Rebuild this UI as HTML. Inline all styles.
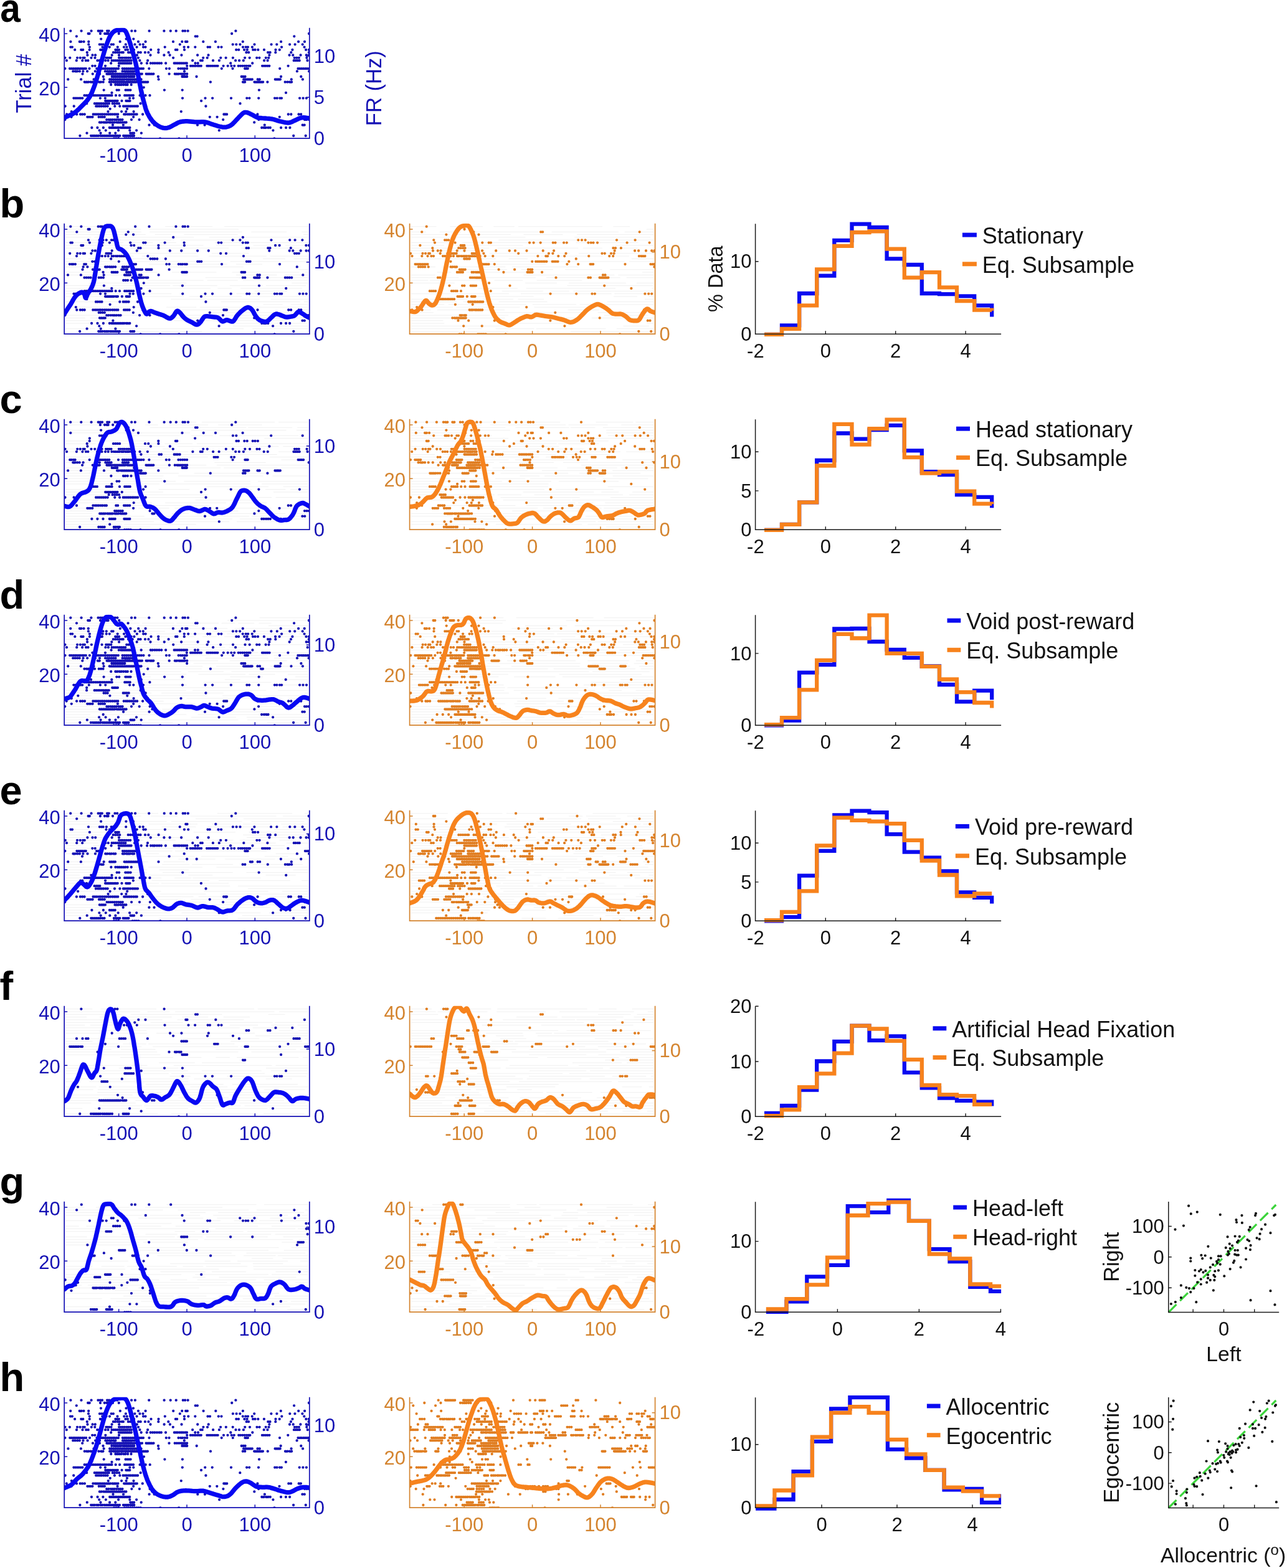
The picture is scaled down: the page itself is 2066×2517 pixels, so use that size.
<!DOCTYPE html>
<html><head><meta charset="utf-8"><style>html,body{margin:0;padding:0;background:#fff;}svg{display:block;filter:blur(0.4px);}</style></head><body>
<svg width="2066" height="2517" viewBox="0 0 2066 2517" font-family="'Liberation Sans', Arial, Helvetica, sans-serif">
<rect width="2066" height="2517" fill="#fff"/>
<clipPath id="clip_blue_a"><rect x="103.2" y="44.7" width="393.6" height="177.5"/></clipPath>
<path d="M183.1 222.3h0M186.3 222.3h0M189.7 222.3h0M200.4 222.3h0M203.2 222.3h0M206.6 222.3h0M209.8 222.3h0M213 222.3h0M215.9 222.3h0M219.3 222.3h0M222.4 222.3h0M225.8 222.3h0M257 222.3h0M287.4 222.3h0M440.4 222.3h0M128.4 218h0M146.1 218h0M149.3 218h0M152.1 218h0M155.2 218h0M158.2 218h0M161.6 218h0M164.5 218h0M167.4 218h0M170.5 218h0M173.5 218h0M176.7 218h0M179.9 218h0M182.9 218h0M186.1 218h0M188.9 218h0M192.3 218h0M198.2 218h0M200.9 218h0M203.8 218h0M206.7 218h0M209.2 218h0M212.3 218h0M215 218h0M471.2 218h0M490.7 218h0M139.5 213.7h0M161.6 213.7h0M176.2 213.7h0M185.3 213.7h0M209.3 213.7h0M212.5 213.7h0M215 213.7h0M226.9 213.7h0M159.6 209.3h0M169.8 209.3h0M190.1 209.3h0M208.3 209.3h0M219.1 209.3h0M351.8 209.3h0M438.4 209.3h0M147.4 205h0M156.4 205h0M165.9 205h0M175.8 205h0M179 205h0M181.7 205h0M184.8 205h0M188 205h0M190.5 205h0M193.9 205h0M196.8 205h0M199.6 205h0M202.2 205h0M205.3 205h0M208.4 205h0M420.2 205h0M423.6 205h0M426.8 205h0M430.5 205h0M433.8 205h0M451.1 205h0M459.1 205h0M465.4 205h0M181 200.7h0M197.9 200.7h0M239.5 200.7h0M247.8 200.7h0M317 200.7h0M328.6 200.7h0M424.8 200.7h0M485.7 200.7h0M488.7 200.7h0M159.9 196.4h0M162.9 196.4h0M166.2 196.4h0M168.9 196.4h0M172 196.4h0M175.3 196.4h0M178 196.4h0M181.1 196.4h0M184 196.4h0M187.5 196.4h0M190.2 196.4h0M193.4 196.4h0M196.4 196.4h0M199.7 196.4h0M202.6 196.4h0M244.3 196.4h0M247.7 196.4h0M408.2 196.4h0M104.4 192.1h0M171.2 192.1h0M174.7 192.1h0M177.7 192.1h0M180.8 192.1h0M184.1 192.1h0M187.1 192.1h0M190.5 192.1h0M193.4 192.1h0M196.5 192.1h0M211 192.1h0M223.6 192.1h0M240.9 192.1h0M358.2 192.1h0M415.3 192.1h0M489.1 192.1h0M492.2 192.1h0M496.1 192.1h0M114.6 187.8h0M140.3 187.8h0M143 187.8h0M145.8 187.8h0M148.5 187.8h0M158.6 187.8h0M162 187.8h0M164.9 187.8h0M167.8 187.8h0M188.9 187.8h0M214.2 187.8h0M240.9 187.8h0M336.8 187.8h0M348.6 187.8h0M448.8 187.8h0M107.1 183.5h0M123.2 183.5h0M129.1 183.5h0M132.2 183.5h0M135.8 183.5h0M149.7 183.5h0M152.6 183.5h0M155.7 183.5h0M158.7 183.5h0M162 183.5h0M164.8 183.5h0M168.1 183.5h0M171.1 183.5h0M174.2 183.5h0M177.1 183.5h0M180.1 183.5h0M183.4 183.5h0M186.2 183.5h0M189.2 183.5h0M199.2 183.5h0M201.8 183.5h0M205.2 183.5h0M208 183.5h0M211 183.5h0M214 183.5h0M216.6 183.5h0M219.6 183.5h0M229.1 183.5h0M359.4 183.5h0M361.7 183.5h0M364.1 183.5h0M413.4 183.5h0M462.8 183.5h0M467.3 183.5h0M479.5 183.5h0M483.2 183.5h0M114.8 179.1h0M121.9 179.1h0M173.5 179.1h0M195.1 179.1h0M202.3 179.1h0M214.6 179.1h0M237.3 179.1h0M290.8 179.1h0M125 174.8h0M176.7 174.8h0M204.1 174.8h0M104.6 170.5h0M118.7 170.5h0M154.3 170.5h0M157 170.5h0M160 170.5h0M163.1 170.5h0M166.6 170.5h0M169.3 170.5h0M172.7 170.5h0M184.3 170.5h0M192.3 170.5h0M198.1 170.5h0M200.9 170.5h0M203.8 170.5h0M206.6 170.5h0M209.5 170.5h0M212.1 170.5h0M215.2 170.5h0M218.3 170.5h0M220.9 170.5h0M233.8 170.5h0M330.4 170.5h0M139.2 166.2h0M151.9 166.2h0M154.9 166.2h0M157.5 166.2h0M160.5 166.2h0M163.2 166.2h0M166.3 166.2h0M169.3 166.2h0M171.9 166.2h0M175 166.2h0M180.7 166.2h0M183.9 166.2h0M187.7 166.2h0M190.9 166.2h0M225.6 166.2h0M385.5 166.2h0M139.1 161.9h0M169.2 161.9h0M171.8 161.9h0M174.8 161.9h0M177.4 161.9h0M180.3 161.9h0M183.3 161.9h0M185.8 161.9h0M188.6 161.9h0M195.5 161.9h0M202.4 161.9h0M205.5 161.9h0M208.5 161.9h0M323.1 161.9h0M118.4 157.6h0M121.1 157.6h0M123.8 157.6h0M126.9 157.6h0M129.5 157.6h0M132.3 157.6h0M142.6 157.6h0M160.9 157.6h0M168.9 157.6h0M208.2 157.6h0M214 157.6h0M230.2 157.6h0M293 157.6h0M329.5 157.6h0M341.1 157.6h0M371 157.6h0M396.3 157.6h0M400.4 157.6h0M415.2 157.6h0M441.1 157.6h0M444.8 157.6h0M449.4 157.6h0M452 157.6h0M481.1 157.6h0M486.6 157.6h0M491.9 157.6h0M135.5 153.2h0M138.7 153.2h0M141.8 153.2h0M144.4 153.2h0M147.6 153.2h0M150.4 153.2h0M153 153.2h0M155.9 153.2h0M159 153.2h0M162.2 153.2h0M165 153.2h0M167.9 153.2h0M170.9 153.2h0M173.6 153.2h0M176.4 153.2h0M179.5 153.2h0M186 153.2h0M192 153.2h0M200.2 153.2h0M202.9 153.2h0M205.7 153.2h0M208.3 153.2h0M211.5 153.2h0M213.9 153.2h0M224.6 153.2h0M233.5 153.2h0M240.5 153.2h0M146 148.9h0M179.5 148.9h0M226.7 148.9h0M459 148.9h0M166.7 144.6h0M187.6 144.6h0M190.8 144.6h0M201.6 144.6h0M204.1 144.6h0M206.8 144.6h0M209.4 144.6h0M263.9 144.6h0M292.7 144.6h0M415.9 144.6h0M230.8 140.3h0M178.2 136h0M185.3 136h0M188.7 136h0M191.7 136h0M194.9 136h0M198.2 136h0M201.6 136h0M204.6 136h0M210.7 136h0M135.8 131.7h0M139 131.7h0M142 131.7h0M145.6 131.7h0M148.8 131.7h0M151.7 131.7h0M159 131.7h0M162 131.7h0M165.7 131.7h0M175.8 131.7h0M178.9 131.7h0M182.2 131.7h0M185.3 131.7h0M188.2 131.7h0M191.2 131.7h0M194.4 131.7h0M197.4 131.7h0M200.4 131.7h0M203.5 131.7h0M206.5 131.7h0M209.6 131.7h0M212.5 131.7h0M215.7 131.7h0M218.7 131.7h0M222 131.7h0M225.1 131.7h0M228.1 131.7h0M230.9 131.7h0M234 131.7h0M237.2 131.7h0M337.9 131.7h0M390 131.7h0M393.1 131.7h0M408.5 131.7h0M411.1 131.7h0M414 131.7h0M416.6 131.7h0M419.5 131.7h0M422.1 131.7h0M429.4 131.7h0M457.7 131.7h0M461.4 131.7h0M465 131.7h0M468.1 131.7h0M109.2 127.4h0M130.1 127.4h0M150.6 127.4h0M166.7 127.4h0M176.2 127.4h0M178.8 127.4h0M181.9 127.4h0M185 127.4h0M188 127.4h0M191.2 127.4h0M193.9 127.4h0M196.9 127.4h0M199.7 127.4h0M203 127.4h0M205.6 127.4h0M208.6 127.4h0M211.8 127.4h0M215 127.4h0M217.7 127.4h0M220.7 127.4h0M223.5 127.4h0M226.6 127.4h0M254.6 127.4h0M391.2 127.4h0M393.6 127.4h0M396.8 127.4h0M399.3 127.4h0M401.9 127.4h0M404.8 127.4h0M413.7 127.4h0M416.8 127.4h0M441.8 127.4h0M444.6 127.4h0M447.3 127.4h0M449.9 127.4h0M467.8 127.4h0M485.9 127.4h0M165.8 123h0M179.7 123h0M182.5 123h0M185.2 123h0M188.3 123h0M191.4 123h0M194.3 123h0M197.5 123h0M200.2 123h0M203.1 123h0M206.4 123h0M209.5 123h0M212.2 123h0M215.3 123h0M253.9 123h0M292.5 123h0M295.1 123h0M297.2 123h0M300.1 123h0M300 123h0M315.5 123h0M387.7 123h0M390.3 123h0M393.5 123h0M451.1 123h0M483.3 123h0M132.5 118.7h0M148.8 118.7h0M156.7 118.7h0M160.1 118.7h0M171.5 118.7h0M174.5 118.7h0M177.2 118.7h0M180.4 118.7h0M183.1 118.7h0M186.3 118.7h0M189 118.7h0M192.1 118.7h0M195 118.7h0M198.1 118.7h0M201 118.7h0M204.2 118.7h0M207.1 118.7h0M210.2 118.7h0M213.2 118.7h0M216.1 118.7h0M219 118.7h0M221.9 118.7h0M225 118.7h0M227.8 118.7h0M234.7 118.7h0M237.6 118.7h0M240.3 118.7h0M243.3 118.7h0M246.4 118.7h0M271.6 118.7h0M280.8 118.7h0M283.9 118.7h0M287.1 118.7h0M290.6 118.7h0M293.8 118.7h0M296.7 118.7h0M300.2 118.7h0M117.3 114.4h0M120.9 114.4h0M124 114.4h0M127.9 114.4h0M133.4 114.4h0M140.1 114.4h0M152.8 114.4h0M159.7 114.4h0M168.9 114.4h0M172.5 114.4h0M175.7 114.4h0M178.7 114.4h0M181.9 114.4h0M185.5 114.4h0M196.6 114.4h0M200 114.4h0M203.1 114.4h0M205.9 114.4h0M209 114.4h0M212.1 114.4h0M215.1 114.4h0M296 114.4h0M476.9 114.4h0M496.1 114.4h0M104.4 110.1h0M112 110.1h0M115 110.1h0M118 110.1h0M121 110.1h0M123.8 110.1h0M126.3 110.1h0M129.5 110.1h0M132.1 110.1h0M135.1 110.1h0M137.8 110.1h0M143.5 110.1h0M155.3 110.1h0M158.4 110.1h0M161 110.1h0M163.7 110.1h0M166.9 110.1h0M169.6 110.1h0M172.4 110.1h0M175.3 110.1h0M178.5 110.1h0M181.4 110.1h0M184.1 110.1h0M187 110.1h0M190 110.1h0M196.7 110.1h0M199.8 110.1h0M203 110.1h0M206 110.1h0M209.1 110.1h0M212 110.1h0M215.2 110.1h0M218.2 110.1h0M220.9 110.1h0M224.2 110.1h0M227.2 110.1h0M230 110.1h0M239.3 110.1h0M267 110.1h0M271.9 110.1h0M286.4 110.1h0M290.2 110.1h0M293.5 110.1h0M296.6 110.1h0M300.1 110.1h0M355.8 110.1h0M373.5 110.1h0M393.1 110.1h0M395.7 110.1h0M397.8 110.1h0M449.2 110.1h0M478.5 110.1h0M481.2 110.1h0M484.3 110.1h0M487.2 110.1h0M490.3 110.1h0M493 110.1h0M496.1 110.1h0M148.3 105.8h0M152.6 105.8h0M169.1 105.8h0M190.8 105.8h0M300.2 105.8h0M305.9 105.8h0M308.7 105.8h0M311.5 105.8h0M314.2 105.8h0M317.5 105.8h0M319.9 105.8h0M322.8 105.8h0M332.4 105.8h0M335 105.8h0M337.9 105.8h0M340.8 105.8h0M343.8 105.8h0M346.8 105.8h0M349.5 105.8h0M358.6 105.8h0M365.7 105.8h0M371.4 105.8h0M376.2 105.8h0M382.7 105.8h0M386.1 105.8h0M389.4 105.8h0M392.8 105.8h0M395.7 105.8h0M399.2 105.8h0M401.4 105.8h0M421.1 105.8h0M424 105.8h0M426.7 105.8h0M429.7 105.8h0M432.3 105.8h0M462.6 105.8h0M178.2 101.5h0M191 101.5h0M193.6 101.5h0M196.8 101.5h0M199.4 101.5h0M202.3 101.5h0M205 101.5h0M207.9 101.5h0M210.4 101.5h0M226.9 101.5h0M235.9 101.5h0M241.8 101.5h0M245.4 101.5h0M248.7 101.5h0M252.2 101.5h0M255.5 101.5h0M259 101.5h0M266.1 101.5h0M279.7 101.5h0M282.4 101.5h0M285.4 101.5h0M288.4 101.5h0M291.1 101.5h0M294 101.5h0M297.1 101.5h0M299.8 101.5h0M313.5 101.5h0M317.7 101.5h0M370.2 101.5h0M405.2 101.5h0M106.9 97.2h0M122.8 97.2h0M132.3 97.2h0M137.8 97.2h0M141.3 97.2h0M156.4 97.2h0M159.7 97.2h0M163.6 97.2h0M169.3 97.2h0M173.6 97.2h0M179.6 97.2h0M182.7 97.2h0M185.8 97.2h0M188.8 97.2h0M191.9 97.2h0M195.1 97.2h0M198 97.2h0M201 97.2h0M204.2 97.2h0M207.3 97.2h0M210.6 97.2h0M216 97.2h0M224.4 97.2h0M237.1 97.2h0M309.1 97.2h0M322 97.2h0M324.8 97.2h0M342 97.2h0M351.9 97.2h0M378.1 97.2h0M384.1 97.2h0M390.8 97.2h0M424.1 97.2h0M429.6 97.2h0M471.7 97.2h0M474.6 97.2h0M477.6 97.2h0M480.7 97.2h0M493.5 97.2h0M104.4 92.8h0M112.3 92.8h0M124.1 92.8h0M128.8 92.8h0M133.4 92.8h0M135.6 92.8h0M146.5 92.8h0M152.5 92.8h0M163.9 92.8h0M170.3 92.8h0M172.8 92.8h0M175.8 92.8h0M178.1 92.8h0M191.1 92.8h0M194.1 92.8h0M197 92.8h0M200.5 92.8h0M203.1 92.8h0M206.3 92.8h0M209.5 92.8h0M221.9 92.8h0M278.1 92.8h0M326.2 92.8h0M332.7 92.8h0M354.3 92.8h0M362.6 92.8h0M373.9 92.8h0M393.1 92.8h0M400.7 92.8h0M412.2 92.8h0M416.4 92.8h0M426.8 92.8h0M431.2 92.8h0M472.7 92.8h0M476.3 92.8h0M479.9 92.8h0M492.4 92.8h0M140.4 88.5h0M148.5 88.5h0M153.1 88.5h0M179.7 88.5h0M191 88.5h0M219.9 88.5h0M241.5 88.5h0M263.4 88.5h0M272.6 88.5h0M291.4 88.5h0M317.1 88.5h0M334.5 88.5h0M432.4 88.5h0M464.6 88.5h0M470.3 88.5h0M482.6 88.5h0M491.8 88.5h0M495.9 88.5h0M139.8 84.2h0M182 84.2h0M185.3 84.2h0M188.7 84.2h0M192 84.2h0M195.6 84.2h0M197.8 84.2h0M206.1 84.2h0M209.3 84.2h0M212.9 84.2h0M222 84.2h0M225.8 84.2h0M232.9 84.2h0M238.3 84.2h0M254.3 84.2h0M270.6 84.2h0M395.4 84.2h0M399.2 84.2h0M430.1 84.2h0M433.6 84.2h0M442.3 84.2h0M467.3 84.2h0M495.9 84.2h0M120.2 79.9h0M130.3 79.9h0M133.2 79.9h0M143.6 79.9h0M161.2 79.9h0M163.7 79.9h0M185.4 79.9h0M188.1 79.9h0M191.1 79.9h0M201.4 79.9h0M205 79.9h0M210.5 79.9h0M215 79.9h0M242.2 79.9h0M254.4 79.9h0M281.9 79.9h0M284.4 79.9h0M296 79.9h0M379.2 79.9h0M383.2 79.9h0M392.1 79.9h0M396.8 79.9h0M406.2 79.9h0M409.5 79.9h0M414.3 79.9h0M424 79.9h0M442.5 79.9h0M448.8 79.9h0M469.4 79.9h0M491.1 79.9h0M495.9 79.9h0M113.4 75.6h0M115.9 75.6h0M143.9 75.6h0M164.5 75.6h0M170.6 75.6h0M175.8 75.6h0M188.8 75.6h0M199 75.6h0M203.5 75.6h0M209.1 75.6h0M219.6 75.6h0M230.1 75.6h0M233.5 75.6h0M264.7 75.6h0M295.6 75.6h0M302.1 75.6h0M313.3 75.6h0M333.6 75.6h0M337 75.6h0M350.5 75.6h0M355.5 75.6h0M390 75.6h0M394.7 75.6h0M397.9 75.6h0M404.9 75.6h0M452.1 75.6h0M488.6 75.6h0M142.3 71.3h0M159.8 71.3h0M162.5 71.3h0M165.7 71.3h0M170.8 71.3h0M178.7 71.3h0M182 71.3h0M201.8 71.3h0M216.5 71.3h0M224.6 71.3h0M229.8 71.3h0M288.8 71.3h0M373.7 71.3h0M379.3 71.3h0M385.4 71.3h0M408.5 71.3h0M435.6 71.3h0M444.3 71.3h0M465.1 71.3h0M473.6 71.3h0M485.7 71.3h0M113.4 66.9h0M127.8 66.9h0M130.5 66.9h0M134.6 66.9h0M142.3 66.9h0M192.7 66.9h0M209.1 66.9h0M222 66.9h0M233.6 66.9h0M278 66.9h0M292.3 66.9h0M298 66.9h0M300.4 66.9h0M326.3 66.9h0M345.9 66.9h0M389.8 66.9h0M451.1 66.9h0M479.1 66.9h0M489 66.9h0M162.2 62.6h0M202.6 62.6h0M214.3 62.6h0M122.9 58.3h0M205.8 58.3h0M313.7 58.3h0M316.6 58.3h0M472.3 58.3h0M141.7 54h0M143.5 54h0M161 54h0M168.2 54h0M171.3 54h0M173.7 54h0M181.1 54h0M190.8 54h0M372.1 54h0M496 54h0M113.3 49.7h0M130.6 49.7h0M146.6 49.7h0M157.8 49.7h0M161 49.7h0M163.8 49.7h0M172.1 49.7h0M174.7 49.7h0M184.9 49.7h0M188.1 49.7h0M211.4 49.7h0M217 49.7h0M239.6 49.7h0M263.4 49.7h0M273.8 49.7h0M282.7 49.7h0M293.4 49.7h0M297 49.7h0M301.6 49.7h0M378.4 49.7h0" stroke="#1411b4" stroke-width="4.3" stroke-linecap="round" fill="none" clip-path="url(#clip_blue_a)"/>
<path d="M103.2 188.8L105.4 187.9L108.4 186.6L112 185.1L115.5 183.5L118.6 181.7L121.2 179.8L123.6 177.8L125.9 175.7L128.1 173.4L130.4 171.1L132.9 168.6L135.4 166.1L137.9 163.5L140.2 160.8L142.2 158.1L144 155.4L145.4 152.8L146.7 150.2L148 147.2L149.3 143.9L150.7 140.2L152.2 136.2L153.6 131.8L155 127.3L156.4 122.7L157.8 117.7L159.2 112.5L160.7 107.1L162.1 101.8L163.5 96.7L164.9 91.7L166.3 86.7L167.7 81.9L169.2 77.3L170.6 73.1L172 69.2L173.4 65.5L174.8 62.1L176.2 59.1L177.7 56.5L179.1 54.4L180.5 52.7L181.9 51.4L183.3 50.3L184.7 49.4L186.2 48.8L187.6 48.5L189 48.4L190.4 48.3L191.8 48.3L193.3 48.1L194.8 47.9L196.3 47.8L197.7 47.9L198.9 48.3L200 48.8L200.9 49.5L201.7 50.4L202.6 51.9L203.6 54.2L204.9 57.4L206.3 61.3L207.8 65.8L209.3 70.6L210.7 75.4L212.2 80.4L213.7 85.6L215.1 91L216.5 96.3L217.8 101.4L218.9 106.3L219.9 111L220.8 115.7L221.6 120.3L222.5 125L223.5 129.8L224.4 134.7L225.4 139.5L226.3 144.2L227.3 148.6L228.2 152.8L229.1 156.8L230.1 160.5L231 164.1L232 167.5L232.9 170.7L233.6 173.5L234.5 176.3L235.5 178.9L236.7 181.7L238.3 184.6L240 187.7L242 190.6L244 193.4L246.2 195.9L248.4 198L250.8 199.9L253.2 201.6L255.6 203L258 204.1L260.2 204.9L262.3 205.4L264.4 205.6L266.5 205.6L268.6 205.3L270.7 204.8L272.9 203.9L275.1 202.8L277.2 201.6L279.2 200.6L281.1 199.6L283 198.5L284.8 197.5L286.6 196.6L288.7 195.9L290.8 195.4L293.1 195L295.5 194.8L297.9 194.7L300.5 194.7L303.2 194.8L306 195.1L308.9 195.4L311.8 195.7L314.6 195.9L317.5 195.9L320.4 195.8L323.3 195.7L326.1 195.7L328.8 195.9L331.3 196.4L333.7 197L336 197.8L338.3 198.7L340.6 199.4L343 200.2L345.5 200.9L347.9 201.7L350.2 202.4L352.4 203L354.5 203.4L356.4 203.8L358.2 204.1L360 204.2L361.9 204.1L363.8 203.8L365.7 203.3L367.5 202.7L369.4 201.8L371.3 200.6L373.2 199.1L375.1 197.2L377 195.2L378.9 193.1L380.8 191.2L382.7 189.1L384.7 187L386.7 184.9L388.6 183.1L390.2 181.7L391.6 180.9L392.7 180.4L393.8 180.3L394.8 180.3L396.1 180.5L397.6 180.9L399.2 181.5L400.9 182.3L402.6 183.2L404.4 184.1L406.2 185L408 186L409.8 187.1L411.8 188.1L413.8 188.8L416 189.3L418.4 189.5L420.8 189.7L423.2 189.8L425.6 190L428 190.2L430.4 190.3L432.7 190.5L435.1 190.8L437.5 191.2L439.8 191.7L442.1 192.5L444.4 193.2L446.7 194L449.3 194.7L452 195.3L455 196L458 196.6L460.9 197L463.4 197.1L465.6 196.7L467.4 196.1L469.2 195.3L470.9 194.4L472.9 193.5L475.1 192.6L477.4 191.4L479.8 190.3L482.3 189.4L484.7 188.8L487.3 188.7L490.1 188.9L492.8 189.3L495.1 189.7L496.8 190" stroke="#0808f2" stroke-width="7.3" stroke-linecap="round" stroke-linejoin="round" fill="none" clip-path="url(#clip_blue_a)"/>
<path d="M103.2 44.7V222.2H496.8V44.7" stroke="#1410b4" stroke-width="1.7" fill="none"/>
<path d="M190.7 222.2V217.2M300 222.2V217.2M409.3 222.2V217.2M103.2 140.3H108.2M103.2 54H108.2M496.8 90.3H491.8M496.8 156.2H491.8" stroke="#1410b4" stroke-width="1.5" fill="none"/>
<g fill="#1410b4" font-size="31"><text x="190.7" y="260.2" text-anchor="middle">-100</text><text x="300" y="260.2" text-anchor="middle">0</text><text x="409.3" y="260.2" text-anchor="middle">100</text><text x="96.7" y="152.8" text-anchor="end">20</text><text x="96.7" y="66.5" text-anchor="end">40</text><text x="503.8" y="101">10</text><text x="503.8" y="232.9">0</text><text x="503.8" y="166.9">5</text></g>
<clipPath id="clip_blue_b"><rect x="103.2" y="358.7" width="393.6" height="177.5"/></clipPath>
<path d="M105.2 536.3H236.5M240.6 536.3H388.7M395.6 536.3H494.8M173.5 532H324M105.2 527.7H153.1M174.3 527.7H314.7M337.1 527.7H391M405.3 527.7H494.8M373.8 523.3H494.8M105.2 519H143.3M167 519H187.8M372.6 519H494M105.2 514.7H178.1M279.5 514.7H348.7M365.9 514.7H459.8M105.2 510.4H136.9M144.8 510.4H177M272.2 510.4H357.6M380.9 510.4H494.8M105.2 506.1H159.3M181.4 506.1H292.4M298.3 506.1H334.9M348.5 506.1H459.9M481.7 506.1H494.8M334 501.8H463.5M476.3 501.8H494.8M278.5 497.5H384M486.8 497.5H494.8M105.2 493.1H244.1M266.8 493.1H315M320.9 493.1H392M408.9 493.1H494.8M422.7 488.8H453.7M466.7 488.8H494.8M105.2 484.5H209M354.8 484.5H481.7M487.9 484.5H494.8M274.4 480.2H416.8M435 480.2H494.8M105.2 475.9H200.3M220.2 475.9H295.2M303.5 475.9H388.3M400.5 475.9H494.8M105.2 471.6H137.1M148.2 471.6H275.4M379.5 471.6H438.5M105.2 467.2H195.2M408.9 467.2H460.6M482.6 467.2H494.8M105.2 462.9H164.7M168.7 462.9H211.5M235.3 462.9H338.1M349.5 462.9H372M386.1 462.9H485M105.2 458.6H171.2M180.2 458.6H273.2M277.2 458.6H348.9M368.9 458.6H421.6M426.8 458.6H491M142.6 454.3H299.4M468.3 454.3H494.8M236.1 450H326.8M332.5 450H381.7M389.8 450H494.8M329.5 445.7H387.8M396.1 445.7H494.8M105.2 441.4H210.8M379 441.4H444.5M458 441.4H494.8M105.2 437H252.2M275.8 437H347.5M372.4 437H480.6M489.7 437H494.8M479 432.7H494.8M105.2 428.4H220.9M270.9 428.4H390.8M105.2 424.1H170.8M195.2 424.1H216.9M239 424.1H364.8M379 424.1H421M105.2 419.8H197.6M207.8 419.8H354.8M369.6 419.8H491.7M105.2 415.5H129.8M141.5 415.5H245.4M422 415.5H457.9M471.4 415.5H494.8M187.3 411.1H214.6M227.9 411.1H248.5M266.8 411.1H318.4M335 411.1H428M433.5 411.1H494.8M189.5 406.8H315.1M339.7 406.8H399.4M469.3 402.5H494.8M105.2 398.2H145.1M168.6 398.2H206.7M210 398.2H367.3M387 398.2H481M105.2 393.9H186.5M191.7 393.9H326.4M346.9 393.9H390.1M406.5 393.9H444.3M458.2 393.9H494.8M105.2 389.6H198.1M205.8 389.6H245.4M256.4 389.6H282.9M345.2 389.6H494.8M135 385.3H275.4M290 385.3H395.8M105.2 380.9H146.3M151.5 380.9H311.3M335.7 380.9H494.8M105.2 376.6H233.8M248.8 376.6H275.1M295.5 376.6H381.8M486.9 376.6H494.8M105.2 372.3H178.5M185.5 372.3H226.8M240.3 372.3H388.7M403.3 372.3H460.2M484.3 372.3H494.8M105.2 368H170.5M178.5 368H226.5M239.2 368H383.1M105.2 363.7H174.4M265.2 363.7H341.1M360 363.7H494.8" stroke="#f0f0f0" stroke-width="1" fill="none"/>
<path d="M225.7 536.3h0M257.1 536.3h0M287.4 536.3h0M440.7 536.3h0M128.1 532h0M158.3 532h0M161.2 532h0M164.3 532h0M167.7 532h0M170.8 532h0M173.6 532h0M176.9 532h0M179.8 532h0M183 532h0M186.2 532h0M189 532h0M192 532h0M209.4 532h0M212.6 532h0M215.2 532h0M471.3 532h0M139.6 527.7h0M161.8 527.7h0M185.4 527.7h0M159.3 523.3h0M219.1 523.3h0M351.6 523.3h0M438.1 523.3h0M147.1 519h0M156.5 519h0M165.9 519h0M175.9 519h0M179.2 519h0M181.7 519h0M184.8 519h0M187.9 519h0M190.9 519h0M193.8 519h0M196.8 519h0M199.3 519h0M202.6 519h0M205.1 519h0M208.3 519h0M420.3 519h0M423.7 519h0M426.8 519h0M430.3 519h0M451 519h0M459.1 519h0M465.1 519h0M181.4 514.7h0M317.2 514.7h0M485.5 514.7h0M488.8 514.7h0M160 510.4h0M163 510.4h0M166.2 510.4h0M168.8 510.4h0M408.2 510.4h0M104.4 506.1h0M171.2 506.1h0M174.4 506.1h0M177.9 506.1h0M181.2 506.1h0M183.9 506.1h0M187.1 506.1h0M190.5 506.1h0M193.6 506.1h0M224.1 506.1h0M240.5 506.1h0M358 506.1h0M488.8 506.1h0M492.4 506.1h0M495.7 506.1h0M158.7 501.8h0M161.6 501.8h0M164.9 501.8h0M167.9 501.8h0M213.9 501.8h0M240.5 501.8h0M336.8 501.8h0M106.8 497.5h0M123.3 497.5h0M128.9 497.5h0M132.4 497.5h0M135.7 497.5h0M149.3 497.5h0M152.7 497.5h0M155.8 497.5h0M159 497.5h0M161.6 497.5h0M164.7 497.5h0M168.1 497.5h0M170.9 497.5h0M173.9 497.5h0M177 497.5h0M180.4 497.5h0M183.4 497.5h0M186.6 497.5h0M189.4 497.5h0M199.1 497.5h0M202 497.5h0M204.9 497.5h0M207.8 497.5h0M229.2 497.5h0M359.3 497.5h0M361.6 497.5h0M363.9 497.5h0M413.5 497.5h0M463.2 497.5h0M467.1 497.5h0M479.7 497.5h0M483.3 497.5h0M121.8 493.1h0M214.7 493.1h0M176.6 488.8h0M154 484.5h0M157 484.5h0M160.4 484.5h0M163.5 484.5h0M192.3 484.5h0M197.8 484.5h0M200.8 484.5h0M203.4 484.5h0M206.6 484.5h0M221 484.5h0M330.4 484.5h0M139.3 480.2h0M139.4 475.9h0M169.1 475.9h0M172 475.9h0M174.8 475.9h0M177.5 475.9h0M180.2 475.9h0M182.9 475.9h0M186.2 475.9h0M188.9 475.9h0M195.9 475.9h0M202.7 475.9h0M205.2 475.9h0M208.1 475.9h0M323 475.9h0M118.5 471.6h0M121.3 471.6h0M124.1 471.6h0M126.7 471.6h0M129.4 471.6h0M132.3 471.6h0M142.6 471.6h0M161.1 471.6h0M169 471.6h0M208.5 471.6h0M213.8 471.6h0M230.4 471.6h0M293.2 471.6h0M329.5 471.6h0M341 471.6h0M370.7 471.6h0M396.3 471.6h0M400.2 471.6h0M415.3 471.6h0M440.9 471.6h0M444.7 471.6h0M449.3 471.6h0M452.2 471.6h0M481 471.6h0M486.4 471.6h0M491.7 471.6h0M135.8 467.2h0M138.6 467.2h0M141.4 467.2h0M144.6 467.2h0M147.6 467.2h0M150.3 467.2h0M153.2 467.2h0M156.2 467.2h0M159.2 467.2h0M162 467.2h0M164.8 467.2h0M167.7 467.2h0M170.6 467.2h0M173.6 467.2h0M176.5 467.2h0M179.7 467.2h0M185.7 467.2h0M192 467.2h0M200.1 467.2h0M203 467.2h0M205.9 467.2h0M208.5 467.2h0M211.2 467.2h0M214.2 467.2h0M224.2 467.2h0M240.5 467.2h0M146.2 462.9h0M179.3 462.9h0M226.6 462.9h0M459.2 462.9h0M166.9 458.6h0M292.9 458.6h0M416 458.6h0M230.8 454.3h0M198.2 450h0M201.5 450h0M205 450h0M210.5 450h0M135.5 445.7h0M138.9 445.7h0M142.3 445.7h0M145.6 445.7h0M158.8 445.7h0M162.2 445.7h0M165.9 445.7h0M212.6 445.7h0M215.8 445.7h0M218.6 445.7h0M222 445.7h0M225.1 445.7h0M228 445.7h0M230.8 445.7h0M234.3 445.7h0M237.3 445.7h0M389.9 445.7h0M393.3 445.7h0M408.2 445.7h0M411 445.7h0M413.8 445.7h0M416.4 445.7h0M429.4 445.7h0M457.9 445.7h0M461.2 445.7h0M464.6 445.7h0M468.2 445.7h0M109 441.4h0M129.9 441.4h0M150.9 441.4h0M166.7 441.4h0M200 441.4h0M202.9 441.4h0M205.9 441.4h0M208.9 441.4h0M223.6 441.4h0M226.7 441.4h0M254.6 441.4h0M413.3 441.4h0M416.8 441.4h0M486.3 441.4h0M165.6 437h0M179.6 437h0M182.4 437h0M185.4 437h0M188.4 437h0M203.1 437h0M206.1 437h0M209.2 437h0M212 437h0M292.4 437h0M295.1 437h0M297.4 437h0M299.8 437h0M387.6 437h0M390.3 437h0M393.1 437h0M132.5 432.7h0M149 432.7h0M156.9 432.7h0M159.8 432.7h0M195.3 432.7h0M198.1 432.7h0M201.2 432.7h0M203.9 432.7h0M218.8 432.7h0M221.8 432.7h0M224.9 432.7h0M228 432.7h0M234.6 432.7h0M237.6 432.7h0M240.8 432.7h0M243.4 432.7h0M271.6 432.7h0M133.7 428.4h0M140.4 428.4h0M169.1 428.4h0M172.3 428.4h0M175.7 428.4h0M178.8 428.4h0M181.9 428.4h0M185.2 428.4h0M196.9 428.4h0M199.7 428.4h0M203 428.4h0M206.2 428.4h0M476.8 428.4h0M111.9 424.1h0M115.2 424.1h0M117.6 424.1h0M120.9 424.1h0M135.2 424.1h0M137.9 424.1h0M208.8 424.1h0M211.9 424.1h0M215 424.1h0M218 424.1h0M267.3 424.1h0M271.7 424.1h0M286.7 424.1h0M290.1 424.1h0M293.2 424.1h0M296.8 424.1h0M299.8 424.1h0M356 424.1h0M449 424.1h0M148.3 419.8h0M152.2 419.8h0M190.8 419.8h0M317.2 419.8h0M320 419.8h0M323.2 419.8h0M395.9 419.8h0M399 419.8h0M401.6 419.8h0M178.2 415.5h0M241.5 415.5h0M245.2 415.5h0M248.4 415.5h0M252.3 415.5h0M265.9 415.5h0M123 411.1h0M156.5 411.1h0M159.7 411.1h0M163.9 411.1h0M168.9 411.1h0M173.7 411.1h0M179.6 411.1h0M182.4 411.1h0M186 411.1h0M188.8 411.1h0M192.1 411.1h0M195 411.1h0M198.1 411.1h0M201.3 411.1h0M237.3 411.1h0M391 411.1h0M112.2 406.8h0M124.2 406.8h0M128.7 406.8h0M133.6 406.8h0M136 406.8h0M146.4 406.8h0M170.5 406.8h0M173.2 406.8h0M175.6 406.8h0M178.2 406.8h0M354.2 406.8h0M363 406.8h0M473 406.8h0M476.4 406.8h0M479.9 406.8h0M148.4 402.5h0M152.8 402.5h0M179.7 402.5h0M219.8 402.5h0M272.8 402.5h0M291.2 402.5h0M317.1 402.5h0M334.8 402.5h0M432.3 402.5h0M464.7 402.5h0M470.3 402.5h0M482.7 402.5h0M491.6 402.5h0M496 402.5h0M222.2 398.2h0M225.6 398.2h0M254.5 398.2h0M395.6 398.2h0M399 398.2h0M430.3 398.2h0M433.5 398.2h0M466.9 398.2h0M130.4 393.9h0M133.2 393.9h0M161.1 393.9h0M163.8 393.9h0M210.6 393.9h0M215.2 393.9h0M254.4 393.9h0M295.9 393.9h0M442.1 393.9h0M448.6 393.9h0M491.4 393.9h0M496 393.9h0M113.4 389.6h0M115.9 389.6h0M143.9 389.6h0M164.7 389.6h0M175.9 389.6h0M188.7 389.6h0M209.3 389.6h0M230.2 389.6h0M233.5 389.6h0M264.6 389.6h0M295.6 389.6h0M350.8 389.6h0M355.2 389.6h0M389.8 389.6h0M394.6 389.6h0M397.8 389.6h0M141.9 385.3h0M159.7 385.3h0M162.9 385.3h0M165.5 385.3h0M170.8 385.3h0M179 385.3h0M182 385.3h0M373.6 385.3h0M385.4 385.3h0M435.5 385.3h0M465.2 385.3h0M473.6 385.3h0M485.4 385.3h0M278.2 380.9h0M389.9 380.9h0M202.3 376.6h0M214.1 376.6h0M123.3 372.3h0M205.8 372.3h0M141.7 368h0M143.7 368h0M113.3 363.7h0M130.4 363.7h0M157.7 363.7h0M161.3 363.7h0M163.8 363.7h0M217.2 363.7h0M239.5 363.7h0M282.4 363.7h0M293.5 363.7h0M296.9 363.7h0M301.7 363.7h0" stroke="#1411b4" stroke-width="4.3" stroke-linecap="round" fill="none" clip-path="url(#clip_blue_b)"/>
<path d="M103.2 504.2L104 502.8L105.2 500.9L106.6 498.8L108 496.6L109.2 494.7L110.2 493.2L111.1 491.8L112.1 490.4L113 489.1L113.9 487.6L114.8 486L115.8 484.3L116.7 482.5L117.7 480.9L118.6 479.4L119.5 478L120.4 476.7L121.3 475.6L122.2 474.5L123.3 473.4L124.6 472.4L126.1 471.3L127.6 470.4L129.1 469.6L130.4 469.2L131.6 469.1L132.6 469.3L133.5 469.7L134.4 470.3L135.1 471.1L135.8 472.4L136.2 474.2L136.6 476.1L137 477.6L137.5 478.2L138.1 477.7L138.8 476.4L139.5 474.6L140.3 472.7L141.1 471.1L141.9 469.7L142.9 468.5L143.8 467.2L144.8 465.7L145.8 464L146.7 462.1L147.7 460.1L148.7 457.8L149.6 455.2L150.5 452.2L151.3 448.5L152 444.4L152.7 439.9L153.4 435.3L154 430.9L154.8 426.6L155.5 422.3L156.2 418L156.9 413.8L157.6 409.7L158.3 405.7L159 401.8L159.7 398.1L160.4 394.4L161.1 390.8L161.8 387.2L162.5 383.7L163.3 380.2L164 377.1L164.7 374.3L165.4 371.8L166 369.6L166.7 367.7L167.4 366.1L168.2 364.8L169.1 363.9L170 363.4L170.9 363.1L171.9 363L172.9 362.9L174.1 362.8L175.3 362.8L176.6 362.8L177.8 363.1L178.8 363.6L179.7 364.3L180.4 365.2L181.1 366.3L181.7 367.7L182.4 369.5L183.1 371.8L183.8 374.6L184.5 377.6L185.2 380.7L185.9 383.7L186.6 386.7L187.3 389.9L188 393.1L188.7 395.8L189.5 397.9L190.3 399.1L191.3 399.6L192.2 399.8L193.2 399.9L194.2 400.2L195.1 400.8L196.1 401.5L197 402.1L198 402.9L198.9 403.8L199.9 404.8L200.8 405.8L201.8 407L202.7 408.2L203.6 409.7L204.6 411.3L205.5 413.1L206.5 415L207.4 417L208.4 419.1L209.3 421.3L210.3 423.7L211.3 426.1L212.2 428.5L213.1 430.9L213.9 433.3L214.6 435.5L215.3 437.9L215.9 440.2L216.6 442.7L217.3 445.4L218 448.1L218.8 451L219.5 453.9L220.2 456.9L220.9 460.1L221.6 463.5L222.3 466.9L223 470.3L223.7 473.4L224.4 476.5L225.1 479.4L225.8 482.2L226.5 485L227.3 487.6L228.1 490.2L229.1 492.9L230.1 495.3L231.1 497.6L232 499.4L232.8 501L233.5 502.2L234.2 503.2L234.8 503.8L235.5 504.2L236.2 503.9L236.9 503.2L237.6 502.3L238.4 501.3L239.1 500.6L239.7 500.2L240.4 499.8L241 499.5L241.7 499.4L242.6 499.4L243.6 499.7L244.7 500.1L246 500.7L247.2 501.3L248.5 501.8L249.9 502.3L251.3 502.7L252.7 503.2L254.2 503.7L255.6 504.2L257 504.6L258.3 505L259.7 505.4L261.1 505.9L262.7 506.5L264.5 507.4L266.5 508.6L268.5 509.8L270.4 510.8L272.1 511.2L273.5 511.1L274.7 510.6L275.8 509.8L276.9 508.8L278 507.7L279.2 506.2L280.5 504.2L281.7 502.2L282.8 500.5L283.9 499.4L284.9 499.1L285.9 499.4L286.7 500L287.7 500.8L288.7 501.8L289.8 502.9L290.9 504.4L292.1 506L293.4 507.5L294.6 508.9L295.7 510L296.9 511L298 511.9L299.2 512.8L300.5 513.6L301.8 514.4L303.2 515.1L304.6 515.7L306 516.4L307.6 517.1L309.2 518L310.9 519.1L312.6 520.1L314.3 520.9L315.8 521.2L317.2 520.9L318.4 520.3L319.5 519.4L320.6 518.3L321.7 517.1L322.9 515.6L324.1 513.8L325.3 511.9L326.5 510.1L327.6 508.9L328.8 508.1L329.8 507.8L330.9 507.7L332.1 507.7L333.5 507.7L335.2 507.8L337.2 508L339.2 508.3L341.2 508.6L343 508.9L344.6 509L346 509.1L347.3 509.2L348.7 509.5L350.1 510.1L351.5 511.1L352.9 512.5L354.3 514L355.7 515.2L357.2 516L358.5 515.9L359.9 515.4L361.2 514.6L362.7 513.9L364.2 513.6L366 514L368 514.8L370 515.6L371.9 516.2L373.7 516L375.3 514.8L376.7 512.9L378.1 510.7L379.4 508.4L380.8 506.5L382.2 504.9L383.5 503.5L384.9 502.1L386.3 500.7L387.9 499.4L389.6 498L391.6 496.5L393.6 495.1L395.5 494.1L397.3 493.5L398.9 493.5L400.3 493.9L401.7 494.6L403 495.7L404.4 497.1L405.8 499L407.2 501.5L408.6 504.2L410.1 506.8L411.5 508.9L412.9 510.5L414.2 511.9L415.6 513L417 514L418.6 514.8L420.3 515.4L422.3 515.9L424.3 516.2L426.2 516.3L428 516L429.6 515.2L431 514.1L432.4 512.8L433.7 511.4L435.1 510.1L436.5 508.8L437.9 507.4L439.3 506L440.8 504.9L442.2 504.2L443.6 503.9L444.9 504L446.3 504.4L447.7 504.8L449.3 505.3L451 506L453 506.8L455 507.6L456.9 508.4L458.7 508.9L460.3 509.1L461.7 509L463.1 508.9L464.4 508.7L465.8 508.4L467.2 508.2L468.7 507.9L470.1 507.6L471.5 507.2L472.9 506.5L474.1 505.5L475.3 504L476.5 502.6L477.6 501.3L478.8 500.6L479.9 500.5L481.1 500.8L482.2 501.5L483.4 502.2L484.7 503L486.1 503.8L487.5 504.8L489 505.9L490.5 506.9L491.8 507.7L493 508.4L494.2 508.9L495.3 509.4L496.1 509.8L496.8 510.1" stroke="#0808f2" stroke-width="7.3" stroke-linecap="round" stroke-linejoin="round" fill="none" clip-path="url(#clip_blue_b)"/>
<path d="M103.2 358.7V536.2H496.8V358.7" stroke="#1410b4" stroke-width="1.7" fill="none"/>
<path d="M190.7 536.2V531.2M300 536.2V531.2M409.3 536.2V531.2M103.2 454.3H108.2M103.2 368H108.2M496.8 420.7H491.8" stroke="#1410b4" stroke-width="1.5" fill="none"/>
<g fill="#1410b4" font-size="31"><text x="190.7" y="574.2" text-anchor="middle">-100</text><text x="300" y="574.2" text-anchor="middle">0</text><text x="409.3" y="574.2" text-anchor="middle">100</text><text x="96.7" y="466.8" text-anchor="end">20</text><text x="96.7" y="380.5" text-anchor="end">40</text><text x="503.8" y="431.4">10</text><text x="503.8" y="546.9">0</text></g>
<clipPath id="clip_orange_b"><rect x="657.6" y="358.7" width="394" height="177.5"/></clipPath>
<path d="M803.1 536.3H909.3M1040.8 536.3H1049.6M659.6 532H815.8M916.1 532H1049.1M659.6 527.7H740.1M750.8 527.7H774.1M795.7 527.7H857.6M860.8 527.7H972.5M989.8 527.7H1049.6M659.6 523.3H814.9M1000.5 523.3H1042M659.6 519H713.2M813.2 519H904.6M1038.2 519H1049.6M659.6 514.7H711.3M894.7 514.7H919.9M659.6 510.4H810.7M831 510.4H926M949.6 510.4H1049.6M659.6 506.1H786.1M791.8 506.1H816.2M969.8 506.1H1040.9M659.6 501.8H695.8M786.3 501.8H940.8M959.7 501.8H1049.6M659.6 497.5H691.6M701.8 497.5H810.1M911.7 497.5H961.6M1039.2 497.5H1049.6M659.6 493.1H726.8M732.5 493.1H834.6M857.5 493.1H963.5M659.6 488.8H713.2M719.8 488.8H845.1M854.8 488.8H924.9M930.6 488.8H961.8M969.2 488.8H1049.6M659.6 484.5H732.8M743.5 484.5H780.6M800.6 484.5H878.4M974.7 484.5H1049.6M659.6 480.2H749.9M774.7 480.2H823.7M831.6 480.2H873M1034.9 480.2H1049.6M721.2 475.9H741.3M748.8 475.9H856.7M985.2 475.9H1023.1M1041.3 475.9H1049.6M659.6 471.6H816.8M836 471.6H981.7M986.3 471.6H1049.6M805.8 467.2H871.7M883.2 467.2H913.8M920.4 467.2H1049.6M767.4 462.9H831.1M844.6 462.9H988.1M1046.1 462.9H1049.6M910.5 458.6H1048M659.6 454.3H729.8M843.2 454.3H893.9M913.1 454.3H1004.8M1021.7 454.3H1049.6M659.6 450H687.5M689.7 450H778.2M793.6 450H839.2M861.6 450H934.3M659.6 445.7H736.5M755.8 445.7H859.9M876.9 445.7H995.7M1005.7 445.7H1049.6M659.6 441.4H698.8M840.5 441.4H986.4M992.3 441.4H1049.6M701.7 437H724.5M748.4 437H858.3M1031.1 437H1049.6M734.5 432.7H813.9M836.7 432.7H887.9M907.1 432.7H966.5M979.4 432.7H1049.6M659.6 428.4H699.2M717.8 428.4H811.5M822.1 428.4H928.3M787.9 424.1H876.8M779.4 419.8H853.2M856.3 419.8H1003M1009.9 419.8H1049.6M659.6 415.5H795.8M816.7 415.5H847.1M1013.8 415.5H1049.6M748.6 411.1H864.7M868 411.1H967.5M989.3 411.1H1010M659.6 406.8H720.5M785.5 406.8H890.6M893.8 406.8H914.7M928.8 406.8H1049.6M659.6 402.5H777.4M659.6 398.2H785.6M798.6 398.2H928.4M935.9 398.2H966.8M983.8 398.2H1023.8M659.6 393.9H713.1M730.4 393.9H839.5M987.9 393.9H1049.6M659.6 389.6H721.2M742.2 389.6H769.9M777.5 389.6H910M924.5 389.6H1024.6M800.2 385.3H927M937.9 385.3H1049.6M659.6 380.9H757.2M762.9 380.9H843.3M922.2 380.9H1044.3M659.6 376.6H722M733.6 376.6H819.8M840.5 376.6H903.4M926.2 376.6H1049.6M659.6 372.3H684M705.8 372.3H740M755.8 372.3H863.7M885.6 372.3H992.9M1002.8 372.3H1049.6M1037.8 368H1049.6M659.6 363.7H700.6M722.4 363.7H774.8M792.3 363.7H825.9M832.1 363.7H966.9M984.4 363.7H1011.1" stroke="#f0f0f0" stroke-width="1" fill="none"/>
<path d="M737.5 536.3h0M740.6 536.3h0M744.5 536.3h0M767.4 536.3h0M770.4 536.3h0M773.6 536.3h0M776.6 536.3h0M779.8 536.3h0M811.7 536.3h0M995.1 536.3h0M1025.3 532h0M1045.2 532h0M744.2 523.3h0M773.7 523.3h0M906.4 523.3h0M735.5 514.7h0M752.2 514.7h0M793.8 514.7h0M883.4 514.7h0M1039.8 514.7h0M1043.5 514.7h0M726.3 510.4h0M729.7 510.4h0M732.8 510.4h0M735.6 510.4h0M738.5 510.4h0M741.5 510.4h0M744.6 510.4h0M747.7 510.4h0M962.7 510.4h0M738.7 506.1h0M741.5 506.1h0M745.1 506.1h0M747.8 506.1h0M891.3 501.8h0M661.4 497.5h0M677.6 497.5h0M753.7 497.5h0M756.7 497.5h0M759.2 497.5h0M762.5 497.5h0M765.1 497.5h0M768.3 497.5h0M771.2 497.5h0M774.2 497.5h0M1033.9 497.5h0M1037.5 497.5h0M669.2 493.1h0M676.2 493.1h0M791.4 493.1h0M845.2 493.1h0M730.9 488.8h0M758.7 488.8h0M752.2 484.5h0M755.3 484.5h0M758.1 484.5h0M761.2 484.5h0M763.6 484.5h0M766.7 484.5h0M769.9 484.5h0M772.2 484.5h0M775.2 484.5h0M706.4 480.2h0M709.4 480.2h0M711.8 480.2h0M714.7 480.2h0M717.9 480.2h0M720.6 480.2h0M723.7 480.2h0M726.2 480.2h0M729.1 480.2h0M734.6 475.9h0M737.5 475.9h0M740.2 475.9h0M743.1 475.9h0M749.8 475.9h0M757 475.9h0M759.7 475.9h0M762.6 475.9h0M883.6 471.6h0M925.2 471.6h0M950.5 471.6h0M954.9 471.6h0M1035.4 471.6h0M1041.2 471.6h0M1046.2 471.6h0M689.9 467.2h0M693.1 467.2h0M696.1 467.2h0M699.1 467.2h0M724.9 467.2h0M727.8 467.2h0M731.1 467.2h0M733.8 467.2h0M740 467.2h0M787.8 467.2h0M781.3 462.9h0M1013.4 462.9h0M721.4 458.6h0M742.1 458.6h0M745.4 458.6h0M755.7 458.6h0M758.4 458.6h0M761 458.6h0M764.1 458.6h0M818.5 458.6h0M970.2 458.6h0M785.1 454.3h0M703 445.7h0M706.4 445.7h0M754.9 445.7h0M757.9 445.7h0M761.1 445.7h0M764.2 445.7h0M767.1 445.7h0M770.1 445.7h0M773 445.7h0M776.1 445.7h0M892.5 445.7h0M944.4 445.7h0M947.9 445.7h0M962.6 445.7h0M965.4 445.7h0M968 445.7h0M971 445.7h0M973.8 445.7h0M976.4 445.7h0M968 441.4h0M971.5 441.4h0M733.9 437h0M736.9 437h0M739.9 437h0M742.9 437h0M757.6 437h0M760.4 437h0M763.9 437h0M766.8 437h0M769.8 437h0M808.4 437h0M846.6 437h0M849.2 437h0M851.8 437h0M854.5 437h0M870.1 437h0M737.8 432.7h0M740.7 432.7h0M743.5 432.7h0M746.7 432.7h0M800.6 432.7h0M826.1 432.7h0M847.9 432.7h0M851.4 432.7h0M854.2 432.7h0M671.9 428.4h0M675.4 428.4h0M678.7 428.4h0M682.1 428.4h0M687.7 428.4h0M723.6 428.4h0M726.7 428.4h0M730 428.4h0M733 428.4h0M1050.4 428.4h0M666.6 424.1h0M669.5 424.1h0M672.4 424.1h0M674.9 424.1h0M677.9 424.1h0M680.9 424.1h0M683.7 424.1h0M686.5 424.1h0M775.6 424.1h0M778.7 424.1h0M781.5 424.1h0M784.6 424.1h0M793.8 424.1h0M910.4 424.1h0M928.2 424.1h0M947.6 424.1h0M949.9 424.1h0M952.2 424.1h0M1003.5 424.1h0M1044.4 424.1h0M1047.6 424.1h0M1050.1 424.1h0M723.4 419.8h0M854.3 419.8h0M860.2 419.8h0M863.2 419.8h0M865.9 419.8h0M868.8 419.8h0M871.8 419.8h0M874.4 419.8h0M877.4 419.8h0M886.7 419.8h0M889.4 419.8h0M892.3 419.8h0M895.5 419.8h0M913.3 419.8h0M745.3 415.5h0M748.4 415.5h0M751 415.5h0M753.8 415.5h0M924.8 415.5h0M661.5 411.1h0M677.3 411.1h0M686.5 411.1h0M692.4 411.1h0M696 411.1h0M711 411.1h0M714.3 411.1h0M718.1 411.1h0M723.7 411.1h0M728 411.1h0M734 411.1h0M736.8 411.1h0M740.3 411.1h0M743.5 411.1h0M746.4 411.1h0M749.2 411.1h0M752.8 411.1h0M755.9 411.1h0M758.8 411.1h0M761.9 411.1h0M764.9 411.1h0M770.6 411.1h0M778.7 411.1h0M791.3 411.1h0M863.4 411.1h0M876.3 411.1h0M879.1 411.1h0M896.3 411.1h0M906.2 411.1h0M945.2 411.1h0M978.2 411.1h0M984.2 411.1h0M1025.9 411.1h0M1029.2 411.1h0M1032.2 411.1h0M1035.4 411.1h0M659.1 406.8h0M678.5 406.8h0M683.1 406.8h0M688.1 406.8h0M689.9 406.8h0M706.7 406.8h0M718.3 406.8h0M724.6 406.8h0M727.4 406.8h0M730 406.8h0M732.7 406.8h0M757.7 406.8h0M760.6 406.8h0M763.6 406.8h0M776.4 406.8h0M832.2 406.8h0M880.9 406.8h0M887.4 406.8h0M908.5 406.8h0M966.5 406.8h0M970.8 406.8h0M981 406.8h0M985.6 406.8h0M695 402.5h0M702.8 402.5h0M707.6 402.5h0M733.7 402.5h0M745.5 402.5h0M774.1 402.5h0M796.2 402.5h0M817.8 402.5h0M827 402.5h0M845.5 402.5h0M871.7 402.5h0M889.1 402.5h0M986.7 402.5h0M1019.1 402.5h0M1025.1 402.5h0M1037 402.5h0M1046.2 402.5h0M1050.5 402.5h0M694.3 398.2h0M736.2 398.2h0M739.6 398.2h0M743.2 398.2h0M746.6 398.2h0M984.4 398.2h0M988 398.2h0M996.9 398.2h0M674.4 393.9h0M739.7 393.9h0M742.7 393.9h0M745.3 393.9h0M698 389.6h0M730.6 389.6h0M763.4 389.6h0M774.3 389.6h0M784.7 389.6h0M787.9 389.6h0M850.1 389.6h0M856.6 389.6h0M867.7 389.6h0M887.8 389.6h0M891.5 389.6h0M905.1 389.6h0M909.8 389.6h0M944.4 389.6h0M948.7 389.6h0M952.5 389.6h0M959 389.6h0M1006.6 389.6h0M1042.6 389.6h0M696.3 385.3h0M714.1 385.3h0M717 385.3h0M720 385.3h0M724.9 385.3h0M928.3 385.3h0M934 385.3h0M939.6 385.3h0M990 385.3h0M1019.6 385.3h0M716.4 376.6h0M768.5 376.6h0M677.2 372.3h0M760.3 372.3h0M868.2 372.3h0M871.1 372.3h0M1026.7 372.3h0M735.4 368h0M745.6 368h0M684.7 363.7h0" stroke="#e07d20" stroke-width="4.3" stroke-linecap="round" fill="none" clip-path="url(#clip_orange_b)"/>
<path d="M657.6 499.4L658.9 499.7L660.7 500L662.8 500.4L664.9 500.7L666.5 500.6L667.7 500.2L668.7 499.6L669.6 498.8L670.4 497.9L671.3 497.1L672.2 496.2L673.1 495.4L674.1 494.5L675 493.5L676 492.3L676.9 491L677.9 489.5L678.9 487.9L679.8 486.4L680.7 485.3L681.5 484.3L682.1 483.4L682.8 482.8L683.5 482.4L684.2 482.4L685.1 483L686 484.1L687 485.4L688 486.6L689 487.6L689.9 488.3L690.9 489L691.8 489.5L692.7 489.9L693.7 490L694.6 489.9L695.6 489.7L696.5 489.3L697.5 488.6L698.4 487.6L699.4 486.3L700.3 484.6L701.2 482.6L702.2 480.5L703.1 478.2L704.1 475.7L705 473.1L706 470.2L706.9 467.2L707.9 464L708.8 460.6L709.8 457L710.7 453.2L711.6 449.3L712.6 445.1L713.5 440.6L714.5 435.9L715.4 431L716.4 426.1L717.3 421.5L718.3 417L719.2 412.6L720.1 408.3L721.1 404.1L722 400.2L723 396.6L723.9 393.1L724.8 389.7L725.7 386.6L726.8 383.7L727.9 381L729 378.4L730.2 376.1L731.5 373.9L732.7 371.9L733.8 370.1L735 368.5L736.2 367.1L737.4 365.8L738.6 364.8L739.7 364L740.9 363.4L742 363L743.2 362.7L744.5 362.4L745.8 362.2L747.3 361.9L748.8 361.8L750.3 362L751.6 362.4L752.7 363.3L753.6 364.5L754.5 366L755.4 367.7L756.3 369.5L757.2 371.5L758.2 373.6L759.1 375.9L760.1 378.5L761 381.3L761.9 384.6L762.9 388.3L763.8 392.2L764.8 396.2L765.7 400.2L766.7 404.3L767.6 408.6L768.6 412.9L769.5 417.2L770.4 421.5L771.4 425.7L772.3 430L773.3 434.2L774.2 438.5L775.2 442.7L776.1 447L777.1 451.4L778 455.7L779 459.9L779.9 464L780.8 468L781.8 472L782.7 475.8L783.7 479.5L784.6 482.9L785.5 486.1L786.5 489L787.4 491.8L788.3 494.5L789.3 497.1L790.4 499.7L791.6 502.2L792.7 504.6L794 506.9L795.2 508.9L796.6 510.7L797.9 512.2L799.4 513.6L800.8 514.8L802.3 516L803.9 516.9L805.6 517.7L807.3 518.3L809 518.9L810.6 519.5L812.1 520.1L813.5 520.8L814.9 521.4L816.3 521.8L817.7 521.9L819.1 521.6L820.5 520.9L821.9 520.1L823.4 519.2L824.8 518.3L826.2 517.4L827.6 516.5L829 515.5L830.4 514.5L831.9 513.6L833.3 512.8L834.7 512L836.1 511.3L837.5 510.7L838.9 510.1L840.4 509.5L841.8 508.9L843.2 508.3L844.6 507.9L846 507.7L847.4 507.8L848.9 508.1L850.3 508.6L851.7 508.9L853.1 508.9L854.5 508.4L855.9 507.6L857.4 506.7L858.8 505.8L860.2 505.3L861.6 505.2L862.9 505.3L864.3 505.5L865.7 505.8L867.3 506L869 506.3L870.9 506.7L872.8 507L874.8 507.4L876.7 507.7L878.6 507.9L880.5 508.1L882.4 508.3L884.3 508.6L886.2 508.9L888.1 509.3L890 509.7L891.8 510.2L893.7 510.7L895.6 511.2L897.5 511.7L899.4 512.1L901.3 512.6L903.2 513.1L905.1 513.6L907 514.3L909 515.2L910.9 516L912.8 516.7L914.5 517.1L916.1 517.3L917.5 517.2L918.9 516.9L920.2 516.5L921.6 516L923 515.3L924.4 514.4L925.9 513.5L927.3 512.4L928.7 511.2L930.1 510L931.5 508.6L932.9 507.1L934.4 505.6L935.8 504.2L937.2 502.7L938.6 501.2L940 499.7L941.4 498.3L942.9 497.1L944.3 496L945.7 495L947.1 494L948.5 493.2L949.9 492.3L951.4 491.5L952.9 490.7L954.4 489.9L955.8 489.3L957 488.8L958.1 488.5L959 488.4L959.8 488.4L960.7 488.5L961.8 488.8L963 489.3L964.4 489.9L965.9 490.7L967.4 491.5L968.8 492.3L970.3 493.2L971.7 494.1L973.1 495L974.5 496L975.9 497.1L977.3 498.2L978.8 499.6L980.2 500.9L981.6 502.1L983 503L984.4 503.5L985.8 503.8L987.3 504L988.7 504.1L990.1 504.2L991.5 504.2L992.9 504.1L994.3 504L995.8 503.9L997.2 504.2L998.6 504.6L1000 505.2L1001.4 505.9L1002.8 506.8L1004.3 507.7L1005.7 508.8L1007.1 510.1L1008.5 511.5L1009.9 512.7L1011.3 513.6L1012.8 514.2L1014.2 514.5L1015.6 514.7L1017 514.8L1018.4 514.8L1019.9 514.8L1021.3 514.9L1022.8 514.8L1024.2 514.4L1025.5 513.6L1026.8 512.2L1027.9 510.4L1029 508.2L1030.2 506.1L1031.4 504.2L1032.8 502.2L1034.2 500.2L1035.7 498.3L1037.1 496.8L1038.5 495.9L1039.8 495.9L1040.9 496.5L1042 497.5L1043.2 498.6L1044.4 499.4L1045.8 500L1047.4 500.6L1048.9 501.1L1050.2 501.5L1051.1 501.8" stroke="#f7831d" stroke-width="7.3" stroke-linecap="round" stroke-linejoin="round" fill="none" clip-path="url(#clip_orange_b)"/>
<path d="M657.6 358.7V536.2H1051.6V358.7" stroke="#d4842f" stroke-width="1.7" fill="none"/>
<path d="M745.2 536.2V531.2M854.6 536.2V531.2M964 536.2V531.2M657.6 454.3H662.6M657.6 368H662.6M1051.6 404.7H1046.6" stroke="#d4842f" stroke-width="1.5" fill="none"/>
<g fill="#d4842f" font-size="31"><text x="745.2" y="574.2" text-anchor="middle">-100</text><text x="854.6" y="574.2" text-anchor="middle">0</text><text x="964" y="574.2" text-anchor="middle">100</text><text x="651.1" y="466.8" text-anchor="end">20</text><text x="651.1" y="380.5" text-anchor="end">40</text><text x="1058.6" y="415.4">10</text><text x="1058.6" y="546.9">0</text></g>
<clipPath id="hclip_b"><rect x="1212.6" y="339.2" width="394.5" height="217.1"/></clipPath>
<path d="M1227 536.8H1255V522.3H1283.1V471H1311.2V442.7H1339.3V385.8H1367.5V359.7H1395.5V365H1423.6V415.3H1451.8V425H1479.8V471H1508V472.2H1536V475.3H1564.2V490.3H1592.2V508.5" stroke="#0a0af0" stroke-width="6.3" stroke-linejoin="miter" stroke-linecap="butt" fill="none" clip-path="url(#hclip_b)"/>
<path d="M1227 536.8H1255V527.8H1283.1V490.3H1311.2V432.3H1339.3V394.8H1367.5V373H1395.5V371.3H1423.6V399.6H1451.8V445.6H1479.8V437.1H1508V461.3H1536V483.1H1564.2V497.6H1592.2V498.8" stroke="#f7821c" stroke-width="6.3" stroke-linejoin="miter" stroke-linecap="butt" fill="none" clip-path="url(#hclip_b)"/>
<path d="M1212.6 359.2V536.3H1607.1" stroke="#1a1a1a" stroke-width="1.5" fill="none"/>
<path d="M1325.3 536.3V531.3M1437.7 536.3V531.3M1550.1 536.3V531.3M1212.6 419.7H1217.6" stroke="#1a1a1a" stroke-width="1.4" fill="none"/>
<g fill="#111" font-size="31"><text x="1212.9" y="574.3" text-anchor="middle">-2</text><text x="1325.3" y="574.3" text-anchor="middle">0</text><text x="1437.7" y="574.3" text-anchor="middle">2</text><text x="1550.1" y="574.3" text-anchor="middle">4</text><text x="1206.6" y="547" text-anchor="end">0</text><text x="1206.6" y="430.4" text-anchor="end">10</text></g>
<path d="M1544.9 377.1H1567.9" stroke="#0a0af0" stroke-width="7" fill="none"/>
<path d="M1544.9 423.8H1567.9" stroke="#f7821c" stroke-width="7" fill="none"/>
<g fill="#111" font-size="36"><text x="1576.8" y="390.9">Stationary</text><text x="1576.8" y="437.6">Eq. Subsample</text></g>
<clipPath id="clip_blue_c"><rect x="103.2" y="672.7" width="393.6" height="177.5"/></clipPath>
<path d="M105.2 850.3H166.5M190.5 850.3H268.8M292.5 850.3H379.9M396.7 850.3H432.1M436.1 850.3H469.7M487.7 850.3H494.8M105.2 846H241.6M105.2 841.7H196.1M199.2 841.7H314.7M105.2 837.3H246.9M264.9 837.3H368.3M380 837.3H447.2M105.2 833H257M268.1 833H372.7M385 833H427.5M442 833H494.8M105.2 828.7H231.6M248.7 828.7H400.4M403.9 828.7H446.5M457.3 828.7H494.8M105.2 824.4H147.6M275.6 824.4H303.6M315.5 824.4H458.4M466.9 824.4H494.8M105.2 820.1H159.5M319.3 820.1H382.3M105.2 815.8H211.8M222.2 815.8H271.8M280.2 815.8H435.4M449 815.8H494.8M188.9 811.5H336.2M463.4 811.5H494.8M105.2 807.1H243.9M265 807.1H363.1M372.6 807.1H428.1M105.2 802.8H219M313.7 802.8H415.6M234.1 798.5H333.5M402.3 798.5H436M442.6 798.5H494.8M105.2 794.2H216.3M224.2 794.2H334.3M105.2 789.9H261.9M438.9 789.9H494.8M105.2 785.6H234.1M254.6 785.6H304.1M365.1 785.6H404.4M425.8 785.6H458.5M466.1 785.6H494.8M331.7 781.2H431.1M454.7 781.2H494.8M105.2 776.9H256.2M265.3 776.9H401.8M420.1 776.9H494.8M105.2 772.6H143M149.6 772.6H282.1M295.5 772.6H402M413.9 772.6H494.8M105.2 768.3H259.8M105.2 764H262.5M286 764H422.7M437.4 764H494.8M105.2 759.7H210.5M213.3 759.7H286.9M311.5 759.7H431.9M105.2 755.4H235.3M105.2 751H181.7M200.9 751H269.8M292.8 751H353.9M359.6 751H445.5M451.2 751H494.8M193 746.7H278.4M287.8 746.7H331.3M348 746.7H494.8M105.2 742.4H175.4M344.3 742.4H426.7M105.2 738.1H229.5M232.7 738.1H298.4M451.4 738.1H494.8M105.2 733.8H146.2M150.6 733.8H281.1M284 733.8H333.8M433.1 733.8H494.8M177.3 729.5H288.4M292.1 729.5H444.8M105.2 725.1H140.4M144.9 725.1H302.5M322.6 725.1H427.8M446.8 725.1H494.8M105.2 720.8H149.3M152.8 720.8H240.5M261.1 720.8H283.2M158.3 716.5H264.7M284.8 716.5H413.6M417.8 716.5H447.4M454.4 716.5H494.8M105.2 712.2H153.9M178.9 712.2H253.2M264.4 712.2H309.2M316 712.2H374.7M393.6 712.2H494.8M105.2 707.9H240M424.2 703.6H494.8M212.7 699.3H288.6M307 699.3H342.1M352.1 699.3H479.2M105.2 694.9H166.1M184.3 694.9H304.9M105.2 690.6H168.9M306.9 690.6H459.5M475.6 690.6H494.8M240.8 686.3H395.3M398.2 686.3H469.2M477.3 686.3H494.8M105.2 682H210.4M233.2 682H253.5M270.9 682H334.2M350.2 682H420.5M105.2 677.7H196.7M265.6 677.7H315.1M323.9 677.7H440.9M447.3 677.7H494.8" stroke="#f0f0f0" stroke-width="1" fill="none"/>
<path d="M182.8 850.3h0M186.3 850.3h0M189.7 850.3h0M200.1 850.3h0M203.5 850.3h0M206.4 850.3h0M209.7 850.3h0M225.4 850.3h0M257.5 850.3h0M287.2 850.3h0M128.1 846h0M158.3 846h0M161.6 846h0M164.5 846h0M167.7 846h0M182.9 846h0M185.9 846h0M189.3 846h0M191.9 846h0M176.2 841.7h0M351.8 837.3h0M147.4 833h0M156.4 833h0M165.5 833h0M175.8 833h0M178.8 833h0M181.7 833h0M184.7 833h0M199.4 833h0M202.3 833h0M205.5 833h0M208.3 833h0M420.2 833h0M423.5 833h0M427.1 833h0M430.4 833h0M433.9 833h0M450.7 833h0M458.8 833h0M329 828.7h0M485.4 828.7h0M489.2 828.7h0M160.2 824.4h0M163 824.4h0M166.1 824.4h0M168.9 824.4h0M172.3 824.4h0M175.2 824.4h0M178.2 824.4h0M181 824.4h0M184.4 824.4h0M187.3 824.4h0M190.3 824.4h0M193.6 824.4h0M196.7 824.4h0M199.6 824.4h0M202.3 824.4h0M244.4 824.4h0M247.5 824.4h0M408.4 824.4h0M184.2 820.1h0M187.2 820.1h0M190.4 820.1h0M193.5 820.1h0M196.7 820.1h0M240.6 820.1h0M415.3 820.1h0M489 820.1h0M492.5 820.1h0M496 820.1h0M140.3 815.8h0M143 815.8h0M145.5 815.8h0M148.3 815.8h0M214.1 815.8h0M240.7 815.8h0M337.1 815.8h0M348.2 815.8h0M448.6 815.8h0M123 811.5h0M149.4 811.5h0M152.8 811.5h0M155.6 811.5h0M158.6 811.5h0M161.9 811.5h0M164.8 811.5h0M168.2 811.5h0M170.9 811.5h0M186.3 811.5h0M189.1 811.5h0M199.1 811.5h0M202 811.5h0M205.1 811.5h0M208.2 811.5h0M462.8 811.5h0M467 811.5h0M214.7 807.1h0M104.5 798.5h0M118.6 798.5h0M154.1 798.5h0M157.2 798.5h0M160.3 798.5h0M163.5 798.5h0M166.4 798.5h0M169.4 798.5h0M172.7 798.5h0M184.3 798.5h0M192.1 798.5h0M197.8 798.5h0M200.6 798.5h0M203.8 798.5h0M206.7 798.5h0M209.5 798.5h0M212.5 798.5h0M215.1 798.5h0M218.1 798.5h0M221.1 798.5h0M233.7 798.5h0M330.5 798.5h0M174.7 794.2h0M180.6 794.2h0M184.2 794.2h0M187.6 794.2h0M191.1 794.2h0M139 789.9h0M169.2 789.9h0M171.9 789.9h0M174.8 789.9h0M177.6 789.9h0M180.6 789.9h0M183.1 789.9h0M185.8 789.9h0M188.5 789.9h0M195.8 789.9h0M323 789.9h0M230.1 785.6h0M329.6 785.6h0M370.7 785.6h0M415.4 785.6h0M480.9 785.6h0M147.5 781.2h0M150.2 781.2h0M153.1 781.2h0M155.9 781.2h0M170.7 781.2h0M173.6 781.2h0M176.4 781.2h0M179.6 781.2h0M192 781.2h0M200.2 781.2h0M202.9 781.2h0M205.8 781.2h0M208.7 781.2h0M224.6 781.2h0M233.6 781.2h0M179.4 776.9h0M187.6 772.6h0M191.2 772.6h0M264.2 772.6h0M178.4 764h0M198 764h0M201.2 764h0M204.8 764h0M210.5 764h0M225.1 759.7h0M227.8 759.7h0M230.8 759.7h0M233.8 759.7h0M337.8 759.7h0M390.1 759.7h0M393.5 759.7h0M429.4 759.7h0M109.1 755.4h0M129.9 755.4h0M167 755.4h0M188.1 755.4h0M190.8 755.4h0M194.2 755.4h0M197 755.4h0M199.8 755.4h0M202.7 755.4h0M205.8 755.4h0M208.9 755.4h0M212.1 755.4h0M214.9 755.4h0M217.9 755.4h0M220.7 755.4h0M223.7 755.4h0M226.7 755.4h0M254.3 755.4h0M391 755.4h0M393.7 755.4h0M396.7 755.4h0M399.4 755.4h0M413.5 755.4h0M416.7 755.4h0M441.5 755.4h0M444.6 755.4h0M446.9 755.4h0M449.8 755.4h0M179.7 751h0M182.6 751h0M185.6 751h0M188.2 751h0M215.2 751h0M292.6 751h0M295.1 751h0M297.5 751h0M299.8 751h0M132.1 746.7h0M148.8 746.7h0M156.7 746.7h0M159.8 746.7h0M171.5 746.7h0M174.6 746.7h0M177.2 746.7h0M180.1 746.7h0M183.4 746.7h0M186.3 746.7h0M189.3 746.7h0M192.2 746.7h0M195.3 746.7h0M198.1 746.7h0M201 746.7h0M204.3 746.7h0M207 746.7h0M210 746.7h0M212.9 746.7h0M216 746.7h0M234.6 746.7h0M237.7 746.7h0M240.6 746.7h0M243.5 746.7h0M246.3 746.7h0M271.9 746.7h0M280.8 746.7h0M284.3 746.7h0M287.2 746.7h0M290.4 746.7h0M293.6 746.7h0M297 746.7h0M300.2 746.7h0M117.3 742.4h0M120.5 742.4h0M124 742.4h0M127.7 742.4h0M133.6 742.4h0M153 742.4h0M159.8 742.4h0M169.4 742.4h0M172.6 742.4h0M175.5 742.4h0M178.6 742.4h0M196.9 742.4h0M199.9 742.4h0M203.1 742.4h0M206.1 742.4h0M495.7 742.4h0M112.2 738.1h0M114.8 738.1h0M118.1 738.1h0M120.6 738.1h0M143.7 738.1h0M155.4 738.1h0M158.1 738.1h0M161 738.1h0M163.9 738.1h0M166.9 738.1h0M169.5 738.1h0M172.5 738.1h0M175.3 738.1h0M190 738.1h0M196.9 738.1h0M199.8 738.1h0M202.9 738.1h0M205.9 738.1h0M209 738.1h0M212 738.1h0M215.1 738.1h0M218.2 738.1h0M221.2 738.1h0M224.1 738.1h0M227 738.1h0M230.4 738.1h0M239.4 738.1h0M266.9 738.1h0M271.6 738.1h0M286.4 738.1h0M289.9 738.1h0M293.4 738.1h0M296.7 738.1h0M300.1 738.1h0M373.6 738.1h0M393.4 738.1h0M395.6 738.1h0M397.7 738.1h0M478.7 738.1h0M481.6 738.1h0M484.2 738.1h0M487.1 738.1h0M343.6 733.8h0M346.4 733.8h0M349.5 733.8h0M371.3 733.8h0M376 733.8h0M226.5 729.5h0M255.5 729.5h0M259 729.5h0M279.7 729.5h0M282.6 729.5h0M285.3 729.5h0M288.6 729.5h0M107.1 725.1h0M122.9 725.1h0M132.4 725.1h0M138 725.1h0M141.3 725.1h0M156.3 725.1h0M160 725.1h0M163.6 725.1h0M169.1 725.1h0M173.7 725.1h0M179.4 725.1h0M182.8 725.1h0M185.6 725.1h0M188.8 725.1h0M191.8 725.1h0M195.3 725.1h0M198 725.1h0M201.3 725.1h0M204.5 725.1h0M207.3 725.1h0M210.8 725.1h0M216.1 725.1h0M224.5 725.1h0M236.9 725.1h0M309.4 725.1h0M321.8 725.1h0M324.7 725.1h0M342.1 725.1h0M351.6 725.1h0M378.2 725.1h0M383.9 725.1h0M390.9 725.1h0M423.7 725.1h0M429.8 725.1h0M471.4 725.1h0M474.6 725.1h0M477.7 725.1h0M480.8 725.1h0M493.6 725.1h0M104.5 720.8h0M124.2 720.8h0M128.8 720.8h0M133.6 720.8h0M135.8 720.8h0M146.5 720.8h0M152.2 720.8h0M163.6 720.8h0M170.1 720.8h0M172.9 720.8h0M175.8 720.8h0M178.5 720.8h0M190.9 720.8h0M193.9 720.8h0M197.2 720.8h0M200 720.8h0M203.4 720.8h0M206.3 720.8h0M209.3 720.8h0M277.8 720.8h0M326.2 720.8h0M332.8 720.8h0M362.8 720.8h0M373.8 720.8h0M393.3 720.8h0M401 720.8h0M412.5 720.8h0M416.5 720.8h0M473 720.8h0M476.3 720.8h0M479.8 720.8h0M492.6 720.8h0M140.4 716.5h0M241.9 716.5h0M272.9 716.5h0M432.4 716.5h0M139.7 712.2h0M182 712.2h0M185.4 712.2h0M188.7 712.2h0M192.1 712.2h0M233 712.2h0M238.2 712.2h0M254.4 712.2h0M143.7 707.9h0M254.3 707.9h0M281.9 707.9h0M284.3 707.9h0M379.5 707.9h0M383 707.9h0M392.3 707.9h0M396.7 707.9h0M405.7 707.9h0M409.6 707.9h0M413.9 707.9h0M143.9 703.6h0M209 703.6h0M313.1 703.6h0M159.9 699.3h0M162.8 699.3h0M165.6 699.3h0M170.7 699.3h0M373.9 699.3h0M379.3 699.3h0M435.2 699.3h0M485.7 699.3h0M113.3 694.9h0M222 694.9h0M292.5 694.9h0M326.7 694.9h0M346 694.9h0M389.6 694.9h0M162.1 690.6h0M202.7 690.6h0M214 690.6h0M205.9 686.3h0M313.9 686.3h0M316.6 686.3h0M160.9 682h0M168 682h0M171.3 682h0M173.6 682h0M181.2 682h0M372.1 682h0M113.2 677.7h0M130.3 677.7h0M146.6 677.7h0M157.8 677.7h0M161 677.7h0M164 677.7h0M172.2 677.7h0M175.1 677.7h0M184.7 677.7h0M188 677.7h0M211.2 677.7h0M216.8 677.7h0M239.5 677.7h0M263.6 677.7h0M273.7 677.7h0M282.8 677.7h0M293.5 677.7h0M296.8 677.7h0M302 677.7h0M378.3 677.7h0" stroke="#1411b4" stroke-width="4.3" stroke-linecap="round" fill="none" clip-path="url(#clip_blue_c)"/>
<path d="M103.2 812.2L104.4 812.5L106 813L107.9 813.5L109.8 813.7L111.5 813.4L113 812.6L114.5 811.3L115.8 809.7L117.2 808L118.6 806.3L120.1 804.5L121.6 802.5L123 800.4L124.4 798.5L125.7 796.9L126.7 795.6L127.5 794.6L128.3 793.8L129.2 793L130.4 792.2L132.1 791.4L134.1 790.8L136.2 790.2L138.2 789.5L139.9 788.6L141.1 787.7L142.2 786.7L143 785.6L143.8 784.3L144.6 782.7L145.4 780.8L146.1 778.7L146.8 776.3L147.4 773.7L148.1 770.9L148.8 767.9L149.6 764.6L150.3 761.2L151 757.8L151.7 754.4L152.4 751L153.1 747.7L153.8 744.3L154.5 741L155.2 737.9L155.9 734.9L156.6 732L157.3 729.2L158 726.5L158.8 723.7L159.6 720.8L160.6 717.8L161.5 714.8L162.5 712L163.5 709.5L164.4 707.3L165.4 705.2L166.3 703.4L167.3 701.7L168.2 700.1L169.1 698.6L170 697.2L171 696L171.9 695L172.9 694.2L174 693.7L175.2 693.5L176.3 693.4L177.6 693.3L178.8 693L180.2 692.5L181.8 691.8L183.3 691.1L184.7 690.3L185.9 689.4L186.9 688.4L187.7 687.2L188.3 685.9L188.9 684.7L189.5 683.5L190 682.5L190.4 681.4L190.8 680.4L191.2 679.5L191.8 678.8L192.6 678.3L193.6 677.8L194.6 677.5L195.6 677.4L196.6 677.6L197.5 678.1L198.4 678.8L199.4 679.8L200.3 680.9L201.3 682.4L202.2 684L203.2 685.9L204.1 688L205.1 690.4L206 693L207 695.9L207.9 699.1L208.9 702.4L209.9 706L210.7 709.5L211.5 713.1L212.2 716.8L212.9 720.6L213.6 724.4L214.3 728.4L215 732.5L215.7 736.7L216.4 741L217.1 745.4L217.8 749.7L218.5 754L219.2 758.3L219.9 762.6L220.6 766.8L221.4 770.9L222 775L222.7 779L223.4 782.9L224.1 786.5L224.9 789.8L225.8 792.6L226.7 795.1L227.7 797.3L228.7 799.4L229.6 801.6L230.5 804L231.4 806.4L232.3 808.7L233.2 810.7L234.3 812.2L235.6 813.1L237 813.3L238.5 813.2L240 813.2L241.4 813.4L242.8 813.9L244.3 814.4L245.7 815.1L247.1 815.9L248.5 817L249.9 818.3L251.3 820L252.8 821.8L254.2 823.6L255.6 825.2L257 826.8L258.4 828.3L259.9 829.8L261.3 831.2L262.7 832.3L264.1 833.3L265.6 834.2L267.1 834.9L268.5 835.4L269.8 835.9L270.9 836.2L271.8 836.3L272.7 836.4L273.6 836.2L274.5 835.9L275.4 835.3L276.3 834.5L277.2 833.5L278.1 832.4L279.2 831.1L280.5 829.7L281.8 828L283.3 826.2L284.8 824.4L286.3 822.9L287.9 821.5L289.5 820.1L291.1 818.9L292.8 817.8L294.6 817L296.4 816.3L298.3 815.8L300.3 815.5L302.2 815.3L304 815.3L305.7 815.6L307.4 816.2L309 816.8L310.6 817.5L312.3 818.2L313.9 818.7L315.6 819.4L317.2 820L318.9 820.4L320.5 820.5L322.2 820.1L323.9 819.4L325.6 818.5L327.2 817.8L328.8 817.4L330.3 817.6L331.7 818.2L333.1 818.9L334.5 819.7L335.9 820.5L337.3 821.4L338.7 822.4L340.1 823.5L341.6 824.3L343 824.8L344.4 824.7L345.8 824.2L347.2 823.5L348.7 822.8L350.1 822.4L351.4 822.4L352.8 822.6L354.2 822.8L355.6 823L357.2 822.9L358.9 822.5L360.9 821.9L362.9 821.1L364.8 820.3L366.6 819.3L368.2 818.4L369.6 817.5L371 816.5L372.3 815.2L373.7 813.4L375.1 811.1L376.6 808.2L378 805.1L379.4 802L380.8 799.3L382 796.8L383.2 794.3L384.3 792L385.4 790.1L386.7 788.6L388 787.7L389.5 787.3L391 787.1L392.4 787.2L393.8 787.4L395 787.8L396.3 788.4L397.4 789.2L398.6 790.1L399.7 791L400.6 792L401.5 793L402.4 794.2L403.3 795.5L404.4 796.9L405.7 798.6L407.1 800.6L408.5 802.6L410 804.6L411.5 806.3L412.9 807.8L414.3 809.1L415.7 810.2L417.1 811.3L418.6 812.2L420 813.1L421.4 813.7L422.8 814.2L424.2 814.9L425.6 815.8L427.1 817L428.5 818.4L429.9 819.9L431.3 821.4L432.7 822.9L434.1 824.3L435.5 825.8L436.8 827.3L438.2 828.7L439.8 830L441.6 831.2L443.5 832.4L445.5 833.6L447.5 834.5L449.3 835.2L450.8 835.4L452.3 835.4L453.6 835.2L455 834.9L456.3 834.7L457.8 834.6L459.2 834.6L460.6 834.5L462 834.2L463.4 833.5L464.9 832.4L466.3 830.9L467.8 829.2L469.2 827.3L470.5 825.2L471.7 822.8L472.9 820L473.9 817.1L475.1 814.4L476.4 812.2L478 810.7L479.7 809.5L481.5 808.6L483.2 808L484.7 807.5L485.8 807.3L486.7 807.4L487.5 807.7L488.4 808.2L489.4 808.7L490.8 809.4L492.5 810.4L494.2 811.4L495.8 812.3L496.8 813" stroke="#0808f2" stroke-width="7.3" stroke-linecap="round" stroke-linejoin="round" fill="none" clip-path="url(#clip_blue_c)"/>
<path d="M103.2 672.7V850.2H496.8V672.7" stroke="#1410b4" stroke-width="1.7" fill="none"/>
<path d="M190.7 850.2V845.2M300 850.2V845.2M409.3 850.2V845.2M103.2 768.3H108.2M103.2 682H108.2M496.8 715.9H491.8" stroke="#1410b4" stroke-width="1.5" fill="none"/>
<g fill="#1410b4" font-size="31"><text x="190.7" y="888.2" text-anchor="middle">-100</text><text x="300" y="888.2" text-anchor="middle">0</text><text x="409.3" y="888.2" text-anchor="middle">100</text><text x="96.7" y="780.8" text-anchor="end">20</text><text x="96.7" y="694.5" text-anchor="end">40</text><text x="503.8" y="726.6">10</text><text x="503.8" y="860.9">0</text></g>
<clipPath id="clip_orange_c"><rect x="657.6" y="672.7" width="394" height="177.5"/></clipPath>
<path d="M659.6 850.3H727.9M742.7 850.3H892.8M910 850.3H996.8M1016.7 850.3H1049.6M973 846H1049.6M659.6 841.7H785.5M795.8 841.7H934.3M943.3 841.7H1049.6M659.6 837.3H804.2M900.4 837.3H956.2M959.6 837.3H1049.6M722.6 833H875.5M890.3 833H1036.7M1039.2 833H1049.6M659.6 828.7H727.2M752.2 828.7H880.1M904.9 828.7H926.8M939.8 828.7H1015.6M1031.7 828.7H1049.6M659.6 824.4H788.9M807.1 824.4H864.4M822.2 820.1H964M969 820.1H1049.6M759.9 815.8H786.5M791.4 815.8H863.2M872.2 815.8H965.8M969 815.8H1049.6M714.6 811.5H827.4M844.5 811.5H921.2M924.2 811.5H1049.6M848.7 807.1H923.5M928.1 807.1H952.7M971.2 807.1H1049.6M659.6 802.8H757.7M761.2 802.8H797.7M807.7 802.8H915.9M918.4 802.8H1049.6M710.8 798.5H780.8M803.5 798.5H930.7M980.1 798.5H1048.5M659.6 794.2H794M798.7 794.2H837M857.5 794.2H999.9M1010.2 794.2H1049.6M659.6 789.9H712.5M839.4 789.9H953.4M965.2 789.9H993.4M1015.1 789.9H1049.6M659.6 785.6H769.8M773.3 785.6H874.2M891.9 785.6H984.7M659.6 781.2H729.5M735.3 781.2H879.9M975.6 781.2H1049.6M659.6 776.9H692M764.1 776.9H880.7M659.6 772.6H805.8M815.3 772.6H885M897.1 772.6H993M659.6 768.3H780.7M795.1 768.3H843.4M851 768.3H956.7M967.7 768.3H1040.4M834.5 764H866.3M873.8 764H968.9M983.6 764H1049.6M659.6 759.7H789.3M803.4 759.7H912.3M929.9 759.7H1028.2M750.3 755.4H774.2M781.4 755.4H847.2M869.9 755.4H967.1M983.1 755.4H1049.6M659.6 751H782M790.6 751H894.7M910.3 751H990.6M997.2 751H1049.6M932.9 746.7H1049.6M659.6 742.4H703M710.4 742.4H792.8M801.8 742.4H889M904 742.4H1049.6M659.6 738.1H816.6M827 738.1H944M999 738.1H1049.6M659.6 733.8H796.2M799.6 733.8H865.7M876 733.8H911.4M659.6 729.5H697.9M710.9 729.5H775.2M798.1 729.5H892.3M902.2 729.5H979.5M806.7 725.1H835.3M850.1 725.1H942.5M945.8 725.1H996.1M1005.1 725.1H1049.6M659.6 720.8H815.3M819.5 720.8H871.2M876.3 720.8H937M659.6 716.5H736.2M757.6 716.5H897.3M825.5 712.2H893.6M896.1 712.2H961.3M1045.1 712.2H1049.6M659.6 707.9H809M826.2 707.9H976.7M659.6 703.6H816.2M942.8 703.6H1049.6M659.6 699.3H789.1M976 699.3H1049.6M659.6 694.9H740.8M973.3 694.9H1049.6M659.6 690.6H818.9M973.2 690.6H1049.6M659.6 686.3H811.4M827.4 686.3H913.5M915.9 686.3H955.4M967.7 686.3H1049.6M708.3 682H773.3M786.8 682H907.9M912.4 682H975.4M997.5 682H1049.5M659.6 677.7H718.3M736.3 677.7H813.1M831.4 677.7H899.2M956.5 677.7H1016.5M1020.4 677.7H1049.6" stroke="#f0f0f0" stroke-width="1" fill="none"/>
<path d="M754.5 850.3h0M757.7 850.3h0M760.8 850.3h0M764 850.3h0M767.4 850.3h0M770.3 850.3h0M773.6 850.3h0M776.7 850.3h0M811.9 850.3h0M841.6 850.3h0M994.9 850.3h0M712.7 846h0M716 846h0M718.9 846h0M722.1 846h0M725 846h0M728 846h0M731.4 846h0M734 846h0M1025.7 846h0M694.1 841.7h0M716.2 841.7h0M781.1 841.7h0M713.5 837.3h0M723.9 837.3h0M762.5 837.3h0M773.4 837.3h0M906.1 837.3h0M730.3 833h0M733.2 833h0M736.4 833h0M739.2 833h0M742 833h0M744.9 833h0M748.1 833h0M751 833h0M754.1 833h0M756.7 833h0M759.6 833h0M762.9 833h0M974.7 833h0M978.3 833h0M981.7 833h0M984.7 833h0M1019.8 833h0M735.5 828.7h0M794 828.7h0M802.2 828.7h0M883.2 828.7h0M979.2 828.7h0M1040 828.7h0M1043.4 828.7h0M714.2 824.4h0M717.6 824.4h0M720.6 824.4h0M723.6 824.4h0M726.3 824.4h0M729.8 824.4h0M732.3 824.4h0M735.7 824.4h0M738.8 824.4h0M741.7 824.4h0M744.7 824.4h0M747.7 824.4h0M750.8 824.4h0M753.8 824.4h0M757.1 824.4h0M798.6 824.4h0M802.2 824.4h0M962.8 824.4h0M751.2 820.1h0M795.1 820.1h0M668.9 815.8h0M694.7 815.8h0M697.4 815.8h0M700.1 815.8h0M703 815.8h0M713 815.8h0M716.3 815.8h0M719.3 815.8h0M722.2 815.8h0M743.3 815.8h0M768.3 815.8h0M795 815.8h0M891.4 815.8h0M902.7 815.8h0M1003.2 815.8h0M677.3 811.5h0M703.8 811.5h0M706.8 811.5h0M710.1 811.5h0M713.2 811.5h0M753.6 811.5h0M756.7 811.5h0M759.2 811.5h0M762.3 811.5h0M765.4 811.5h0M768.2 811.5h0M771.5 811.5h0M774.1 811.5h0M913.7 811.5h0M916.1 811.5h0M918.5 811.5h0M669.1 807.1h0M676 807.1h0M728.3 807.1h0M749.6 807.1h0M756.8 807.1h0M768.9 807.1h0M791.4 807.1h0M845.2 807.1h0M679.8 802.8h0M731 802.8h0M758.9 802.8h0M658.9 798.5h0M672.9 798.5h0M708.7 798.5h0M711.6 798.5h0M714.7 798.5h0M717.6 798.5h0M720.8 798.5h0M724 798.5h0M727.1 798.5h0M738.6 798.5h0M746.4 798.5h0M752.4 798.5h0M755.2 798.5h0M758.2 798.5h0M761 798.5h0M764.1 798.5h0M766.7 798.5h0M769.5 798.5h0M772.3 798.5h0M775.6 798.5h0M788.1 798.5h0M884.9 798.5h0M706.4 794.2h0M709 794.2h0M712.2 794.2h0M714.9 794.2h0M715.6 785.6h0M723.4 785.6h0M784.4 785.6h0M883.6 785.6h0M925.2 785.6h0M1035.2 785.6h0M689.9 781.2h0M693.2 781.2h0M695.8 781.2h0M698.8 781.2h0M725 781.2h0M728.1 781.2h0M731.1 781.2h0M734.1 781.2h0M740.2 781.2h0M746.5 781.2h0M754.6 781.2h0M757.6 781.2h0M760.2 781.2h0M763 781.2h0M765.6 781.2h0M768.3 781.2h0M778.8 781.2h0M787.9 781.2h0M734.1 776.9h0M1013.3 776.9h0M721 772.6h0M741.7 772.6h0M745.2 772.6h0M756 772.6h0M758.7 772.6h0M760.9 772.6h0M763.8 772.6h0M818.6 772.6h0M847.5 772.6h0M970.3 772.6h0M764.8 764h0M690.4 759.7h0M693.4 759.7h0M696.4 759.7h0M699.6 759.7h0M702.9 759.7h0M706.4 759.7h0M713.4 759.7h0M716.7 759.7h0M720.2 759.7h0M742.6 759.7h0M745.7 759.7h0M748.7 759.7h0M751.7 759.7h0M791.5 759.7h0M892.3 759.7h0M944.4 759.7h0M947.8 759.7h0M962.7 759.7h0M965.2 759.7h0M968.1 759.7h0M971.2 759.7h0M721.1 755.4h0M754.3 755.4h0M757.5 755.4h0M760.4 755.4h0M763.4 755.4h0M945.2 755.4h0M948.2 755.4h0M951.2 755.4h0M953.9 755.4h0M956.5 755.4h0M959.1 755.4h0M967.8 755.4h0M971.2 755.4h0M720 751h0M733.8 751h0M737 751h0M740 751h0M742.6 751h0M745.6 751h0M748.8 751h0M751.8 751h0M754.7 751h0M757.6 751h0M760.8 751h0M763.5 751h0M766.4 751h0M769.8 751h0M808.1 751h0M846.7 751h0M849.2 751h0M851.8 751h0M854.2 751h0M854.4 751h0M942 751h0M944.9 751h0M947.7 751h0M1005.6 751h0M1037.5 751h0M703.6 746.7h0M711.1 746.7h0M714.3 746.7h0M725.8 746.7h0M729 746.7h0M732 746.7h0M734.8 746.7h0M749.4 746.7h0M752.4 746.7h0M755.6 746.7h0M758.7 746.7h0M761.5 746.7h0M764.3 746.7h0M767.7 746.7h0M770.6 746.7h0M773.3 746.7h0M776.2 746.7h0M779.4 746.7h0M782.3 746.7h0M835.5 746.7h0M838.6 746.7h0M841.5 746.7h0M844.9 746.7h0M847.9 746.7h0M851.5 746.7h0M854.2 746.7h0M671.6 742.4h0M675.3 742.4h0M678.5 742.4h0M682 742.4h0M687.7 742.4h0M694.8 742.4h0M707.2 742.4h0M714.2 742.4h0M723.4 742.4h0M726.9 742.4h0M730.1 742.4h0M733.2 742.4h0M736.5 742.4h0M739.7 742.4h0M751.2 742.4h0M754.3 742.4h0M757.4 742.4h0M760.5 742.4h0M763.5 742.4h0M766.5 742.4h0M769.4 742.4h0M850.5 742.4h0M1031.2 742.4h0M1050.1 742.4h0M659 738.1h0M666.3 738.1h0M669.3 738.1h0M672.3 738.1h0M675.2 738.1h0M732.8 738.1h0M735.5 738.1h0M738.6 738.1h0M741.4 738.1h0M763.1 738.1h0M766.5 738.1h0M769.6 738.1h0M772.3 738.1h0M841 738.1h0M844.2 738.1h0M847.5 738.1h0M851 738.1h0M928 738.1h0M702.8 733.8h0M706.6 733.8h0M723.5 733.8h0M854.4 733.8h0M886.6 733.8h0M889.6 733.8h0M892.2 733.8h0M895.5 733.8h0M898.4 733.8h0M901 733.8h0M904.1 733.8h0M920 733.8h0M925.7 733.8h0M930.3 733.8h0M950.3 733.8h0M953.4 733.8h0M955.7 733.8h0M975.3 733.8h0M978.1 733.8h0M981.3 733.8h0M983.9 733.8h0M986.9 733.8h0M732.6 729.5h0M745.6 729.5h0M748 729.5h0M751.1 729.5h0M754 729.5h0M756.4 729.5h0M759.6 729.5h0M762.1 729.5h0M765 729.5h0M790.2 729.5h0M796.3 729.5h0M799.4 729.5h0M802.9 729.5h0M806.5 729.5h0M833.9 729.5h0M836.9 729.5h0M839.7 729.5h0M842.7 729.5h0M845.5 729.5h0M848.8 729.5h0M851.3 729.5h0M854.2 729.5h0M924.6 729.5h0M661.2 725.1h0M686.7 725.1h0M710.7 725.1h0M714.4 725.1h0M718.1 725.1h0M723.8 725.1h0M728.2 725.1h0M733.8 725.1h0M736.8 725.1h0M740 725.1h0M743 725.1h0M746.3 725.1h0M749.6 725.1h0M752.7 725.1h0M755.5 725.1h0M758.6 725.1h0M761.9 725.1h0M764.8 725.1h0M770.7 725.1h0M778.7 725.1h0M791.3 725.1h0M863.5 725.1h0M896.2 725.1h0M906.2 725.1h0M932.7 725.1h0M938.6 725.1h0M978.2 725.1h0M984.2 725.1h0M1048.1 725.1h0M666.6 720.8h0M678.8 720.8h0M683.2 720.8h0M687.9 720.8h0M690.4 720.8h0M701.2 720.8h0M707 720.8h0M724.8 720.8h0M727.3 720.8h0M730 720.8h0M732.9 720.8h0M745.6 720.8h0M748.5 720.8h0M751.5 720.8h0M754.5 720.8h0M757.6 720.8h0M760.8 720.8h0M763.7 720.8h0M880.8 720.8h0M887.1 720.8h0M908.5 720.8h0M917.2 720.8h0M947.8 720.8h0M955.3 720.8h0M966.7 720.8h0M970.5 720.8h0M981.3 720.8h0M985.6 720.8h0M1027.3 720.8h0M1030.5 720.8h0M1034 720.8h0M1046.8 720.8h0M694.7 716.5h0M733.8 716.5h0M745.4 716.5h0M818.1 716.5h0M845.5 716.5h0M871.5 716.5h0M987.1 716.5h0M1019.2 716.5h0M736 712.2h0M739.8 712.2h0M743.3 712.2h0M746.5 712.2h0M749.8 712.2h0M752.2 712.2h0M760.6 712.2h0M763.8 712.2h0M767.5 712.2h0M824.9 712.2h0M949.9 712.2h0M953.3 712.2h0M996.7 712.2h0M684.8 707.9h0M687.7 707.9h0M739.7 707.9h0M742.7 707.9h0M745.4 707.9h0M755.6 707.9h0M759.2 707.9h0M765.2 707.9h0M769.6 707.9h0M808.8 707.9h0M836.7 707.9h0M838.9 707.9h0M933.9 707.9h0M937.1 707.9h0M946.6 707.9h0M951 707.9h0M1003.1 707.9h0M1045.6 707.9h0M1050 707.9h0M730.7 703.6h0M850.2 703.6h0M856.5 703.6h0M867.9 703.6h0M905.1 703.6h0M909.6 703.6h0M944.3 703.6h0M948.7 703.6h0M952.2 703.6h0M696.2 699.3h0M714.5 699.3h0M717 699.3h0M720.1 699.3h0M725 699.3h0M733.3 699.3h0M736 699.3h0M756.2 699.3h0M770.8 699.3h0M778.9 699.3h0M784.1 699.3h0M843.2 699.3h0M928.1 699.3h0M933.9 699.3h0M939.5 699.3h0M962.7 699.3h0M989.6 699.3h0M999.2 699.3h0M1019.6 699.3h0M1027.8 699.3h0M1040.1 699.3h0M667.8 694.9h0M682.1 694.9h0M684.9 694.9h0M689.1 694.9h0M747.1 694.9h0M763.5 694.9h0M832.5 694.9h0M847 694.9h0M852.7 694.9h0M854.9 694.9h0M881.1 694.9h0M900.4 694.9h0M944.3 694.9h0M1033.7 694.9h0M716.4 690.6h0M756.8 690.6h0M768.7 690.6h0M677.5 686.3h0M760.2 686.3h0M868.4 686.3h0M871 686.3h0M1026.8 686.3h0M745.6 682h0M667.4 677.7h0M685.1 677.7h0M700.9 677.7h0M711.9 677.7h0M715.2 677.7h0M718.3 677.7h0M726.4 677.7h0M729.3 677.7h0M738.9 677.7h0M742.8 677.7h0M765.4 677.7h0M771.6 677.7h0M793.8 677.7h0M817.9 677.7h0M828.3 677.7h0M837.1 677.7h0M848 677.7h0M851.6 677.7h0M856 677.7h0M933 677.7h0" stroke="#e07d20" stroke-width="4.3" stroke-linecap="round" fill="none" clip-path="url(#clip_orange_c)"/>
<path d="M657.6 813.4L658.8 813.3L660.6 813.1L662.7 812.9L664.7 812.6L666.5 812.2L668.1 811.9L669.6 811.5L671 811.1L672.3 810.5L673.6 809.9L674.9 809.1L676.1 808.2L677.2 807.3L678.4 806.2L679.5 805.2L680.7 804L681.8 802.7L683 801.3L684.2 800.2L685.4 799.3L686.8 798.8L688.3 798.6L689.8 798.5L691.2 798.4L692.5 798.1L693.6 797.6L694.6 797L695.5 796.3L696.3 795.5L697.2 794.5L698.2 793.4L699.1 792.1L700.1 790.6L701 789.1L702 787.4L702.9 785.7L703.8 784L704.8 782.1L705.7 780.1L706.7 778L707.6 775.8L708.6 773.4L709.5 771L710.5 768.6L711.4 766.2L712.4 763.8L713.3 761.5L714.2 759.1L715.2 756.7L716.1 754.4L717.1 752L718 749.5L719 747.1L719.9 744.8L720.9 742.6L721.8 740.5L722.7 738.6L723.7 736.8L724.6 735L725.6 733.1L726.5 731.2L727.5 729.4L728.4 727.5L729.4 725.6L730.3 723.7L731.2 721.7L732.2 719.7L733.1 717.8L734.1 715.9L735 714.2L736 712.9L737 711.7L737.9 710.7L738.9 709.6L739.7 708.3L740.5 706.9L741.2 705.4L741.9 703.7L742.6 702L743.3 700.1L744 697.9L744.7 695.5L745.4 693L746.1 690.5L746.8 688.3L747.5 686.1L748.1 683.9L748.7 681.9L749.4 680.1L750.4 678.8L751.6 677.9L753.1 677.4L754.7 677.2L756.2 677.3L757.5 677.6L758.4 678.3L759.1 679.2L759.8 680.4L760.4 681.9L761 683.5L761.7 685.5L762.4 687.7L763.1 690.2L763.8 692.7L764.5 695.3L765.3 698L766 700.8L766.7 703.7L767.4 706.6L768.1 709.5L768.8 712.3L769.5 715L770.2 717.7L770.9 720.5L771.6 723.7L772.3 727.2L773 730.9L773.8 734.8L774.5 738.7L775.2 742.6L775.9 746.4L776.6 750.1L777.3 753.9L778 757.7L778.7 761.5L779.4 765.3L780.1 769.1L780.8 773L781.5 776.7L782.3 780.4L782.9 783.8L783.6 787.2L784.3 790.5L785 793.7L785.8 796.9L786.7 800.2L787.5 803.6L788.5 806.8L789.5 809.8L790.5 812.2L791.6 814L792.8 815.1L794 816L795.2 816.9L796.4 818.2L797.6 819.9L798.8 821.8L800 823.8L801.2 825.8L802.3 827.6L803.5 829.2L804.6 830.7L805.8 832L807 833.4L808.2 834.7L809.5 836L810.9 837.4L812.3 838.7L813.7 839.8L815.3 840.6L817.1 841L819.1 841.1L821.1 841L823.1 840.8L824.8 840.6L826.2 840.5L827.4 840.3L828.5 840.1L829.5 839.7L830.7 838.9L831.8 837.7L833 836.1L834.1 834.3L835.3 832.6L836.6 831.1L837.9 830L839.3 828.9L840.8 828L842.2 827.2L843.7 826.4L845.1 825.8L846.5 825.2L847.9 824.7L849.3 824.3L850.7 824.1L852.2 823.8L853.6 823.5L855 823.4L856.4 823.6L857.8 824.1L859.3 825L860.7 826.4L862.1 828.1L863.5 829.7L864.9 831.1L866.4 832.5L867.8 834L869.3 835.3L870.7 836.4L872 837L873.3 837.2L874.5 837.1L875.6 836.6L876.7 835.9L877.9 835.2L879.1 834.1L880.2 832.8L881.4 831.4L882.6 830L883.8 828.8L885.2 827.7L886.6 826.6L888 825.6L889.5 824.7L890.9 824.1L892.4 823.5L893.8 823.2L895.3 822.9L896.7 822.8L898 822.9L899 823L899.9 823.3L900.8 823.8L901.6 824.4L902.7 825.2L904 826.4L905.4 827.9L906.9 829.5L908.4 831.1L909.8 832.3L911 833.4L912.2 834.3L913.4 835.1L914.5 835.7L915.7 835.9L916.9 835.6L918 834.9L919.2 834L920.3 833.1L921.6 832.3L923 831.9L924.5 831.6L926 831.4L927.4 830.9L928.7 830L929.8 828.5L930.7 826.6L931.6 824.5L932.5 822.4L933.4 820.5L934.3 818.9L935.2 817.3L936.2 815.8L937.1 814.5L938.1 813.4L939.2 812.5L940.4 811.7L941.6 811.1L942.8 810.7L944 810.6L945.2 810.8L946.3 811.2L947.5 811.9L948.7 812.7L949.9 813.4L951.3 814.2L952.8 815.1L954.3 816.1L955.7 817.1L957 818.2L958.1 819.2L959.1 820.4L960 821.6L960.8 822.8L961.8 824.1L962.7 825.4L963.5 827L964.4 828.4L965.4 829.7L966.5 830.4L967.7 830.6L969 830.3L970.4 829.8L972 829.2L973.6 828.8L975.3 828.6L977.3 828.4L979.3 828.2L981.2 828L983 827.6L984.6 827L986 826.3L987.4 825.5L988.7 824.7L990.1 824.1L991.5 823.5L992.9 823L994.3 822.5L995.8 822.1L997.2 821.7L998.6 821.4L1000.1 821.1L1001.5 820.9L1002.9 820.7L1004.3 820.5L1005.5 820.2L1006.7 819.9L1007.9 819.6L1009 819.3L1010.2 819.3L1011.3 819.5L1012.5 819.9L1013.6 820.4L1014.8 821L1016.1 821.7L1017.5 822.6L1018.9 823.6L1020.4 824.8L1021.9 825.7L1023.2 826.4L1024.2 826.8L1025.1 826.9L1025.9 826.8L1026.8 826.6L1027.9 826.4L1029.2 826.1L1030.7 825.8L1032.2 825.3L1033.7 824.7L1035 824.1L1036 823.2L1036.7 822.2L1037.4 821.2L1038.4 820.2L1039.7 819.3L1041.7 818.7L1044.3 818.1L1047.1 817.6L1049.5 817.3L1051.1 817" stroke="#f7831d" stroke-width="7.3" stroke-linecap="round" stroke-linejoin="round" fill="none" clip-path="url(#clip_orange_c)"/>
<path d="M657.6 672.7V850.2H1051.6V672.7" stroke="#d4842f" stroke-width="1.7" fill="none"/>
<path d="M745.2 850.2V845.2M854.6 850.2V845.2M964 850.2V845.2M657.6 768.3H662.6M657.6 682H662.6M1051.6 741H1046.6" stroke="#d4842f" stroke-width="1.5" fill="none"/>
<g fill="#d4842f" font-size="31"><text x="745.2" y="888.2" text-anchor="middle">-100</text><text x="854.6" y="888.2" text-anchor="middle">0</text><text x="964" y="888.2" text-anchor="middle">100</text><text x="651.1" y="780.8" text-anchor="end">20</text><text x="651.1" y="694.5" text-anchor="end">40</text><text x="1058.6" y="751.7">10</text><text x="1058.6" y="860.9">0</text></g>
<clipPath id="hclip_c"><rect x="1212.6" y="653.2" width="394.5" height="217.1"/></clipPath>
<path d="M1227 850.8H1255V841.8H1283.1V806.3H1311.2V739H1339.3V695.5H1367.5V704.6H1395.5V690.1H1423.6V682.9H1451.8V723.3H1479.8V757.1H1508V762H1536V794.2H1564.2V797.8H1592.2V815.2" stroke="#0a0af0" stroke-width="6.3" stroke-linejoin="miter" stroke-linecap="butt" fill="none" clip-path="url(#hclip_c)"/>
<path d="M1227 850.8H1255V841.8H1283.1V806.3H1311.2V747.5H1339.3V680.9H1367.5V713.6H1395.5V688.2H1423.6V673.7H1451.8V734.2H1479.8V759.6H1508V757.1H1536V788.6H1564.2V808.7H1592.2V809.2" stroke="#f7821c" stroke-width="6.3" stroke-linejoin="miter" stroke-linecap="butt" fill="none" clip-path="url(#hclip_c)"/>
<path d="M1212.6 673.2V850.3H1607.1" stroke="#1a1a1a" stroke-width="1.5" fill="none"/>
<path d="M1325.3 850.3V845.3M1437.7 850.3V845.3M1550.1 850.3V845.3M1212.6 787.9H1217.6M1212.6 725.2H1217.6" stroke="#1a1a1a" stroke-width="1.4" fill="none"/>
<g fill="#111" font-size="31"><text x="1212.9" y="888.3" text-anchor="middle">-2</text><text x="1325.3" y="888.3" text-anchor="middle">0</text><text x="1437.7" y="888.3" text-anchor="middle">2</text><text x="1550.1" y="888.3" text-anchor="middle">4</text><text x="1206.6" y="861" text-anchor="end">0</text><text x="1206.6" y="798.6" text-anchor="end">5</text><text x="1206.6" y="735.9" text-anchor="end">10</text></g>
<path d="M1535 688.2H1557" stroke="#0a0af0" stroke-width="7" fill="none"/>
<path d="M1535 734.6H1557" stroke="#f7821c" stroke-width="7" fill="none"/>
<g fill="#111" font-size="36"><text x="1565.9" y="702">Head stationary</text><text x="1565.9" y="748.4">Eq. Subsample</text></g>
<clipPath id="clip_blue_d"><rect x="103.2" y="986.7" width="393.6" height="177.5"/></clipPath>
<path d="M105.2 1164.3H235.8M247 1164.3H351.2M366 1164.3H481.3M105.2 1160H146.3M154.5 1160H277.4M428.8 1160H479.3M491.4 1160H494.8M105.2 1155.7H231.9M237.9 1155.7H382.5M397.1 1155.7H494.8M105.2 1151.3H175.2M307.1 1151.3H379.1M395.7 1151.3H494.8M105.2 1147H145M164.2 1147H299.3M317.6 1147H429M431.2 1147H494.8M105.2 1142.7H179.5M197.7 1142.7H287.4M358.7 1142.7H422.3M105.2 1138.4H209.5M225.5 1138.4H253.6M260.3 1138.4H329.6M347.8 1138.4H460.1M467.4 1138.4H494.8M105.2 1134.1H245.7M410.4 1134.1H494.8M105.2 1129.8H167.9M181.1 1129.8H216.4M223.3 1129.8H313.4M415.2 1129.8H478.7M105.2 1125.5H174.2M194.9 1125.5H262.7M412.6 1125.5H460.8M471.8 1125.5H494.8M105.2 1121.1H210.9M225.2 1121.1H287.3M299.3 1121.1H451.9M463 1121.1H494.8M105.2 1116.8H147M163.5 1116.8H216.6M223.3 1116.8H333M356.9 1116.8H482.7M105.2 1112.5H243.2M259.1 1112.5H358.6M488.8 1112.5H494.8M105.2 1108.2H184.7M208.2 1108.2H298.7M309.1 1108.2H427.5M446.3 1108.2H494.8M219.6 1103.9H368.5M235.3 1099.6H300M442 1099.6H494.8M105.2 1095.2H241.6M326.5 1095.2H435.7M105.2 1090.9H133.3M149.1 1090.9H297M360.8 1090.9H385.9M451.7 1090.9H494.8M105.2 1086.6H241.9M369.5 1086.6H421.6M474.1 1086.6H494.8M105.2 1082.3H167.5M173.8 1082.3H299.3M318.4 1082.3H394M399.3 1082.3H441.7M461.9 1082.3H494.8M105.2 1078H191.3M207.7 1078H291.1M301.9 1078H359M371.3 1078H494.8M105.2 1073.7H158.9M166.6 1073.7H323.8M335.9 1073.7H451.9M469.3 1073.7H494.8M105.2 1069.4H147.7M153.3 1069.4H238.1M249.3 1069.4H325.4M346.9 1069.4H422.5M434.3 1069.4H494.8M105.2 1065H137.9M155.7 1065H292.3M310.6 1065H416.3M105.2 1060.7H197.2M200.7 1060.7H350M368.5 1060.7H460.5M475.5 1060.7H494.8M105.2 1056.4H201.1M329.6 1056.4H430.9M440.1 1056.4H481.9M105.2 1052.1H174.9M188.9 1052.1H339.3M356.9 1052.1H378.2M386.6 1052.1H429.6M439.3 1052.1H494.8M154.2 1047.8H220.7M360.8 1047.8H414.5M427.4 1047.8H494.8M105.2 1043.5H126.2M133.9 1043.5H267.3M269.7 1043.5H386.3M105.2 1039.2H263.5M284.8 1039.2H361.6M367.3 1039.2H391.9M105.2 1034.8H177.1M197.5 1034.8H262M272.1 1034.8H413M425.9 1034.8H494.8M228.9 1030.5H315.7M105.2 1026.2H155.2M105.2 1021.9H237.3M247.8 1021.9H312.7M324.7 1021.9H347.7M359.9 1021.9H494.8M105.2 1017.6H244M250.7 1017.6H340.8M364.3 1017.6H468.2M479.9 1017.6H494.8M105.2 1013.3H225.5M232.3 1013.3H264.8M341 1013.3H432.3M451.8 1013.3H494.8M105.2 1008.9H215.7M225.2 1008.9H365.2M376.6 1008.9H491.6M105.2 1004.6H197.5M219.7 1004.6H318.3M431.1 1004.6H494.8M105.2 1000.3H224.3M228 1000.3H279.7M283.3 1000.3H351.2M355.6 1000.3H377.2M382.4 1000.3H408.1M415.5 1000.3H435.6M105.2 996H150.1M168.3 996H214.2M364.6 996H494.8M105.2 991.7H244.6M416.6 991.7H494.8" stroke="#f0f0f0" stroke-width="1" fill="none"/>
<path d="M182.8 1164.3h0M186.4 1164.3h0M190 1164.3h0M200.5 1164.3h0M203.3 1164.3h0M206.6 1164.3h0M209.7 1164.3h0M212.9 1164.3h0M216.2 1164.3h0M219.5 1164.3h0M222.6 1164.3h0M225.8 1164.3h0M257 1164.3h0M287.1 1164.3h0M440.8 1164.3h0M128.3 1160h0M145.9 1160h0M149.2 1160h0M152.4 1160h0M155.2 1160h0M158.3 1160h0M161.3 1160h0M164.8 1160h0M167.4 1160h0M170.5 1160h0M173.5 1160h0M176.6 1160h0M179.6 1160h0M182.7 1160h0M186 1160h0M189 1160h0M192.1 1160h0M198 1160h0M200.7 1160h0M203.8 1160h0M206.4 1160h0M471.1 1160h0M490.6 1160h0M139.9 1155.7h0M161.6 1155.7h0M175.9 1155.7h0M185.5 1155.7h0M209.6 1155.7h0M212.3 1155.7h0M215.3 1155.7h0M226.7 1155.7h0M159.1 1151.3h0M169.6 1151.3h0M189.9 1151.3h0M219 1151.3h0M351.6 1151.3h0M438.1 1151.3h0M165.7 1147h0M420.1 1147h0M423.9 1147h0M427.3 1147h0M430.5 1147h0M198.1 1142.7h0M239.6 1142.7h0M329 1142.7h0M485.4 1142.7h0M488.8 1142.7h0M159.9 1138.4h0M163 1138.4h0M166.2 1138.4h0M169.2 1138.4h0M171.9 1138.4h0M175 1138.4h0M178.1 1138.4h0M181.1 1138.4h0M184.2 1138.4h0M187.5 1138.4h0M190.4 1138.4h0M193.5 1138.4h0M196.7 1138.4h0M199.5 1138.4h0M202.6 1138.4h0M244.4 1138.4h0M247.7 1138.4h0M408.4 1138.4h0M104.3 1134.1h0M171.4 1134.1h0M174.5 1134.1h0M177.8 1134.1h0M180.8 1134.1h0M184 1134.1h0M187 1134.1h0M190.7 1134.1h0M193.8 1134.1h0M196.6 1134.1h0M211 1134.1h0M223.7 1134.1h0M240.6 1134.1h0M358.1 1134.1h0M415.1 1134.1h0M489 1134.1h0M492.2 1134.1h0M495.7 1134.1h0M114.8 1129.8h0M140.2 1129.8h0M143.2 1129.8h0M145.5 1129.8h0M148.6 1129.8h0M158.6 1129.8h0M161.8 1129.8h0M165.1 1129.8h0M168.1 1129.8h0M188.9 1129.8h0M214.2 1129.8h0M240.9 1129.8h0M336.7 1129.8h0M348.6 1129.8h0M448.8 1129.8h0M106.7 1125.5h0M123.1 1125.5h0M129 1125.5h0M132.4 1125.5h0M136 1125.5h0M149.4 1125.5h0M152.7 1125.5h0M155.6 1125.5h0M158.7 1125.5h0M162 1125.5h0M164.8 1125.5h0M167.9 1125.5h0M171.2 1125.5h0M174.2 1125.5h0M177.2 1125.5h0M180.4 1125.5h0M183.6 1125.5h0M186.4 1125.5h0M189.3 1125.5h0M198.8 1125.5h0M202.1 1125.5h0M204.8 1125.5h0M207.9 1125.5h0M210.9 1125.5h0M213.7 1125.5h0M216.9 1125.5h0M220.1 1125.5h0M229.1 1125.5h0M359.2 1125.5h0M361.8 1125.5h0M364.2 1125.5h0M413.4 1125.5h0M463.1 1125.5h0M467.3 1125.5h0M479.9 1125.5h0M483.2 1125.5h0M114.8 1121.1h0M214.6 1121.1h0M237.1 1121.1h0M290.5 1121.1h0M125.3 1116.8h0M176.4 1116.8h0M204.3 1116.8h0M118.3 1112.5h0M166.6 1112.5h0M169.5 1112.5h0M172.7 1112.5h0M197.8 1112.5h0M200.6 1112.5h0M203.5 1112.5h0M206.7 1112.5h0M233.7 1112.5h0M330.4 1112.5h0M139.1 1108.2h0M151.7 1108.2h0M154.5 1108.2h0M157.6 1108.2h0M160.3 1108.2h0M163.5 1108.2h0M166.1 1108.2h0M169.2 1108.2h0M171.8 1108.2h0M174.7 1108.2h0M225.7 1108.2h0M139.2 1103.9h0M180.3 1103.9h0M183.2 1103.9h0M185.8 1103.9h0M188.9 1103.9h0M118.3 1099.6h0M121.3 1099.6h0M123.8 1099.6h0M126.5 1099.6h0M129.6 1099.6h0M132.2 1099.6h0M142.8 1099.6h0M160.9 1099.6h0M169.3 1099.6h0M208.2 1099.6h0M214.3 1099.6h0M230 1099.6h0M293 1099.6h0M329.6 1099.6h0M341.1 1099.6h0M370.9 1099.6h0M396.4 1099.6h0M400.1 1099.6h0M415.2 1099.6h0M440.9 1099.6h0M444.4 1099.6h0M449 1099.6h0M452.1 1099.6h0M481.1 1099.6h0M486.5 1099.6h0M492 1099.6h0M135.8 1095.2h0M138.5 1095.2h0M141.6 1095.2h0M144.6 1095.2h0M147.2 1095.2h0M150.2 1095.2h0M153.5 1095.2h0M156.2 1095.2h0M159.3 1095.2h0M161.8 1095.2h0M164.8 1095.2h0M167.6 1095.2h0M170.9 1095.2h0M173.7 1095.2h0M176.4 1095.2h0M179.6 1095.2h0M200.3 1095.2h0M202.9 1095.2h0M205.7 1095.2h0M208.7 1095.2h0M240.4 1095.2h0M146.1 1090.9h0M179.3 1090.9h0M226.7 1090.9h0M458.7 1090.9h0M166.6 1086.6h0M187.3 1086.6h0M191.2 1086.6h0M201.4 1086.6h0M203.9 1086.6h0M207 1086.6h0M209.5 1086.6h0M264.1 1086.6h0M292.8 1086.6h0M415.6 1086.6h0M230.7 1082.3h0M178.2 1078h0M185.4 1078h0M188.4 1078h0M191.7 1078h0M194.8 1078h0M198.1 1078h0M201.6 1078h0M204.8 1078h0M210.5 1078h0M135.5 1073.7h0M139 1073.7h0M142.1 1073.7h0M145.2 1073.7h0M148.5 1073.7h0M152 1073.7h0M158.8 1073.7h0M162.1 1073.7h0M165.5 1073.7h0M237.2 1073.7h0M337.9 1073.7h0M419.1 1073.7h0M421.9 1073.7h0M109.2 1069.4h0M129.8 1069.4h0M150.5 1069.4h0M166.6 1069.4h0M175.8 1069.4h0M178.9 1069.4h0M182.1 1069.4h0M185 1069.4h0M188.1 1069.4h0M191 1069.4h0M194 1069.4h0M196.8 1069.4h0M199.9 1069.4h0M202.9 1069.4h0M205.7 1069.4h0M208.6 1069.4h0M211.6 1069.4h0M214.6 1069.4h0M218 1069.4h0M220.9 1069.4h0M223.8 1069.4h0M226.6 1069.4h0M254.6 1069.4h0M391.1 1069.4h0M393.8 1069.4h0M396.5 1069.4h0M399.1 1069.4h0M402.3 1069.4h0M404.6 1069.4h0M413.4 1069.4h0M417 1069.4h0M441.6 1069.4h0M444.6 1069.4h0M447 1069.4h0M449.6 1069.4h0M467.5 1069.4h0M485.9 1069.4h0M165.7 1065h0M179.4 1065h0M182.4 1065h0M185.3 1065h0M188.3 1065h0M191.3 1065h0M194.2 1065h0M197.2 1065h0M200.3 1065h0M253.8 1065h0M300.1 1065h0M387.5 1065h0M390.4 1065h0M393.3 1065h0M450.7 1065h0M483.4 1065h0M132.3 1060.7h0M148.8 1060.7h0M156.9 1060.7h0M159.8 1060.7h0M171.6 1060.7h0M174.6 1060.7h0M177.6 1060.7h0M180.3 1060.7h0M183.4 1060.7h0M186.3 1060.7h0M189.2 1060.7h0M192.4 1060.7h0M195.3 1060.7h0M198.3 1060.7h0M201.3 1060.7h0M204.2 1060.7h0M207.2 1060.7h0M210 1060.7h0M212.8 1060.7h0M215.9 1060.7h0M218.8 1060.7h0M221.9 1060.7h0M224.7 1060.7h0M227.9 1060.7h0M234.7 1060.7h0M237.5 1060.7h0M240.8 1060.7h0M243.6 1060.7h0M246.3 1060.7h0M271.7 1060.7h0M280.8 1060.7h0M284 1060.7h0M287.4 1060.7h0M290.6 1060.7h0M293.6 1060.7h0M296.7 1060.7h0M300.2 1060.7h0M117.2 1056.4h0M120.6 1056.4h0M124.2 1056.4h0M127.7 1056.4h0M133.6 1056.4h0M140.2 1056.4h0M152.9 1056.4h0M160 1056.4h0M169.1 1056.4h0M172.6 1056.4h0M175.5 1056.4h0M178.9 1056.4h0M182.2 1056.4h0M185.5 1056.4h0M196.6 1056.4h0M200 1056.4h0M203.1 1056.4h0M206.2 1056.4h0M208.9 1056.4h0M212.3 1056.4h0M215.4 1056.4h0M295.9 1056.4h0M477 1056.4h0M495.6 1056.4h0M104.5 1052.1h0M112.1 1052.1h0M114.7 1052.1h0M117.8 1052.1h0M120.7 1052.1h0M123.5 1052.1h0M126.7 1052.1h0M129.4 1052.1h0M132.3 1052.1h0M134.9 1052.1h0M137.8 1052.1h0M143.9 1052.1h0M155.5 1052.1h0M157.9 1052.1h0M161.2 1052.1h0M163.7 1052.1h0M166.8 1052.1h0M169.5 1052.1h0M172.7 1052.1h0M175.3 1052.1h0M178.5 1052.1h0M181.4 1052.1h0M184 1052.1h0M186.7 1052.1h0M189.8 1052.1h0M196.6 1052.1h0M199.7 1052.1h0M202.8 1052.1h0M205.7 1052.1h0M209.1 1052.1h0M211.8 1052.1h0M215.2 1052.1h0M217.9 1052.1h0M220.8 1052.1h0M223.9 1052.1h0M226.9 1052.1h0M230.4 1052.1h0M239.5 1052.1h0M267 1052.1h0M271.8 1052.1h0M286.6 1052.1h0M290 1052.1h0M293.2 1052.1h0M296.8 1052.1h0M299.8 1052.1h0M356.1 1052.1h0M373.9 1052.1h0M393.3 1052.1h0M395.4 1052.1h0M397.8 1052.1h0M449 1052.1h0M478.4 1052.1h0M481.2 1052.1h0M484.5 1052.1h0M487.3 1052.1h0M490.2 1052.1h0M493.2 1052.1h0M495.8 1052.1h0M148.4 1047.8h0M152.6 1047.8h0M169 1047.8h0M299.8 1047.8h0M306 1047.8h0M308.5 1047.8h0M311.6 1047.8h0M314.4 1047.8h0M317.1 1047.8h0M320.3 1047.8h0M322.9 1047.8h0M332.3 1047.8h0M334.9 1047.8h0M337.8 1047.8h0M340.7 1047.8h0M343.9 1047.8h0M346.7 1047.8h0M349.4 1047.8h0M358.8 1047.8h0M365.7 1047.8h0M371.3 1047.8h0M376.2 1047.8h0M382.7 1047.8h0M386 1047.8h0M389.3 1047.8h0M392.5 1047.8h0M396 1047.8h0M399.1 1047.8h0M401.5 1047.8h0M421 1047.8h0M423.7 1047.8h0M426.9 1047.8h0M429.8 1047.8h0M432.6 1047.8h0M462.4 1047.8h0M178.6 1043.5h0M190.8 1043.5h0M194.1 1043.5h0M196.6 1043.5h0M199.5 1043.5h0M202.3 1043.5h0M205.2 1043.5h0M207.7 1043.5h0M210.6 1043.5h0M226.7 1043.5h0M241.8 1043.5h0M245 1043.5h0M248.6 1043.5h0M251.9 1043.5h0M255.4 1043.5h0M259.2 1043.5h0M266.1 1043.5h0M279.7 1043.5h0M282.5 1043.5h0M285.5 1043.5h0M288.4 1043.5h0M291.2 1043.5h0M294.2 1043.5h0M297 1043.5h0M300 1043.5h0M313.1 1043.5h0M317.7 1043.5h0M405.4 1043.5h0M107 1039.2h0M123.2 1039.2h0M132.1 1039.2h0M138.1 1039.2h0M141.4 1039.2h0M169.4 1039.2h0M173.9 1039.2h0M179.7 1039.2h0M182.8 1039.2h0M185.9 1039.2h0M188.7 1039.2h0M192.2 1039.2h0M195.1 1039.2h0M198.2 1039.2h0M201.2 1039.2h0M342.1 1039.2h0M378.1 1039.2h0M493.7 1039.2h0M104.4 1034.8h0M124.1 1034.8h0M128.9 1034.8h0M133.2 1034.8h0M135.9 1034.8h0M146.9 1034.8h0M163.6 1034.8h0M170.3 1034.8h0M173 1034.8h0M175.5 1034.8h0M178.3 1034.8h0M203.3 1034.8h0M206.5 1034.8h0M209.6 1034.8h0M278.2 1034.8h0M332.6 1034.8h0M354.1 1034.8h0M374 1034.8h0M393.5 1034.8h0M400.7 1034.8h0M412.2 1034.8h0M416.3 1034.8h0M426.6 1034.8h0M431.5 1034.8h0M140.1 1030.5h0M179.3 1030.5h0M191.1 1030.5h0M219.7 1030.5h0M241.5 1030.5h0M263.8 1030.5h0M291.1 1030.5h0M317.5 1030.5h0M334.4 1030.5h0M432.4 1030.5h0M464.7 1030.5h0M491.8 1030.5h0M495.7 1030.5h0M139.9 1026.2h0M181.8 1026.2h0M185.2 1026.2h0M188.7 1026.2h0M192.2 1026.2h0M195.6 1026.2h0M197.7 1026.2h0M206.1 1026.2h0M209.5 1026.2h0M212.7 1026.2h0M222.1 1026.2h0M225.6 1026.2h0M233 1026.2h0M238.4 1026.2h0M254.3 1026.2h0M270.6 1026.2h0M395.5 1026.2h0M399.1 1026.2h0M430.1 1026.2h0M433.8 1026.2h0M442.3 1026.2h0M467 1026.2h0M495.8 1026.2h0M120.3 1021.9h0M130.3 1021.9h0M133.5 1021.9h0M143.9 1021.9h0M161.2 1021.9h0M164 1021.9h0M185.2 1021.9h0M188.1 1021.9h0M191.2 1021.9h0M201.4 1021.9h0M205 1021.9h0M210.6 1021.9h0M215.4 1021.9h0M242.5 1021.9h0M254.2 1021.9h0M282 1021.9h0M284.4 1021.9h0M295.8 1021.9h0M379.3 1021.9h0M383 1021.9h0M392.2 1021.9h0M396.6 1021.9h0M406 1021.9h0M409.6 1021.9h0M414 1021.9h0M423.9 1021.9h0M442.1 1021.9h0M448.6 1021.9h0M469.4 1021.9h0M491.5 1021.9h0M495.9 1021.9h0M113.4 1017.6h0M116.2 1017.6h0M143.9 1017.6h0M164.7 1017.6h0M170.8 1017.6h0M175.8 1017.6h0M188.7 1017.6h0M199.1 1017.6h0M203.9 1017.6h0M219.9 1017.6h0M230.2 1017.6h0M233.7 1017.6h0M295.8 1017.6h0M302.2 1017.6h0M313.1 1017.6h0M333.2 1017.6h0M337 1017.6h0M350.9 1017.6h0M355.3 1017.6h0M389.7 1017.6h0M394.7 1017.6h0M398.1 1017.6h0M404.7 1017.6h0M452.1 1017.6h0M488.6 1017.6h0M141.9 1013.3h0M160.1 1013.3h0M163 1013.3h0M165.4 1013.3h0M170.8 1013.3h0M179.1 1013.3h0M181.6 1013.3h0M202 1013.3h0M216.5 1013.3h0M224.6 1013.3h0M229.8 1013.3h0M288.9 1013.3h0M373.9 1013.3h0M379.3 1013.3h0M385.1 1013.3h0M408.3 1013.3h0M435.4 1013.3h0M444.8 1013.3h0M465.2 1013.3h0M473.2 1013.3h0M485.7 1013.3h0M113.2 1008.9h0M127.9 1008.9h0M130.4 1008.9h0M134.5 1008.9h0M141.8 1008.9h0M192.9 1008.9h0M209.4 1008.9h0M222.2 1008.9h0M233.6 1008.9h0M277.9 1008.9h0M292.4 1008.9h0M298 1008.9h0M300.4 1008.9h0M326.4 1008.9h0M346 1008.9h0M389.8 1008.9h0M450.7 1008.9h0M479.1 1008.9h0M488.7 1008.9h0M162.1 1004.6h0M123 1000.3h0M205.6 1000.3h0M314 1000.3h0M316.7 1000.3h0M472.1 1000.3h0M141.3 996h0M144 996h0M161 996h0M167.9 996h0M171.2 996h0M173.6 996h0M181.4 996h0M191.2 996h0M372.2 996h0M495.9 996h0M113.3 991.7h0M130.6 991.7h0M146.4 991.7h0M157.6 991.7h0M161.1 991.7h0M164.1 991.7h0M171.8 991.7h0M174.9 991.7h0M184.7 991.7h0M188.4 991.7h0M211.1 991.7h0M216.8 991.7h0M239.3 991.7h0M263.7 991.7h0M274 991.7h0M282.7 991.7h0M293.4 991.7h0M296.9 991.7h0M301.9 991.7h0M378.4 991.7h0" stroke="#1411b4" stroke-width="4.3" stroke-linecap="round" fill="none" clip-path="url(#clip_blue_d)"/>
<path d="M103.2 1121.7L104.4 1121.4L106.1 1121.1L108.1 1120.7L110 1120.1L111.5 1119.3L112.7 1118.4L113.7 1117.3L114.5 1116.1L115.4 1114.8L116.3 1113.4L117.2 1112.1L118.1 1110.7L119.1 1109.3L120 1107.9L121 1106.4L121.9 1104.7L122.9 1103L123.8 1101.2L124.8 1099.6L125.7 1098.1L126.6 1096.8L127.4 1095.5L128.3 1094.4L129.3 1093.5L130.4 1092.9L131.9 1092.6L133.7 1092.8L135.6 1093L137.3 1093.2L138.7 1092.9L139.7 1092.2L140.4 1091.4L141 1090.3L141.6 1089L142.2 1087.5L142.9 1085.7L143.7 1083.8L144.4 1081.6L145.1 1079.3L145.8 1076.8L146.5 1074.3L147.2 1071.5L147.9 1068.7L148.6 1065.7L149.3 1062.7L150 1059.5L150.7 1056.2L151.4 1052.9L152.2 1049.5L152.9 1046.1L153.6 1042.9L154.2 1039.6L154.9 1036.4L155.6 1033.1L156.4 1029.6L157.3 1025.9L158.2 1022L159.2 1018L160.2 1014.2L161.1 1010.7L162.1 1007.4L163 1004.3L164 1001.4L164.9 998.8L165.9 996.5L166.8 994.7L167.6 993.3L168.5 992.2L169.5 991.3L170.6 990.6L171.9 990.2L173.4 990L174.9 990L176.4 990.2L177.7 990.6L178.8 991.3L179.7 992.1L180.6 993.2L181.5 994.3L182.4 995.4L183.3 996.5L184.3 997.9L185.3 999.2L186.2 1000.4L187.1 1001.3L187.9 1001.8L188.6 1002.2L189.3 1002.4L190 1002.4L190.7 1002.4L191.3 1002.3L192 1001.9L192.7 1001.4L193.4 1001.2L194.2 1001.3L195.1 1001.8L196 1002.6L197 1003.6L198 1004.8L198.9 1006L199.9 1007.2L200.8 1008.4L201.8 1009.8L202.7 1011.3L203.6 1013.1L204.6 1015.1L205.5 1017.3L206.5 1019.8L207.4 1022.3L208.4 1024.9L209.3 1027.5L210.3 1030.3L211.3 1033.1L212.2 1036L213.1 1039L213.9 1042.2L214.6 1045.5L215.3 1048.8L215.9 1052.2L216.6 1055.6L217.3 1058.9L218 1062.2L218.8 1065.5L219.5 1068.8L220.2 1072.1L220.9 1075.5L221.6 1078.8L222.3 1082.2L223 1085.5L223.7 1088.6L224.4 1091.7L225.1 1094.6L225.8 1097.4L226.5 1100.2L227.3 1102.8L227.9 1105.4L228.6 1107.9L229.2 1110.3L229.9 1112.5L230.8 1114.6L231.8 1116.5L233 1118.3L234.2 1119.9L235.5 1121.4L236.7 1122.9L237.9 1124.2L239.1 1125.2L240.2 1126.3L241.4 1127.4L242.6 1128.8L243.8 1130.5L244.9 1132.4L246.1 1134.5L247.3 1136.4L248.5 1138.2L249.8 1139.9L251.2 1141.4L252.6 1142.9L254.1 1144.2L255.6 1145.3L257.2 1146.4L258.9 1147.3L260.6 1148L262.3 1148.6L263.9 1148.9L265.4 1148.8L266.8 1148.5L268.2 1147.9L269.6 1147.2L271 1146.5L272.4 1145.7L273.8 1144.8L275.3 1143.9L276.7 1142.8L278 1141.8L279.3 1140.6L280.4 1139.3L281.6 1138L282.7 1136.8L283.9 1135.9L285.3 1135.1L286.7 1134.5L288.1 1134L289.6 1133.7L291 1133.5L292.4 1133.5L293.7 1133.8L295.1 1134.1L296.5 1134.5L298.1 1134.7L299.9 1134.7L301.8 1134.7L303.8 1134.6L305.7 1134.6L307.6 1134.7L309.3 1135.1L311 1135.7L312.7 1136.3L314.3 1136.8L315.8 1137.1L317.4 1136.9L318.9 1136.5L320.3 1135.9L321.7 1135.2L322.9 1134.7L324 1134.1L324.9 1133.5L325.8 1132.9L326.7 1132.5L327.6 1132.3L328.7 1132.5L329.9 1132.9L331 1133.5L332.3 1134.1L333.5 1134.7L334.8 1135.2L336.2 1135.7L337.6 1136.2L339 1136.7L340.6 1137.1L342.4 1137.3L344.3 1137.4L346.3 1137.6L348.3 1137.8L350.1 1138.2L351.6 1139.1L353.1 1140.2L354.4 1141.4L355.8 1142.4L357.2 1143L358.6 1143L360 1142.6L361.4 1142L362.8 1141.3L364.2 1140.6L365.7 1140L367.1 1139.5L368.6 1138.9L370 1138.1L371.3 1137.1L372.6 1135.7L373.8 1134.1L374.9 1132.4L376.1 1130.6L377.2 1128.8L378.4 1126.9L379.5 1124.8L380.7 1122.8L381.9 1120.9L383.1 1119.3L384.5 1118.1L385.9 1117.1L387.3 1116.3L388.8 1115.6L390.2 1115.1L391.7 1114.7L393.1 1114.4L394.6 1114.2L396 1114.1L397.3 1114.1L398.6 1114.2L399.8 1114.4L400.9 1114.7L402 1115.2L403.2 1115.8L404.4 1116.8L405.5 1118L406.7 1119.4L407.9 1120.7L409.1 1121.7L410.4 1122.4L411.7 1123L413.1 1123.5L414.6 1123.8L416.2 1124.1L418 1124.2L419.9 1124.3L421.9 1124.3L423.9 1124.2L425.6 1124.1L427.2 1123.9L428.6 1123.6L430 1123.3L431.4 1123.1L432.7 1122.9L434.1 1122.8L435.6 1122.6L437 1122.6L438.4 1122.6L439.8 1122.9L441.2 1123.4L442.6 1124.1L444.1 1124.9L445.5 1125.7L446.9 1126.4L448.3 1126.9L449.7 1127.2L451.1 1127.6L452.5 1128L454 1128.8L455.6 1130.1L457.3 1131.7L459.1 1133.5L460.7 1135L462.3 1135.9L463.6 1136.1L464.7 1135.8L465.8 1135.2L466.9 1134.4L468.2 1133.5L469.5 1132.6L470.9 1131.4L472.4 1130.1L473.8 1128.8L475.2 1127.6L476.7 1126.4L478.1 1125.1L479.6 1123.8L481 1122.7L482.3 1121.7L483.5 1120.9L484.6 1120.3L485.7 1119.8L486.9 1119.5L488.2 1119.3L489.9 1119.6L491.9 1120.1L493.9 1120.7L495.6 1121.3L496.8 1121.7" stroke="#0808f2" stroke-width="7.3" stroke-linecap="round" stroke-linejoin="round" fill="none" clip-path="url(#clip_blue_d)"/>
<path d="M103.2 986.7V1164.2H496.8V986.7" stroke="#1410b4" stroke-width="1.7" fill="none"/>
<path d="M190.7 1164.2V1159.2M300 1164.2V1159.2M409.3 1164.2V1159.2M103.2 1082.3H108.2M103.2 996H108.2M496.8 1035.2H491.8" stroke="#1410b4" stroke-width="1.5" fill="none"/>
<g fill="#1410b4" font-size="31"><text x="190.7" y="1202.2" text-anchor="middle">-100</text><text x="300" y="1202.2" text-anchor="middle">0</text><text x="409.3" y="1202.2" text-anchor="middle">100</text><text x="96.7" y="1094.8" text-anchor="end">20</text><text x="96.7" y="1008.5" text-anchor="end">40</text><text x="503.8" y="1045.9">10</text><text x="503.8" y="1174.9">0</text></g>
<clipPath id="clip_orange_d"><rect x="657.6" y="986.7" width="394" height="177.5"/></clipPath>
<path d="M659.6 1164.3H684.2M700.2 1164.3H767.2M773.7 1164.3H813.2M818.4 1164.3H949.8M659.6 1160H718.7M803.5 1160H948.5M659.6 1155.7H750.6M770 1155.7H835.4M842.9 1155.7H915.9M925.8 1155.7H1049.6M659.6 1151.3H717.6M729.2 1151.3H874.1M882.9 1151.3H935.7M659.6 1147H797.2M870.6 1147H992.7M1017 1147H1049.6M659.6 1142.7H783.8M843.6 1142.7H980.5M986.1 1142.7H1039.7M659.6 1138.4H717.7M982.2 1138.4H1049.6M659.6 1134.1H729M827.2 1134.1H973.9M995 1134.1H1033.6M1042.1 1134.1H1049.6M733.1 1129.8H810.9M825.4 1129.8H876.6M893.1 1129.8H916.6M932.6 1129.8H965.7M972.1 1129.8H999.8M1008.8 1129.8H1049.6M659.6 1125.5H744.8M830.3 1125.5H905M1041.7 1125.5H1049.6M659.6 1121.1H757.8M761.6 1121.1H876.9M896.6 1121.1H955.3M1016 1121.1H1049.6M659.6 1116.8H789M968.8 1116.8H1041M659.6 1112.5H816.9M836 1112.5H928.6M951.6 1112.5H1049.6M659.6 1108.2H727.5M749.5 1108.2H809.4M824.8 1108.2H955.1M977.4 1108.2H998M1020.5 1108.2H1049.6M659.6 1103.9H810.7M814.5 1103.9H944.6M966 1103.9H1049.6M659.6 1099.6H697.3M722.1 1099.6H808.7M936.9 1099.6H1046.7M948.8 1095.2H1049.6M659.6 1090.9H708.5M996 1090.9H1049.6M659.6 1086.6H800.4M825.2 1086.6H891.7M902.8 1086.6H1049.6M659.6 1082.3H815.9M897.6 1082.3H1029.9M659.6 1078H770.1M787.8 1078H945.6M950.9 1078H1042.9M659.6 1073.7H713.8M738.7 1073.7H879.5M888.7 1073.7H1020.3M1028.6 1073.7H1049.6M659.6 1069.4H802.7M820.9 1069.4H930.7M947.9 1069.4H1011.4M1026.2 1069.4H1049.6M659.6 1065H757.7M782.6 1065H931.7M949.6 1065H1008.1M1017.7 1065H1049.6M659.6 1060.7H805.3M814 1060.7H924.1M943.3 1060.7H1010.1M1020.8 1060.7H1049.6M723.5 1056.4H780.9M659.6 1052.1H689.8M713 1052.1H795.2M811.5 1052.1H878.1M897 1052.1H1033.2M1038.3 1052.1H1049.6M820 1047.8H924.1M929 1047.8H1049.6M659.6 1043.5H744.7M748.7 1043.5H862M872.9 1043.5H974.8M994.2 1043.5H1043.5M659.6 1039.2H734.9M742.5 1039.2H772.8M786.1 1039.2H945.1M966.1 1039.2H1049.6M659.6 1034.8H768.8M790.8 1034.8H857.6M1000 1034.8H1049.6M710.3 1030.5H859.6M865.2 1030.5H979.8M991.9 1030.5H1024.3M659.6 1026.2H682.4M851.5 1026.2H885M901.3 1026.2H953.6M659.6 1021.9H721.9M728.4 1021.9H814M826.5 1021.9H923.6M936.7 1021.9H1049.6M659.6 1017.6H747.3M771.3 1017.6H889.5M894.2 1017.6H1032.2M789.2 1013.3H836.1M841.4 1013.3H964.5M1008.2 1013.3H1049.6M821.4 1008.9H887.5M843 1004.6H910.3M922.6 1004.6H1004.2M718.9 1000.3H806.8M659.6 996H722.4M727.6 996H812.2M908.5 996H931.3M933.9 996H1043.4M659.6 991.7H808.3M828.7 991.7H952.9M969.4 991.7H1049.6" stroke="#f0f0f0" stroke-width="1" fill="none"/>
<path d="M737.2 1164.3h0M740.8 1164.3h0M744.4 1164.3h0M682.9 1160h0M700.4 1160h0M703.6 1160h0M706.6 1160h0M709.7 1160h0M712.9 1160h0M716.1 1160h0M719.1 1160h0M722.2 1160h0M724.8 1160h0M728 1160h0M731.4 1160h0M734.3 1160h0M737.2 1160h0M740.5 1160h0M743.7 1160h0M746.4 1160h0M752.3 1160h0M755 1160h0M758.3 1160h0M760.8 1160h0M763.7 1160h0M766.5 1160h0M769.4 1160h0M1025.2 1160h0M1044.8 1160h0M694.2 1155.7h0M739.6 1155.7h0M781.1 1155.7h0M724.1 1151.3h0M762.6 1151.3h0M773.8 1151.3h0M906.1 1151.3h0M701.6 1147h0M710.8 1147h0M720.2 1147h0M730.4 1147h0M733.3 1147h0M736.5 1147h0M739.4 1147h0M742.1 1147h0M745.2 1147h0M748 1147h0M750.7 1147h0M753.8 1147h0M756.9 1147h0M759.5 1147h0M762.5 1147h0M974.7 1147h0M978.1 1147h0M981.2 1147h0M985 1147h0M1005.6 1147h0M1013.5 1147h0M1019.9 1147h0M735.8 1142.7h0M752.5 1142.7h0M979.4 1142.7h0M1039.7 1142.7h0M1043.3 1142.7h0M714.4 1138.4h0M717.5 1138.4h0M720.5 1138.4h0M723.2 1138.4h0M726.3 1138.4h0M729.5 1138.4h0M732.5 1138.4h0M735.5 1138.4h0M738.8 1138.4h0M741.7 1138.4h0M744.8 1138.4h0M748 1138.4h0M750.8 1138.4h0M753.9 1138.4h0M757.2 1138.4h0M798.6 1138.4h0M802.3 1138.4h0M962.8 1138.4h0M658.6 1134.1h0M725.7 1134.1h0M729 1134.1h0M732.1 1134.1h0M735.3 1134.1h0M738.3 1134.1h0M741.9 1134.1h0M745.1 1134.1h0M747.8 1134.1h0M751 1134.1h0M765.5 1134.1h0M778.2 1134.1h0M795 1134.1h0M912.5 1134.1h0M969.7 1134.1h0M1043.2 1134.1h0M1046.6 1134.1h0M1050.4 1134.1h0M768.3 1129.8h0M661.5 1125.5h0M677.3 1125.5h0M683.4 1125.5h0M686.5 1125.5h0M690.1 1125.5h0M704.1 1125.5h0M707.2 1125.5h0M710.2 1125.5h0M713.3 1125.5h0M716.4 1125.5h0M719.1 1125.5h0M722.5 1125.5h0M725.7 1125.5h0M728.3 1125.5h0M731.6 1125.5h0M734.8 1125.5h0M737.9 1125.5h0M753.7 1125.5h0M756.3 1125.5h0M759.5 1125.5h0M762.3 1125.5h0M765.2 1125.5h0M768.5 1125.5h0M771.1 1125.5h0M774.1 1125.5h0M783.6 1125.5h0M913.8 1125.5h0M916.1 1125.5h0M918.5 1125.5h0M968.1 1125.5h0M1017.4 1125.5h0M1021.5 1125.5h0M1033.9 1125.5h0M1037.7 1125.5h0M668.9 1121.1h0M676 1121.1h0M749.4 1121.1h0M756.8 1121.1h0M769.1 1121.1h0M791.8 1121.1h0M845.1 1121.1h0M679.5 1116.8h0M758.9 1116.8h0M659.2 1112.5h0M708.5 1112.5h0M711.7 1112.5h0M714.9 1112.5h0M718 1112.5h0M720.9 1112.5h0M724 1112.5h0M726.9 1112.5h0M738.4 1112.5h0M752.2 1112.5h0M755.3 1112.5h0M757.8 1112.5h0M761 1112.5h0M763.7 1112.5h0M766.9 1112.5h0M769.6 1112.5h0M772.6 1112.5h0M775.2 1112.5h0M884.7 1112.5h0M717.6 1108.2h0M720.7 1108.2h0M723.5 1108.2h0M726.2 1108.2h0M939.5 1108.2h0M693.5 1103.9h0M749.8 1103.9h0M756.9 1103.9h0M759.7 1103.9h0M762.8 1103.9h0M877.3 1103.9h0M672.9 1099.6h0M675.4 1099.6h0M678.2 1099.6h0M681.2 1099.6h0M683.8 1099.6h0M686.6 1099.6h0M697.2 1099.6h0M715.3 1099.6h0M723.7 1099.6h0M762.6 1099.6h0M768.6 1099.6h0M784.4 1099.6h0M847.1 1099.6h0M883.9 1099.6h0M895.3 1099.6h0M925.4 1099.6h0M950.4 1099.6h0M954.8 1099.6h0M969.5 1099.6h0M995.7 1099.6h0M998.8 1099.6h0M1003.6 1099.6h0M1006.7 1099.6h0M1035.5 1099.6h0M1041.1 1099.6h0M1046.5 1099.6h0M690 1095.2h0M693 1095.2h0M695.7 1095.2h0M698.7 1095.2h0M701.6 1095.2h0M704.7 1095.2h0M707.8 1095.2h0M710.4 1095.2h0M713.6 1095.2h0M716.4 1095.2h0M719.1 1095.2h0M722.3 1095.2h0M725.3 1095.2h0M727.9 1095.2h0M730.9 1095.2h0M734.1 1095.2h0M740.3 1095.2h0M746.8 1095.2h0M754.5 1095.2h0M757.3 1095.2h0M760 1095.2h0M763.1 1095.2h0M765.7 1095.2h0M768.3 1095.2h0M778.9 1095.2h0M788.1 1095.2h0M794.9 1095.2h0M700.6 1090.9h0M781.2 1090.9h0M1013.3 1090.9h0M721.1 1086.6h0M741.8 1086.6h0M745.4 1086.6h0M755.5 1086.6h0M758.2 1086.6h0M760.9 1086.6h0M764 1086.6h0M847.4 1086.6h0M785 1082.3h0M732.9 1078h0M739.7 1078h0M742.8 1078h0M745.9 1078h0M749.1 1078h0M690 1073.7h0M693.2 1073.7h0M696.7 1073.7h0M699.7 1073.7h0M703 1073.7h0M706.2 1073.7h0M713.1 1073.7h0M716.8 1073.7h0M720 1073.7h0M754.7 1073.7h0M757.7 1073.7h0M761 1073.7h0M764 1073.7h0M766.9 1073.7h0M770 1073.7h0M773.3 1073.7h0M776.3 1073.7h0M962.6 1073.7h0M965.3 1073.7h0M968.3 1073.7h0M970.8 1073.7h0M663.4 1069.4h0M684.1 1069.4h0M721.2 1069.4h0M730.3 1069.4h0M733.3 1069.4h0M736.2 1069.4h0M739.2 1069.4h0M742.3 1069.4h0M745.5 1069.4h0M748.3 1069.4h0M751.5 1069.4h0M754.4 1069.4h0M757.3 1069.4h0M760.2 1069.4h0M763.2 1069.4h0M766.3 1069.4h0M769 1069.4h0M772 1069.4h0M775 1069.4h0M945.2 1069.4h0M948.4 1069.4h0M951.1 1069.4h0M953.8 1069.4h0M956.3 1069.4h0M959.5 1069.4h0M996.2 1069.4h0M998.8 1069.4h0M1001.4 1069.4h0M1003.9 1069.4h0M734.1 1065h0M736.6 1065h0M739.8 1065h0M742.9 1065h0M745.7 1065h0M749 1065h0M751.7 1065h0M754.6 1065h0M769.5 1065h0M846.6 1065h0M849.4 1065h0M851.8 1065h0M854.3 1065h0M1037.4 1065h0M686.5 1060.7h0M711 1060.7h0M714.1 1060.7h0M737.6 1060.7h0M740.7 1060.7h0M743.7 1060.7h0M746.8 1060.7h0M749.5 1060.7h0M752.5 1060.7h0M755.5 1060.7h0M758.3 1060.7h0M789.4 1060.7h0M792.2 1060.7h0M794.8 1060.7h0M798 1060.7h0M800.6 1060.7h0M826.2 1060.7h0M835.5 1060.7h0M838.6 1060.7h0M841.6 1060.7h0M844.9 1060.7h0M671.7 1056.4h0M675.1 1056.4h0M678.8 1056.4h0M682.2 1056.4h0M687.9 1056.4h0M694.9 1056.4h0M707.5 1056.4h0M714.4 1056.4h0M723.5 1056.4h0M726.5 1056.4h0M729.9 1056.4h0M733 1056.4h0M736.4 1056.4h0M739.4 1056.4h0M751.2 1056.4h0M754.2 1056.4h0M757.2 1056.4h0M760.6 1056.4h0M763.6 1056.4h0M766.5 1056.4h0M769.6 1056.4h0M850.1 1056.4h0M1031.2 1056.4h0M1050.4 1056.4h0M659.2 1052.1h0M666.5 1052.1h0M669.3 1052.1h0M672.5 1052.1h0M675.1 1052.1h0M677.9 1052.1h0M680.9 1052.1h0M683.8 1052.1h0M686.8 1052.1h0M689.4 1052.1h0M692.3 1052.1h0M698.3 1052.1h0M709.7 1052.1h0M712.8 1052.1h0M715.4 1052.1h0M718.4 1052.1h0M721.4 1052.1h0M724.3 1052.1h0M726.8 1052.1h0M730.1 1052.1h0M732.9 1052.1h0M735.8 1052.1h0M738.4 1052.1h0M741.5 1052.1h0M744.5 1052.1h0M751.3 1052.1h0M754.4 1052.1h0M757 1052.1h0M760.2 1052.1h0M763.3 1052.1h0M766.1 1052.1h0M769.3 1052.1h0M772.4 1052.1h0M775.4 1052.1h0M778.7 1052.1h0M781.6 1052.1h0M784.6 1052.1h0M793.6 1052.1h0M821.3 1052.1h0M826.1 1052.1h0M841.3 1052.1h0M844.1 1052.1h0M847.8 1052.1h0M850.8 1052.1h0M854.4 1052.1h0M910.1 1052.1h0M928.3 1052.1h0M947.5 1052.1h0M950.1 1052.1h0M952.5 1052.1h0M1003.4 1052.1h0M1032.7 1052.1h0M1035.8 1052.1h0M1038.5 1052.1h0M1041.5 1052.1h0M1044.4 1052.1h0M1047.2 1052.1h0M1050.4 1052.1h0M702.6 1047.8h0M707 1047.8h0M723.4 1047.8h0M745.2 1047.8h0M854.2 1047.8h0M886.4 1047.8h0M889.8 1047.8h0M892.5 1047.8h0M895.2 1047.8h0M898.4 1047.8h0M901.1 1047.8h0M904 1047.8h0M937.3 1047.8h0M940.7 1047.8h0M943.6 1047.8h0M947.3 1047.8h0M950.4 1047.8h0M953.5 1047.8h0M955.6 1047.8h0M975.2 1047.8h0M978 1047.8h0M980.9 1047.8h0M983.8 1047.8h0M987.1 1047.8h0M1017 1047.8h0M732.9 1043.5h0M745.6 1043.5h0M748.1 1043.5h0M751 1043.5h0M754 1043.5h0M756.4 1043.5h0M759.2 1043.5h0M762.4 1043.5h0M764.8 1043.5h0M781.2 1043.5h0M790.3 1043.5h0M795.9 1043.5h0M799.7 1043.5h0M802.9 1043.5h0M806.5 1043.5h0M809.7 1043.5h0M813.2 1043.5h0M820.1 1043.5h0M834.3 1043.5h0M837.1 1043.5h0M839.8 1043.5h0M842.8 1043.5h0M845.7 1043.5h0M848.5 1043.5h0M851.6 1043.5h0M854.2 1043.5h0M867.5 1043.5h0M872.2 1043.5h0M924.6 1043.5h0M960 1043.5h0M661.4 1039.2h0M677.6 1039.2h0M686.7 1039.2h0M692.2 1039.2h0M696 1039.2h0M711 1039.2h0M714.4 1039.2h0M718 1039.2h0M723.8 1039.2h0M728 1039.2h0M734.1 1039.2h0M737 1039.2h0M740.2 1039.2h0M743.3 1039.2h0M746.6 1039.2h0M749.4 1039.2h0M752.5 1039.2h0M755.6 1039.2h0M758.9 1039.2h0M761.7 1039.2h0M765 1039.2h0M770.4 1039.2h0M778.7 1039.2h0M791.7 1039.2h0M863.8 1039.2h0M876.3 1039.2h0M879.1 1039.2h0M896.5 1039.2h0M906.3 1039.2h0M932.7 1039.2h0M938.5 1039.2h0M945.3 1039.2h0M978.3 1039.2h0M983.8 1039.2h0M1025.9 1039.2h0M1029.1 1039.2h0M1032.3 1039.2h0M1035.4 1039.2h0M1047.8 1039.2h0M678.7 1034.8h0M683.1 1034.8h0M688 1034.8h0M690.3 1034.8h0M701.3 1034.8h0M707 1034.8h0M718.3 1034.8h0M745.2 1034.8h0M748.7 1034.8h0M751.6 1034.8h0M754.7 1034.8h0M776.5 1034.8h0M908.6 1034.8h0M927.9 1034.8h0M947.9 1034.8h0M966.5 1034.8h0M970.6 1034.8h0M981.2 1034.8h0M985.5 1034.8h0M1027.4 1034.8h0M1030.9 1034.8h0M1034.1 1034.8h0M1046.8 1034.8h0M694.7 1030.5h0M702.7 1030.5h0M707.4 1030.5h0M733.8 1030.5h0M745.5 1030.5h0M827.4 1030.5h0M845.8 1030.5h0M871.5 1030.5h0M888.9 1030.5h0M987.1 1030.5h0M1019.3 1030.5h0M1024.8 1030.5h0M1036.9 1030.5h0M1046.2 1030.5h0M1050.2 1030.5h0M736.4 1026.2h0M739.4 1026.2h0M742.9 1026.2h0M746.7 1026.2h0M749.9 1026.2h0M752.1 1026.2h0M809 1026.2h0M824.7 1026.2h0M950.2 1026.2h0M953.3 1026.2h0M984.5 1026.2h0M988 1026.2h0M1021.4 1026.2h0M1050.1 1026.2h0M674.7 1021.9h0M698.2 1021.9h0M739.6 1021.9h0M742.6 1021.9h0M745.5 1021.9h0M808.7 1021.9h0M850 1021.9h0M934 1021.9h0M937.4 1021.9h0M946.3 1021.9h0M951.1 1021.9h0M960.4 1021.9h0M963.8 1021.9h0M968.6 1021.9h0M996.6 1021.9h0M1003.1 1021.9h0M1045.5 1021.9h0M1050.3 1021.9h0M667.6 1017.6h0M670.7 1017.6h0M725.1 1017.6h0M730.4 1017.6h0M743.1 1017.6h0M753.6 1017.6h0M757.8 1017.6h0M850.4 1017.6h0M856.9 1017.6h0M1042.9 1017.6h0M696.5 1013.3h0M714.3 1013.3h0M717.2 1013.3h0M720.2 1013.3h0M725.1 1013.3h0M733.5 1013.3h0M736.2 1013.3h0M756.6 1013.3h0M771 1013.3h0M778.6 1013.3h0M784 1013.3h0M843.4 1013.3h0M928.1 1013.3h0M933.7 1013.3h0M939.7 1013.3h0M962.7 1013.3h0M989.6 1013.3h0M999 1013.3h0M1019.9 1013.3h0M1027.7 1013.3h0M1039.9 1013.3h0M681.8 1008.9h0M684.9 1008.9h0M689.1 1008.9h0M696.7 1008.9h0M763.7 1008.9h0M776.6 1008.9h0M832.5 1008.9h0M846.9 1008.9h0M881.1 1008.9h0M900.6 1008.9h0M944.1 1008.9h0M1005.3 1008.9h0M1033.5 1008.9h0M1043.6 1008.9h0M716.7 1004.6h0M757 1004.6h0M768.5 1004.6h0M677.4 1000.3h0M760 1000.3h0M1026.4 1000.3h0M695.7 996h0M698.3 996h0M715.7 996h0M722.4 996h0M725.6 996h0M728.4 996h0M735.8 996h0M745.3 996h0M926.4 996h0M1050.5 996h0M711.9 991.7h0M715.6 991.7h0M718.6 991.7h0M771.1 991.7h0M793.9 991.7h0" stroke="#e07d20" stroke-width="4.3" stroke-linecap="round" fill="none" clip-path="url(#clip_orange_d)"/>
<path d="M657.6 1125.2L659 1125.2L661.1 1125.1L663.5 1125L665.8 1124.8L667.7 1124.5L669.2 1124.1L670.4 1123.6L671.5 1123.1L672.5 1122.4L673.6 1121.7L674.8 1120.9L676 1120.1L677.2 1119.1L678.3 1118.1L679.5 1117L680.7 1115.6L681.8 1114L683 1112.3L684.2 1110.9L685.4 1109.9L686.8 1109.5L688.3 1109.5L689.8 1109.7L691.2 1109.9L692.5 1109.9L693.6 1109.7L694.6 1109.5L695.5 1109.1L696.4 1108.5L697.2 1107.5L698 1106.2L698.7 1104.5L699.4 1102.5L700.1 1100.4L700.8 1098.1L701.5 1095.6L702.1 1092.9L702.8 1090L703.5 1087L704.3 1083.9L705.2 1080.8L706.1 1077.5L707.1 1074.1L708.1 1070.7L709 1067.4L710 1064.1L710.9 1060.9L711.9 1057.6L712.8 1054.3L713.8 1050.9L714.7 1047.1L715.7 1043.2L716.6 1039.3L717.5 1035.5L718.5 1032L719.4 1028.8L720.4 1025.8L721.3 1023L722.3 1020.3L723.2 1017.8L724.1 1015.3L725 1012.9L726 1010.7L726.9 1008.8L727.9 1007.2L729 1005.9L730.2 1005.1L731.3 1004.5L732.6 1004L733.8 1003.6L735.2 1003.4L736.8 1003.3L738.3 1003.4L739.7 1003.4L740.9 1003.1L741.9 1002.8L742.6 1002.3L743.2 1001.7L743.8 1001L744.5 1000.1L745.1 998.8L745.8 997.2L746.4 995.6L747.2 994.1L748 993L749.1 992.3L750.3 991.8L751.5 991.6L752.8 991.6L753.9 991.8L755 992.3L755.9 993L756.9 994L757.8 995.2L758.6 996.5L759.4 998.1L760.1 999.9L760.8 1001.8L761.5 1003.9L762.2 1006L762.9 1008.1L763.6 1010.3L764.3 1012.6L765 1015.1L765.7 1017.8L766.4 1020.8L767.1 1023.9L767.9 1027.3L768.6 1030.8L769.3 1034.3L770 1037.9L770.7 1041.6L771.4 1045.4L772.1 1049.2L772.8 1053.2L773.5 1057.4L774.2 1061.7L774.9 1066L775.6 1070.3L776.4 1074.5L777.1 1078.4L777.8 1082.3L778.5 1086.1L779.2 1089.8L779.9 1093.4L780.6 1096.9L781.3 1100.3L782 1103.6L782.7 1106.8L783.4 1109.9L784.1 1112.9L784.8 1115.9L785.5 1118.8L786.2 1121.5L787 1124.1L787.8 1126.5L788.7 1128.8L789.6 1131L790.6 1132.9L791.7 1134.7L793 1136.2L794.4 1137.6L795.8 1138.7L797.3 1139.7L798.8 1140.6L800.2 1141.3L801.6 1141.7L803 1142.1L804.5 1142.5L805.9 1143L807.3 1143.6L808.7 1144.3L810.1 1145L811.5 1145.8L813 1146.5L814.4 1147.2L815.7 1148L817.1 1148.7L818.6 1149.4L820 1150L821.7 1150.7L823.4 1151.4L825.2 1151.9L826.9 1152.3L828.3 1152.4L829.5 1152.1L830.4 1151.6L831.2 1150.8L832.1 1149.9L833 1148.9L834.1 1147.6L835.3 1146.1L836.4 1144.4L837.7 1143L838.9 1141.8L840.3 1140.9L841.7 1140.3L843.1 1139.9L844.6 1139.6L846 1139.4L847.4 1139.4L848.9 1139.6L850.3 1140L851.7 1140.3L853.1 1140.6L854.5 1140.8L855.9 1141L857.4 1141.2L858.8 1141.5L860.2 1141.8L861.6 1142.2L862.9 1142.8L864.3 1143.3L865.7 1143.8L867.3 1144.1L869.1 1144.3L871.1 1144.4L873.1 1144.4L875 1144.3L876.7 1144.1L878.1 1143.7L879.3 1143.1L880.4 1142.4L881.5 1141.9L882.6 1141.8L883.8 1142.1L884.9 1142.8L886.1 1143.7L887.3 1144.6L888.5 1145.3L889.8 1145.9L891.2 1146.5L892.6 1147.1L894 1147.5L895.6 1147.7L897.4 1147.6L899.3 1147.3L901.3 1146.9L903.3 1146.6L905.1 1146.5L906.6 1146.8L908.1 1147.4L909.4 1148L910.8 1148.6L912.2 1148.9L913.6 1148.9L915 1148.8L916.4 1148.5L917.8 1148.1L919.2 1147.7L920.7 1147.2L922.2 1146.7L923.7 1146L925.1 1145.2L926.3 1144.1L927.4 1142.8L928.4 1141.3L929.3 1139.7L930.1 1137.8L931 1135.9L932 1133.7L932.8 1131.2L933.7 1128.7L934.7 1126.3L935.8 1124.1L937 1122.1L938.4 1120.2L939.9 1118.4L941.4 1116.9L942.9 1115.8L944.3 1115.1L945.7 1114.6L947.1 1114.5L948.5 1114.5L949.9 1114.6L951.4 1114.8L952.8 1115.2L954.2 1115.7L955.6 1116.3L957 1117L958.4 1117.8L959.9 1118.8L961.3 1119.9L962.7 1120.9L964.1 1121.7L965.5 1122.3L966.8 1122.9L968.2 1123.3L969.6 1123.7L971.2 1124.1L973 1124.3L974.9 1124.5L976.9 1124.7L978.9 1124.9L980.6 1125.2L982.2 1125.8L983.6 1126.6L985 1127.3L986.4 1128.1L987.7 1128.8L989.1 1129.3L990.6 1129.8L992 1130.2L993.4 1130.6L994.8 1131.2L996.2 1131.8L997.5 1132.5L998.9 1133.3L1000.3 1134L1001.9 1134.7L1003.7 1135.4L1005.6 1136.1L1007.6 1136.8L1009.6 1137.4L1011.3 1137.8L1012.9 1137.9L1014.2 1137.8L1015.5 1137.6L1016.9 1137.4L1018.4 1137.1L1020.2 1136.7L1022.2 1136.4L1024.2 1136L1026.1 1135.4L1027.9 1134.7L1029.5 1133.7L1030.9 1132.6L1032.3 1131.3L1033.7 1130L1035 1128.8L1036.2 1127.5L1037.2 1126.1L1038.3 1124.7L1039.4 1123.6L1040.9 1122.9L1042.8 1122.8L1045.2 1123.1L1047.6 1123.6L1049.7 1124.2L1051.1 1124.5" stroke="#f7831d" stroke-width="7.3" stroke-linecap="round" stroke-linejoin="round" fill="none" clip-path="url(#clip_orange_d)"/>
<path d="M657.6 986.7V1164.2H1051.6V986.7" stroke="#d4842f" stroke-width="1.7" fill="none"/>
<path d="M745.2 1164.2V1159.2M854.6 1164.2V1159.2M964 1164.2V1159.2M657.6 1082.3H662.6M657.6 996H662.6M1051.6 1030.2H1046.6" stroke="#d4842f" stroke-width="1.5" fill="none"/>
<g fill="#d4842f" font-size="31"><text x="745.2" y="1202.2" text-anchor="middle">-100</text><text x="854.6" y="1202.2" text-anchor="middle">0</text><text x="964" y="1202.2" text-anchor="middle">100</text><text x="651.1" y="1094.8" text-anchor="end">20</text><text x="651.1" y="1008.5" text-anchor="end">40</text><text x="1058.6" y="1040.9">10</text><text x="1058.6" y="1174.9">0</text></g>
<clipPath id="hclip_d"><rect x="1212.6" y="967.2" width="394.5" height="217.1"/></clipPath>
<path d="M1227 1164.3H1255V1156.5H1283.1V1079.6H1311.2V1067H1339.3V1009.5H1367.5V1009H1395.5V1030H1423.6V1042.8H1451.8V1055.9H1479.8V1069.5H1508V1099H1536V1126.3H1564.2V1108.6H1592.2V1123.2" stroke="#0a0af0" stroke-width="6.3" stroke-linejoin="miter" stroke-linecap="butt" fill="none" clip-path="url(#hclip_d)"/>
<path d="M1227 1163.1H1255V1152.2H1283.1V1107.4H1311.2V1059.8H1339.3V1017.9H1367.5V1024.5H1395.5V987.7H1423.6V1048.9H1451.8V1048.9H1479.8V1069.9H1508V1090.5H1536V1111.1H1564.2V1128H1592.2V1136.5" stroke="#f7821c" stroke-width="6.3" stroke-linejoin="miter" stroke-linecap="butt" fill="none" clip-path="url(#hclip_d)"/>
<path d="M1212.6 987.2V1164.3H1607.1" stroke="#1a1a1a" stroke-width="1.5" fill="none"/>
<path d="M1325.3 1164.3V1159.3M1437.7 1164.3V1159.3M1550.1 1164.3V1159.3M1212.6 1048.9H1217.6" stroke="#1a1a1a" stroke-width="1.4" fill="none"/>
<g fill="#111" font-size="31"><text x="1212.9" y="1202.3" text-anchor="middle">-2</text><text x="1325.3" y="1202.3" text-anchor="middle">0</text><text x="1437.7" y="1202.3" text-anchor="middle">2</text><text x="1550.1" y="1202.3" text-anchor="middle">4</text><text x="1206.6" y="1175" text-anchor="end">0</text><text x="1206.6" y="1059.6" text-anchor="end">10</text></g>
<path d="M1520.5 996.1H1542.3" stroke="#0a0af0" stroke-width="7" fill="none"/>
<path d="M1520.5 1043.3H1542.3" stroke="#f7821c" stroke-width="7" fill="none"/>
<g fill="#111" font-size="36"><text x="1551.2" y="1009.9">Void post-reward</text><text x="1551.2" y="1057.1">Eq. Subsample</text></g>
<clipPath id="clip_blue_e"><rect x="103.2" y="1300.7" width="393.6" height="177.5"/></clipPath>
<path d="M105.2 1478.3H253.4M307 1478.3H349M351.2 1478.3H478.2M488.7 1478.3H494.8M254.8 1474H366.1M381.6 1474H494.8M105.2 1469.7H211.9M223.8 1469.7H366.1M388.9 1469.7H494.8M105.2 1465.3H143.5M159.2 1465.3H273.4M291.4 1465.3H375.7M378.1 1465.3H418.4M432.4 1465.3H494.8M105.2 1461H138.3M145.8 1461H200M213 1461H322.8M336.2 1461H371.8M454.4 1461H494.8M105.2 1456.7H165.8M268.6 1456.7H329.3M347.1 1456.7H434.3M105.2 1452.4H185.9M205.1 1452.4H270.5M289.1 1452.4H443.9M465.6 1452.4H494.8M279.5 1448.1H330.5M352.6 1448.1H451.1M460.2 1448.1H494.8M105.2 1443.8H219.1M224.8 1443.8H291.4M306.7 1443.8H393.5M484.8 1443.8H494.8M105.2 1439.5H218.2M230.3 1439.5H310.4M318.8 1439.5H419M432.9 1439.5H494.8M224.7 1435.1H245.4M256.9 1435.1H330.6M354.2 1435.1H494.8M105.2 1430.8H258.5M327.4 1430.8H430.7M452.6 1430.8H494.8M105.2 1426.5H237.4M398.3 1426.5H494.7M156.8 1422.2H197.7M215 1422.2H369.4M381.9 1422.2H494.8M105.2 1417.9H255.2M258.8 1417.9H367.3M105.2 1413.6H236M243.6 1413.6H335.9M351 1413.6H465.8M484 1413.6H494.8M105.2 1409.2H259.1M280 1409.2H307.1M309.3 1409.2H418.9M105.2 1404.9H128M142.5 1404.9H232.1M237.7 1404.9H292.2M302.3 1404.9H341.3M426.5 1404.9H474.8M105.2 1400.6H236.2M261 1400.6H373.8M395.5 1400.6H417.8M420.4 1400.6H494.8M105.2 1396.3H236.5M255.6 1396.3H303.1M470.6 1396.3H494.8M105.2 1392H226.7M237.9 1392H324.8M347.4 1392H494.8M105.2 1387.7H134.6M150.8 1387.7H190.2M260.2 1387.7H304.4M308.2 1387.7H374.1M396.7 1387.7H486.1M105.2 1383.4H179.5M186.4 1383.4H237.9M262.5 1383.4H296.7M286.5 1379H345.8M361.2 1379H441.5M453.7 1379H494.8M202.6 1374.7H312.7M323 1374.7H400M424.9 1374.7H462.4M105.2 1370.4H211.3M233.9 1370.4H255.1M442.7 1370.4H480.6M224.4 1366.1H276.7M281 1366.1H428.3M105.2 1361.8H178.1M191.5 1361.8H301.3M396.8 1361.8H455.4M105.2 1357.5H129.6M149.6 1357.5H216.3M324.1 1357.5H375M433.7 1357.5H457.3M105.2 1353.2H157.9M330.6 1353.2H442.7M459.7 1353.2H494.8M105.2 1348.8H230.3M239.5 1348.8H282M298 1348.8H374.6M384.5 1348.8H428.6M448.5 1348.8H474.6M105.2 1344.5H218.4M222.1 1344.5H293.3M396.1 1344.5H494.8M105.2 1340.2H162.3M184.3 1340.2H266.7M390.1 1340.2H488.4M105.2 1335.9H213.9M310.6 1335.9H377.9M399.5 1335.9H494.8M105.2 1331.6H142.6M165 1331.6H302.9M439.7 1331.6H494.8M142.6 1327.3H196.9M259.5 1327.3H314.5M333.4 1327.3H435.4M453.4 1327.3H494.7M105.2 1322.9H228.2M238.6 1322.9H317M340.1 1322.9H371.5M389.8 1322.9H435.2M451.1 1322.9H494.8M105.2 1318.6H205M211.3 1318.6H267.6M274.7 1318.6H388.3M403.4 1318.6H488.6M105.2 1314.3H154.2M314.1 1314.3H381.5M391.2 1314.3H494.8M105.2 1310H226.4M241.9 1310H285M305.4 1310H443.6M453.9 1310H494.8M105.2 1305.7H254.1M348.7 1305.7H469.1M489 1305.7H494.8" stroke="#f0f0f0" stroke-width="1" fill="none"/>
<path d="M183 1478.3h0M186.4 1478.3h0M189.9 1478.3h0M212.8 1478.3h0M216.2 1478.3h0M219.1 1478.3h0M222.4 1478.3h0M257.4 1478.3h0M128.3 1474h0M146.3 1474h0M149 1474h0M152.2 1474h0M155.2 1474h0M158.2 1474h0M161.2 1474h0M164.5 1474h0M167.5 1474h0M183 1474h0M186.3 1474h0M189.3 1474h0M192.3 1474h0M197.8 1474h0M200.7 1474h0M203.9 1474h0M206.4 1474h0M471.2 1474h0M490.5 1474h0M139.7 1469.7h0M161.7 1469.7h0M176.3 1469.7h0M185.4 1469.7h0M209.6 1469.7h0M212.3 1469.7h0M215.1 1469.7h0M226.9 1469.7h0M159.4 1465.3h0M169.8 1465.3h0M189.7 1465.3h0M208.1 1465.3h0M219.2 1465.3h0M351.7 1465.3h0M438.1 1465.3h0M147.4 1461h0M165.9 1461h0M175.9 1461h0M178.8 1461h0M181.7 1461h0M184.7 1461h0M451 1461h0M458.9 1461h0M465.6 1461h0M197.7 1456.7h0M239.4 1456.7h0M247.5 1456.7h0M317.5 1456.7h0M485.4 1456.7h0M488.8 1456.7h0M159.9 1452.4h0M163.1 1452.4h0M165.8 1452.4h0M168.9 1452.4h0M184.5 1452.4h0M187.3 1452.4h0M190.2 1452.4h0M193.6 1452.4h0M196.7 1452.4h0M199.5 1452.4h0M202.4 1452.4h0M408.1 1452.4h0M104.3 1448.1h0M171.6 1448.1h0M174.7 1448.1h0M177.9 1448.1h0M180.9 1448.1h0M184 1448.1h0M187.3 1448.1h0M190.6 1448.1h0M193.6 1448.1h0M196.8 1448.1h0M211.1 1448.1h0M224 1448.1h0M240.9 1448.1h0M358.1 1448.1h0M415.4 1448.1h0M489.1 1448.1h0M492.3 1448.1h0M495.7 1448.1h0M140.4 1443.8h0M143 1443.8h0M145.7 1443.8h0M148.6 1443.8h0M159 1443.8h0M161.9 1443.8h0M164.9 1443.8h0M167.8 1443.8h0M336.7 1443.8h0M107.1 1439.5h0M122.9 1439.5h0M128.9 1439.5h0M132.2 1439.5h0M135.6 1439.5h0M149.6 1439.5h0M152.4 1439.5h0M155.5 1439.5h0M159 1439.5h0M161.8 1439.5h0M164.8 1439.5h0M168.1 1439.5h0M170.9 1439.5h0M174.3 1439.5h0M177.1 1439.5h0M180.4 1439.5h0M183.5 1439.5h0M186.2 1439.5h0M189.2 1439.5h0M199.3 1439.5h0M202 1439.5h0M205 1439.5h0M207.7 1439.5h0M210.8 1439.5h0M214.1 1439.5h0M217.1 1439.5h0M219.8 1439.5h0M229.1 1439.5h0M359.1 1439.5h0M361.9 1439.5h0M364 1439.5h0M413.6 1439.5h0M463.2 1439.5h0M466.9 1439.5h0M479.8 1439.5h0M483.2 1439.5h0M114.6 1435.1h0M173.6 1435.1h0M195.2 1435.1h0M202.4 1435.1h0M237 1435.1h0M125.1 1430.8h0M176.6 1430.8h0M204.2 1430.8h0M104.5 1426.5h0M118.7 1426.5h0M153.9 1426.5h0M157.4 1426.5h0M160.4 1426.5h0M163.3 1426.5h0M166.3 1426.5h0M169.7 1426.5h0M172.7 1426.5h0M184 1426.5h0M192.4 1426.5h0M198 1426.5h0M200.6 1426.5h0M203.9 1426.5h0M206.5 1426.5h0M209.3 1426.5h0M212.6 1426.5h0M215.3 1426.5h0M218.1 1426.5h0M221 1426.5h0M233.7 1426.5h0M330.5 1426.5h0M151.6 1422.2h0M154.8 1422.2h0M157.5 1422.2h0M160.3 1422.2h0M139.1 1417.9h0M169.1 1417.9h0M171.7 1417.9h0M174.6 1417.9h0M177.4 1417.9h0M180.1 1417.9h0M183.1 1417.9h0M185.7 1417.9h0M188.7 1417.9h0M195.5 1417.9h0M202.4 1417.9h0M205.5 1417.9h0M208.4 1417.9h0M322.9 1417.9h0M129.3 1413.6h0M132.3 1413.6h0M169.1 1413.6h0M213.9 1413.6h0M135.6 1409.2h0M138.5 1409.2h0M141.4 1409.2h0M144.2 1409.2h0M147.3 1409.2h0M150.5 1409.2h0M153 1409.2h0M155.9 1409.2h0M158.9 1409.2h0M162 1409.2h0M164.8 1409.2h0M167.9 1409.2h0M170.9 1409.2h0M173.7 1409.2h0M176.6 1409.2h0M179.7 1409.2h0M186.1 1409.2h0M192 1409.2h0M200.2 1409.2h0M203.2 1409.2h0M205.8 1409.2h0M208.5 1409.2h0M211.4 1409.2h0M213.9 1409.2h0M224.6 1409.2h0M233.4 1409.2h0M240.4 1409.2h0M146.3 1404.9h0M179.5 1404.9h0M226.8 1404.9h0M459.2 1404.9h0M187.7 1400.6h0M191.1 1400.6h0M201.3 1400.6h0M204.1 1400.6h0M206.6 1400.6h0M209.6 1400.6h0M293.2 1400.6h0M415.6 1400.6h0M178.4 1392h0M185.4 1392h0M188.7 1392h0M191.7 1392h0M194.9 1392h0M198.1 1392h0M201.2 1392h0M204.7 1392h0M210.8 1392h0M158.9 1387.7h0M162.5 1387.7h0M165.7 1387.7h0M389.6 1387.7h0M393.3 1387.7h0M429.8 1387.7h0M457.9 1387.7h0M461.5 1387.7h0M464.5 1387.7h0M468.1 1387.7h0M109.2 1383.4h0M129.9 1383.4h0M166.7 1383.4h0M176.2 1383.4h0M179.2 1383.4h0M182.2 1383.4h0M184.9 1383.4h0M199.7 1383.4h0M202.9 1383.4h0M206 1383.4h0M208.7 1383.4h0M211.6 1383.4h0M214.7 1383.4h0M217.7 1383.4h0M220.5 1383.4h0M254.5 1383.4h0M401.8 1383.4h0M405 1383.4h0M413.7 1383.4h0M417.1 1383.4h0M467.8 1383.4h0M300.1 1379h0M315.7 1379h0M450.9 1379h0M483.2 1379h0M132 1374.7h0M271.6 1374.7h0M117.5 1370.4h0M120.5 1370.4h0M124.1 1370.4h0M127.9 1370.4h0M133.4 1370.4h0M140.5 1370.4h0M153 1370.4h0M159.8 1370.4h0M169.3 1370.4h0M172.3 1370.4h0M175.8 1370.4h0M178.9 1370.4h0M182.3 1370.4h0M185.3 1370.4h0M196.9 1370.4h0M199.6 1370.4h0M203 1370.4h0M205.8 1370.4h0M208.9 1370.4h0M212.3 1370.4h0M215.1 1370.4h0M295.7 1370.4h0M476.9 1370.4h0M496.1 1370.4h0M104.4 1366.1h0M123.4 1366.1h0M126.6 1366.1h0M129.5 1366.1h0M132.1 1366.1h0M135.2 1366.1h0M137.8 1366.1h0M155.1 1366.1h0M158 1366.1h0M161 1366.1h0M164 1366.1h0M197 1366.1h0M199.8 1366.1h0M202.8 1366.1h0M205.9 1366.1h0M208.8 1366.1h0M212 1366.1h0M215.1 1366.1h0M218.1 1366.1h0M393.3 1366.1h0M395.8 1366.1h0M397.7 1366.1h0M489.9 1366.1h0M493 1366.1h0M495.8 1366.1h0M148.3 1361.8h0M152.7 1361.8h0M169.3 1361.8h0M191 1361.8h0M300.1 1361.8h0M305.6 1361.8h0M308.7 1361.8h0M311.6 1361.8h0M314.3 1361.8h0M317.3 1361.8h0M320.2 1361.8h0M323.1 1361.8h0M332 1361.8h0M335.1 1361.8h0M337.8 1361.8h0M340.9 1361.8h0M343.7 1361.8h0M346.7 1361.8h0M349.3 1361.8h0M358.6 1361.8h0M365.6 1361.8h0M371.5 1361.8h0M376.1 1361.8h0M382.8 1361.8h0M386.4 1361.8h0M389.2 1361.8h0M392.7 1361.8h0M396 1361.8h0M399.3 1361.8h0M401.2 1361.8h0M421 1361.8h0M423.8 1361.8h0M426.5 1361.8h0M429.6 1361.8h0M432.7 1361.8h0M462.4 1361.8h0M178.6 1357.5h0M190.8 1357.5h0M194 1357.5h0M196.5 1357.5h0M199.3 1357.5h0M202 1357.5h0M205.2 1357.5h0M207.9 1357.5h0M210.6 1357.5h0M226.7 1357.5h0M236.1 1357.5h0M242 1357.5h0M245.4 1357.5h0M248.4 1357.5h0M252 1357.5h0M255.4 1357.5h0M258.9 1357.5h0M265.9 1357.5h0M279.6 1357.5h0M282.4 1357.5h0M285.7 1357.5h0M288.2 1357.5h0M291.5 1357.5h0M294.2 1357.5h0M297.1 1357.5h0M300.2 1357.5h0M313.4 1357.5h0M317.7 1357.5h0M370.1 1357.5h0M405.4 1357.5h0M107 1353.2h0M123.2 1353.2h0M132.2 1353.2h0M169.3 1353.2h0M173.8 1353.2h0M179.6 1353.2h0M182.4 1353.2h0M185.6 1353.2h0M188.8 1353.2h0M192 1353.2h0M195 1353.2h0M198.3 1353.2h0M201.4 1353.2h0M216.1 1353.2h0M237 1353.2h0M309.3 1353.2h0M322 1353.2h0M324.8 1353.2h0M341.9 1353.2h0M351.8 1353.2h0M391.3 1353.2h0M429.4 1353.2h0M471.8 1353.2h0M474.5 1353.2h0M478 1353.2h0M480.8 1353.2h0M104.8 1348.8h0M124 1348.8h0M128.8 1348.8h0M133.2 1348.8h0M135.8 1348.8h0M191.1 1348.8h0M194.3 1348.8h0M197 1348.8h0M200.1 1348.8h0M203.2 1348.8h0M206.4 1348.8h0M209.2 1348.8h0M221.9 1348.8h0M354.2 1348.8h0M362.9 1348.8h0M412.4 1348.8h0M416.6 1348.8h0M140.4 1344.5h0M148.5 1344.5h0M153.2 1344.5h0M179.7 1344.5h0M191 1344.5h0M219.8 1344.5h0M241.8 1344.5h0M263.4 1344.5h0M272.6 1344.5h0M291.1 1344.5h0M317.1 1344.5h0M334.7 1344.5h0M432.4 1344.5h0M464.7 1344.5h0M470.7 1344.5h0M482.5 1344.5h0M491.6 1344.5h0M495.8 1344.5h0M181.7 1340.2h0M185.3 1340.2h0M188.7 1340.2h0M192.2 1340.2h0M205.8 1340.2h0M209.4 1340.2h0M213 1340.2h0M222 1340.2h0M225.5 1340.2h0M233 1340.2h0M238.3 1340.2h0M254.6 1340.2h0M430.1 1340.2h0M433.7 1340.2h0M442.2 1340.2h0M495.7 1340.2h0M143.9 1335.9h0M185.2 1335.9h0M188.2 1335.9h0M190.8 1335.9h0M406.1 1335.9h0M409.4 1335.9h0M414.1 1335.9h0M113.5 1331.6h0M116 1331.6h0M170.5 1331.6h0M176 1331.6h0M219.7 1331.6h0M230.4 1331.6h0M233.7 1331.6h0M264.9 1331.6h0M295.9 1331.6h0M302.2 1331.6h0M333.5 1331.6h0M336.7 1331.6h0M350.5 1331.6h0M355.1 1331.6h0M404.8 1331.6h0M488.4 1331.6h0M142 1327.3h0M159.9 1327.3h0M163 1327.3h0M165.6 1327.3h0M170.9 1327.3h0M178.7 1327.3h0M182 1327.3h0M202.2 1327.3h0M216.1 1327.3h0M224.4 1327.3h0M229.7 1327.3h0M288.7 1327.3h0M373.9 1327.3h0M379.6 1327.3h0M385.5 1327.3h0M408.4 1327.3h0M435.1 1327.3h0M444.4 1327.3h0M465.3 1327.3h0M473.3 1327.3h0M485.6 1327.3h0M298.3 1322.9h0M300.5 1322.9h0M346.3 1322.9h0M162.1 1318.6h0M202.4 1318.6h0M213.9 1318.6h0M123.2 1314.3h0M141.7 1310h0M143.8 1310h0M160.9 1310h0M168 1310h0M171.6 1310h0M173.6 1310h0M181 1310h0M191.1 1310h0M371.8 1310h0M495.7 1310h0M113.2 1305.7h0M130.6 1305.7h0M146.6 1305.7h0M157.7 1305.7h0M161.1 1305.7h0M163.8 1305.7h0M172.1 1305.7h0M174.8 1305.7h0M184.5 1305.7h0M188.2 1305.7h0M211.3 1305.7h0M217.1 1305.7h0M239.2 1305.7h0M263.7 1305.7h0M274.1 1305.7h0M282.7 1305.7h0M293.7 1305.7h0M297.1 1305.7h0M301.8 1305.7h0M378.3 1305.7h0" stroke="#1411b4" stroke-width="4.3" stroke-linecap="round" fill="none" clip-path="url(#clip_blue_e)"/>
<path d="M103.2 1445.2L104 1444.4L105.1 1443.3L106.4 1442.1L107.8 1440.7L109.2 1439.2L110.5 1437.7L111.9 1436.1L113.4 1434.4L114.8 1432.7L116.3 1431L117.7 1429.3L119.1 1427.6L120.6 1425.9L122 1424.2L123.3 1422.7L124.6 1421.3L125.8 1419.8L127 1418.5L128.2 1417.4L129.2 1416.8L130.2 1416.7L131.2 1417L132.1 1417.7L133 1418.4L134 1419.2L135.1 1420.1L136.3 1421.3L137.5 1422.6L138.7 1423.5L139.9 1423.9L140.9 1423.6L141.8 1422.9L142.8 1421.9L143.7 1420.6L144.6 1419.2L145.5 1417.7L146.5 1416L147.4 1414.1L148.4 1412L149.3 1409.7L150.3 1407.2L151.2 1404.5L152.2 1401.6L153.1 1398.6L154 1395.6L155 1392.4L155.9 1389.1L156.9 1385.7L157.8 1382.4L158.8 1379L159.7 1375.7L160.7 1372.3L161.6 1368.9L162.5 1365.6L163.5 1362.5L164.4 1359.4L165.4 1356.4L166.3 1353.5L167.3 1350.7L168.2 1348.3L169.1 1346.3L170 1344.5L171 1343L171.9 1341.5L172.9 1340.1L174 1338.5L175.2 1337.1L176.4 1335.7L177.6 1334.3L178.8 1333L180 1331.7L181.3 1330.6L182.5 1329.5L183.6 1328.3L184.7 1327.1L185.8 1325.8L186.8 1324.4L187.7 1323L188.6 1321.6L189.5 1320L190.3 1318.1L191 1316.1L191.7 1314L192.3 1312.1L193 1310.5L193.7 1309.4L194.3 1308.6L194.9 1308L195.6 1307.5L196.6 1307L197.8 1306.5L199.2 1306.1L200.8 1305.8L202.3 1305.7L203.6 1305.8L204.8 1306.1L205.8 1306.5L206.7 1307.2L207.5 1308.1L208.4 1309.4L209.1 1311L209.9 1312.9L210.5 1315.1L211.2 1317.5L211.9 1320L212.6 1322.5L213.3 1325.2L214 1328L214.7 1331L215.4 1334.1L216.2 1337.6L216.9 1341.4L217.6 1345.3L218.3 1349.2L219 1353L219.7 1356.8L220.4 1360.6L221.1 1364.4L221.8 1368.2L222.5 1371.9L223.2 1375.7L224 1379.5L224.7 1383.3L225.4 1387.1L226.1 1390.8L226.8 1394.6L227.5 1398.5L228.2 1402.3L228.9 1406.1L229.6 1409.7L230.3 1413.3L230.9 1417L231.6 1420.4L232.3 1423.6L233.2 1426.3L234.2 1428.3L235.4 1429.7L236.6 1430.9L237.8 1432L239.1 1433.3L240.2 1434.9L241.4 1436.6L242.5 1438.2L243.7 1439.9L245 1441.6L246.3 1443.3L247.7 1445L249.1 1446.7L250.5 1448.4L252.1 1449.9L253.6 1451.3L255.2 1452.5L256.9 1453.7L258.6 1454.8L260.3 1455.8L262.2 1456.7L264.1 1457.5L266.1 1458.1L268 1458.6L269.8 1458.9L271.3 1458.9L272.8 1458.6L274.1 1458.2L275.5 1457.7L276.9 1457L278.3 1456L279.7 1454.7L281.1 1453.3L282.5 1452L283.9 1451.1L285.4 1450.4L286.8 1449.9L288.2 1449.6L289.6 1449.4L291 1449.4L292.4 1449.6L293.7 1450.1L295.1 1450.7L296.5 1451.3L298.1 1451.8L299.8 1452.1L301.7 1452.4L303.7 1452.7L305.6 1453L307.6 1453.4L309.5 1454.1L311.4 1455L313.3 1455.9L315.2 1456.6L317 1457L318.7 1456.8L320.4 1456.2L322 1455.5L323.6 1454.9L325.3 1454.6L326.9 1454.7L328.5 1455.1L330.1 1455.6L331.8 1456.1L333.5 1456.5L335.4 1456.6L337.3 1456.6L339.3 1456.6L341.2 1456.7L343 1457L344.6 1457.5L346 1458.2L347.3 1458.9L348.7 1459.7L350.1 1460.5L351.5 1461.3L352.9 1462.2L354.3 1463L355.7 1463.7L357.2 1464L358.5 1464L359.9 1463.7L361.2 1463.2L362.7 1462.6L364.2 1462.2L366 1461.9L368 1461.8L370 1461.6L371.9 1461.3L373.7 1460.5L375.2 1459.3L376.6 1457.6L378 1455.8L379.3 1453.9L380.8 1452.2L382.3 1450.7L384 1449.2L385.7 1447.7L387.4 1446.4L389 1445.2L390.7 1444L392.4 1443L394.1 1442.1L395.7 1441.4L397.3 1440.9L398.8 1440.6L400.2 1440.6L401.6 1440.7L403 1441.1L404.4 1441.6L405.8 1442.5L407.2 1443.8L408.6 1445.2L410.1 1446.5L411.5 1447.5L412.9 1448.3L414.3 1448.9L415.7 1449.4L417.1 1449.7L418.6 1449.9L420 1449.9L421.4 1449.8L422.8 1449.5L424.2 1449.1L425.6 1448.7L427.1 1448.1L428.5 1447.3L429.9 1446.4L431.3 1445.7L432.7 1445.2L434.1 1444.8L435.6 1444.6L437 1444.6L438.4 1444.7L439.8 1445.2L441.2 1446L442.6 1447.1L444.1 1448.4L445.5 1449.8L446.9 1451.1L448.3 1452.3L449.7 1453.6L451.2 1454.9L452.6 1456.1L454 1457L455.4 1457.6L456.8 1458.1L458.2 1458.3L459.7 1458.4L461.1 1458.1L462.5 1457.6L463.9 1456.7L465.3 1455.6L466.7 1454.5L468.2 1453.4L469.5 1452.5L470.9 1451.5L472.2 1450.5L473.7 1449.6L475.2 1448.7L476.9 1447.8L478.7 1446.9L480.6 1446L482.6 1445.4L484.7 1445.2L487.1 1445.5L489.9 1446.2L492.7 1447.2L495.1 1448.1L496.8 1448.7" stroke="#0808f2" stroke-width="7.3" stroke-linecap="round" stroke-linejoin="round" fill="none" clip-path="url(#clip_blue_e)"/>
<path d="M103.2 1300.7V1478.2H496.8V1300.7" stroke="#1410b4" stroke-width="1.7" fill="none"/>
<path d="M190.7 1478.2V1473.2M300 1478.2V1473.2M409.3 1478.2V1473.2M103.2 1396.3H108.2M103.2 1310H108.2M496.8 1338.4H491.8" stroke="#1410b4" stroke-width="1.5" fill="none"/>
<g fill="#1410b4" font-size="31"><text x="190.7" y="1516.2" text-anchor="middle">-100</text><text x="300" y="1516.2" text-anchor="middle">0</text><text x="409.3" y="1516.2" text-anchor="middle">100</text><text x="96.7" y="1408.8" text-anchor="end">20</text><text x="96.7" y="1322.5" text-anchor="end">40</text><text x="503.8" y="1349.1">10</text><text x="503.8" y="1488.9">0</text></g>
<clipPath id="clip_orange_e"><rect x="657.6" y="1300.7" width="394" height="177.5"/></clipPath>
<path d="M659.6 1478.3H747.6M770 1478.3H849.9M864.4 1478.3H1014.2M1026.8 1478.3H1049.6M837.4 1474H876.6M895.7 1474H966M983.1 1474H1003.2M1025.2 1474H1049.6M904.6 1469.7H952.7M971.5 1469.7H1049.6M659.6 1465.3H782.7M923.1 1465.3H1046M659.6 1461H786.5M803.8 1461H876.2M897.6 1461H963.4M966.9 1461H1046.4M659.6 1456.7H739.2M743.9 1456.7H832.7M856.7 1456.7H1008M1021.3 1456.7H1049.6M738.6 1452.4H794.2M802.4 1452.4H865.3M887.9 1452.4H915.8M659.6 1448.1H755.4M769.3 1448.1H863.2M659.6 1443.8H717.6M726.3 1443.8H825.4M838.5 1443.8H936.9M954.5 1443.8H1049.6M659.6 1439.5H753.4M775.3 1439.5H913.6M1020.7 1439.5H1049.6M659.6 1435.1H735.2M750.8 1435.1H877.3M899.5 1435.1H1004.6M1026.3 1435.1H1049.6M659.6 1430.8H796.1M808 1430.8H917.2M803 1426.5H928.8M943.7 1426.5H1047.2M659.6 1422.2H786.1M796.6 1422.2H856.1M862.8 1422.2H989.6M1001.5 1422.2H1049.6M659.6 1417.9H803.7M807.2 1417.9H870.4M943.3 1417.9H970.5M659.6 1413.6H706.6M719.1 1413.6H851.4M876.3 1413.6H943.9M1040.7 1413.6H1049.6M659.6 1409.2H811.9M879.3 1409.2H901.5M908.9 1409.2H1012.2M1018.7 1409.2H1049.6M659.6 1404.9H779M784.3 1404.9H869.3M977.8 1404.9H1027.5M1041.3 1404.9H1049.6M659.6 1400.6H698.6M712 1400.6H844.8M857.8 1400.6H929.2M944.2 1400.6H988.5M1006.9 1400.6H1049.6M707 1396.3H810.3M823.9 1396.3H905M928.9 1396.3H1049.6M659.6 1392H771.6M788.5 1392H933.2M936.1 1392H1040.8M659.6 1387.7H800.1M815.4 1387.7H848.2M852.4 1387.7H982.7M987.4 1387.7H1014M1035.2 1387.7H1049.6M781.2 1383.4H857.1M872.9 1383.4H1013.3M1032.3 1383.4H1049.6M659.6 1379H775.5M778.4 1379H926.3M659.6 1374.7H812.8M824.9 1374.7H967.8M990.9 1374.7H1049.6M659.6 1370.4H744.4M920.4 1370.4H941.8M947.2 1370.4H1037.9M659.6 1366.1H819.6M922.5 1366.1H1049.6M659.6 1361.8H692.4M770.2 1361.8H880.1M888.2 1361.8H1032.4M659.6 1357.5H795.1M812.3 1357.5H875.2M880.3 1357.5H1031M659.6 1353.2H753.1M756.2 1353.2H778.1M929.8 1353.2H1025.8M1038.5 1353.2H1049.6M659.6 1348.8H787.5M807.8 1348.8H967.5M977.9 1348.8H1049.6M659.6 1344.5H816.9M830.6 1344.5H860.1M878.2 1344.5H970.6M659.6 1340.2H761.3M964.8 1340.2H1049.6M659.6 1335.9H800.9M863.3 1335.9H979M1001 1335.9H1049.6M659.6 1331.6H692.3M704.5 1331.6H795M817.5 1331.6H951.8M955.3 1331.6H1049.6M659.6 1327.3H790M809.9 1327.3H937.7M1017.9 1327.3H1049.6M659.6 1322.9H755M775.5 1322.9H798.1M813.3 1322.9H916.6M937.8 1322.9H1028.3M1032.5 1322.9H1049.6M785.7 1318.6H857.2M860.9 1318.6H962.4M983.8 1318.6H1049.6M659.6 1314.3H716.4M729.4 1314.3H828.6M878.1 1314.3H933M944 1314.3H996.5M1017 1314.3H1049.6M913.2 1310H935.3M940.9 1310H988.5M1006.9 1310H1049.6M659.6 1305.7H718.8M731.4 1305.7H806.4M813 1305.7H927.9M951.4 1305.7H1049.6" stroke="#f0f0f0" stroke-width="1" fill="none"/>
<path d="M767.3 1478.3h0M770.4 1478.3h0M773.7 1478.3h0M776.7 1478.3h0M995.1 1478.3h0M700.3 1474h0M703.5 1474h0M706.8 1474h0M709.8 1474h0M713 1474h0M715.7 1474h0M718.8 1474h0M721.9 1474h0M724.9 1474h0M727.9 1474h0M731.2 1474h0M734.2 1474h0M737.4 1474h0M740.7 1474h0M743.7 1474h0M746.7 1474h0M752.2 1474h0M755.1 1474h0M758.3 1474h0M760.8 1474h0M764 1474h0M766.6 1474h0M769.6 1474h0M1025.5 1474h0M1045.3 1474h0M716.2 1469.7h0M739.8 1469.7h0M773.6 1465.3h0M906.2 1465.3h0M992.8 1465.3h0M710.9 1461h0M720.2 1461h0M742 1461h0M744.9 1461h0M748 1461h0M750.9 1461h0M974.7 1461h0M978.3 1461h0M981.6 1461h0M984.6 1461h0M987.8 1461h0M1013.2 1461h0M1019.6 1461h0M735.7 1456.7h0M752.3 1456.7h0M794 1456.7h0M801.9 1456.7h0M871.7 1456.7h0M883 1456.7h0M979.6 1456.7h0M1039.8 1456.7h0M1043.2 1456.7h0M750.9 1452.4h0M754.1 1452.4h0M756.7 1452.4h0M798.5 1452.4h0M802.3 1452.4h0M725.8 1448.1h0M728.8 1448.1h0M732.4 1448.1h0M735.6 1448.1h0M738.5 1448.1h0M741.5 1448.1h0M744.6 1448.1h0M748.1 1448.1h0M751.3 1448.1h0M765.7 1448.1h0M778.3 1448.1h0M795 1448.1h0M912.5 1448.1h0M969.6 1448.1h0M1043.5 1448.1h0M1046.8 1448.1h0M1050.3 1448.1h0M669 1443.8h0M694.9 1443.8h0M697.6 1443.8h0M700 1443.8h0M703 1443.8h0M713.3 1443.8h0M716.2 1443.8h0M719.2 1443.8h0M722.5 1443.8h0M743.1 1443.8h0M795.1 1443.8h0M891.5 1443.8h0M903 1443.8h0M1003.1 1443.8h0M661.3 1439.5h0M677.3 1439.5h0M716 1439.5h0M719.5 1439.5h0M722.3 1439.5h0M725.5 1439.5h0M728.4 1439.5h0M731.4 1439.5h0M734.8 1439.5h0M737.6 1439.5h0M740.6 1439.5h0M743.9 1439.5h0M783.4 1439.5h0M913.7 1439.5h0M916.2 1439.5h0M918.2 1439.5h0M968 1439.5h0M1034 1439.5h0M1037.7 1439.5h0M669.2 1435.1h0M675.9 1435.1h0M728.1 1435.1h0M749.6 1435.1h0M756.9 1435.1h0M769 1435.1h0M791.4 1435.1h0M844.9 1435.1h0M673.1 1426.5h0M721.1 1426.5h0M723.9 1426.5h0M727.1 1426.5h0M738.3 1426.5h0M752.5 1426.5h0M755.3 1426.5h0M758.2 1426.5h0M761.1 1426.5h0M763.7 1426.5h0M766.8 1426.5h0M769.6 1426.5h0M772.4 1426.5h0M787.9 1426.5h0M693.7 1422.2h0M706.1 1422.2h0M709 1422.2h0M711.9 1422.2h0M714.8 1422.2h0M717.7 1422.2h0M720.5 1422.2h0M723.8 1422.2h0M726.2 1422.2h0M729.4 1422.2h0M735.2 1422.2h0M738.5 1422.2h0M741.9 1422.2h0M745.6 1422.2h0M780.1 1422.2h0M939.5 1422.2h0M693.8 1417.9h0M723.6 1417.9h0M726.2 1417.9h0M729.3 1417.9h0M731.9 1417.9h0M734.5 1417.9h0M737.7 1417.9h0M740.4 1417.9h0M743.1 1417.9h0M750 1417.9h0M756.9 1417.9h0M759.8 1417.9h0M762.5 1417.9h0M877.5 1417.9h0M672.8 1413.6h0M675.4 1413.6h0M678.3 1413.6h0M681.1 1413.6h0M696.9 1413.6h0M723.4 1413.6h0M768.4 1413.6h0M784.4 1413.6h0M847.3 1413.6h0M883.6 1413.6h0M925.2 1413.6h0M950.5 1413.6h0M954.5 1413.6h0M1035.4 1413.6h0M1041.1 1413.6h0M1046 1413.6h0M689.9 1409.2h0M693.1 1409.2h0M695.9 1409.2h0M698.7 1409.2h0M701.7 1409.2h0M704.6 1409.2h0M707.5 1409.2h0M710.3 1409.2h0M713.4 1409.2h0M716.6 1409.2h0M719.1 1409.2h0M722 1409.2h0M725 1409.2h0M728.1 1409.2h0M730.9 1409.2h0M734 1409.2h0M740.3 1409.2h0M746.6 1409.2h0M754.6 1409.2h0M757.6 1409.2h0M760.4 1409.2h0M762.7 1409.2h0M765.6 1409.2h0M768.6 1409.2h0M778.9 1409.2h0M788 1409.2h0M795.1 1409.2h0M700.5 1404.9h0M734.1 1404.9h0M780.9 1404.9h0M1013.2 1404.9h0M721.4 1400.6h0M741.9 1400.6h0M745.6 1400.6h0M756 1400.6h0M758.6 1400.6h0M761.2 1400.6h0M763.7 1400.6h0M818.6 1400.6h0M847.2 1400.6h0M970.3 1400.6h0M733 1392h0M764.8 1392h0M690.1 1387.7h0M693.5 1387.7h0M696.8 1387.7h0M699.7 1387.7h0M703 1387.7h0M706.1 1387.7h0M730.2 1387.7h0M733.3 1387.7h0M736.8 1387.7h0M739.7 1387.7h0M742.9 1387.7h0M745.8 1387.7h0M748.5 1387.7h0M751.8 1387.7h0M755.1 1387.7h0M757.9 1387.7h0M761.1 1387.7h0M763.8 1387.7h0M767 1387.7h0M770.1 1387.7h0M773.2 1387.7h0M776.1 1387.7h0M779.4 1387.7h0M782.5 1387.7h0M785.6 1387.7h0M788.4 1387.7h0M791.3 1387.7h0M892.4 1387.7h0M944.4 1387.7h0M947.6 1387.7h0M962.5 1387.7h0M965.4 1387.7h0M968.1 1387.7h0M970.7 1387.7h0M973.8 1387.7h0M976.3 1387.7h0M984.2 1387.7h0M1012.4 1387.7h0M1015.8 1387.7h0M1019.3 1387.7h0M1022.7 1387.7h0M663.8 1383.4h0M684.4 1383.4h0M721.3 1383.4h0M742.1 1383.4h0M745.3 1383.4h0M748.6 1383.4h0M751.1 1383.4h0M754.2 1383.4h0M757.5 1383.4h0M760.3 1383.4h0M763.4 1383.4h0M766.2 1383.4h0M769.1 1383.4h0M772.4 1383.4h0M775.1 1383.4h0M809 1383.4h0M956.6 1383.4h0M959.5 1383.4h0M967.9 1383.4h0M971.5 1383.4h0M995.9 1383.4h0M998.9 1383.4h0M1001.2 1383.4h0M1004 1383.4h0M1040.6 1383.4h0M720 1379h0M733.8 1379h0M736.9 1379h0M740.1 1379h0M742.6 1379h0M745.6 1379h0M748.8 1379h0M751.9 1379h0M754.6 1379h0M757.8 1379h0M760.4 1379h0M763.5 1379h0M766.5 1379h0M769.5 1379h0M808.3 1379h0M847 1379h0M849.4 1379h0M851.9 1379h0M854.4 1379h0M854.2 1379h0M870 1379h0M942.1 1379h0M944.9 1379h0M947.7 1379h0M1005.5 1379h0M1037.4 1379h0M686.5 1374.7h0M703.3 1374.7h0M711.1 1374.7h0M714.2 1374.7h0M726.1 1374.7h0M728.9 1374.7h0M731.7 1374.7h0M734.8 1374.7h0M737.6 1374.7h0M740.8 1374.7h0M743.8 1374.7h0M746.5 1374.7h0M749.6 1374.7h0M752.6 1374.7h0M755.6 1374.7h0M758.3 1374.7h0M761.4 1374.7h0M764.2 1374.7h0M767.5 1374.7h0M770.3 1374.7h0M773.4 1374.7h0M776.1 1374.7h0M779.2 1374.7h0M782.2 1374.7h0M789.2 1374.7h0M792.1 1374.7h0M794.8 1374.7h0M798 1374.7h0M800.5 1374.7h0M826.2 1374.7h0M835.4 1374.7h0M838.7 1374.7h0M841.4 1374.7h0M844.8 1374.7h0M847.9 1374.7h0M851 1374.7h0M854.4 1374.7h0M671.9 1370.4h0M675.1 1370.4h0M678.8 1370.4h0M681.8 1370.4h0M688 1370.4h0M694.7 1370.4h0M707.3 1370.4h0M714.1 1370.4h0M723.8 1370.4h0M726.9 1370.4h0M730 1370.4h0M733.2 1370.4h0M736.6 1370.4h0M739.9 1370.4h0M751.4 1370.4h0M754 1370.4h0M757.2 1370.4h0M760.3 1370.4h0M763.4 1370.4h0M766.6 1370.4h0M769.5 1370.4h0M850 1370.4h0M1031.4 1370.4h0M1050.1 1370.4h0M659.2 1366.1h0M678 1366.1h0M680.9 1366.1h0M684 1366.1h0M686.8 1366.1h0M689.4 1366.1h0M692.2 1366.1h0M698.2 1366.1h0M732.8 1366.1h0M735.8 1366.1h0M738.4 1366.1h0M741.6 1366.1h0M744.3 1366.1h0M751.3 1366.1h0M754 1366.1h0M757.2 1366.1h0M760.2 1366.1h0M775.5 1366.1h0M778.4 1366.1h0M781.7 1366.1h0M784.7 1366.1h0M793.7 1366.1h0M821.4 1366.1h0M826.1 1366.1h0M841.2 1366.1h0M844.4 1366.1h0M847.6 1366.1h0M851 1366.1h0M854.6 1366.1h0M910.1 1366.1h0M947.9 1366.1h0M949.8 1366.1h0M952.5 1366.1h0M1003.5 1366.1h0M1033.2 1366.1h0M1035.7 1366.1h0M1038.7 1366.1h0M1041.5 1366.1h0M1044.6 1366.1h0M1047.5 1366.1h0M1050.5 1366.1h0M702.7 1361.8h0M706.7 1361.8h0M745.3 1361.8h0M854.4 1361.8h0M859.9 1361.8h0M862.8 1361.8h0M866 1361.8h0M868.9 1361.8h0M871.8 1361.8h0M874.8 1361.8h0M877.5 1361.8h0M886.8 1361.8h0M889.8 1361.8h0M892.6 1361.8h0M895.3 1361.8h0M898.1 1361.8h0M901.1 1361.8h0M903.8 1361.8h0M912.9 1361.8h0M919.9 1361.8h0M925.6 1361.8h0M930.6 1361.8h0M950.2 1361.8h0M953.4 1361.8h0M955.9 1361.8h0M975.3 1361.8h0M978.1 1361.8h0M981 1361.8h0M983.9 1361.8h0M986.9 1361.8h0M1016.9 1361.8h0M745.5 1357.5h0M748.1 1357.5h0M751 1357.5h0M753.9 1357.5h0M756.5 1357.5h0M759.4 1357.5h0M762.2 1357.5h0M765 1357.5h0M781.3 1357.5h0M796.1 1357.5h0M799.7 1357.5h0M803 1357.5h0M806.3 1357.5h0M810 1357.5h0M813.3 1357.5h0M820.4 1357.5h0M845.5 1357.5h0M848.7 1357.5h0M851.5 1357.5h0M854.4 1357.5h0M960 1357.5h0M661.2 1353.2h0M692.2 1353.2h0M695.8 1353.2h0M733.8 1353.2h0M737.2 1353.2h0M740.2 1353.2h0M743.4 1353.2h0M746.4 1353.2h0M749.4 1353.2h0M752.7 1353.2h0M755.5 1353.2h0M758.6 1353.2h0M761.7 1353.2h0M765 1353.2h0M778.9 1353.2h0M791.5 1353.2h0M863.6 1353.2h0M876.5 1353.2h0M879.1 1353.2h0M896.6 1353.2h0M906.1 1353.2h0M932.9 1353.2h0M1048.2 1353.2h0M666.3 1348.8h0M678.6 1348.8h0M683.3 1348.8h0M687.6 1348.8h0M690.3 1348.8h0M701.1 1348.8h0M707 1348.8h0M724.8 1348.8h0M727.1 1348.8h0M729.9 1348.8h0M732.7 1348.8h0M745.3 1348.8h0M748.6 1348.8h0M751.7 1348.8h0M754.5 1348.8h0M757.9 1348.8h0M760.7 1348.8h0M763.7 1348.8h0M776.3 1348.8h0M832.6 1348.8h0M881.1 1348.8h0M887.2 1348.8h0M908.4 1348.8h0M917.2 1348.8h0M928.3 1348.8h0M947.6 1348.8h0M955 1348.8h0M966.8 1348.8h0M970.5 1348.8h0M980.9 1348.8h0M985.7 1348.8h0M1027.3 1348.8h0M1030.6 1348.8h0M1034.2 1348.8h0M1046.9 1348.8h0M702.7 1344.5h0M707.5 1344.5h0M774.1 1344.5h0M795.9 1344.5h0M827.2 1344.5h0M845.8 1344.5h0M871.9 1344.5h0M888.8 1344.5h0M987 1344.5h0M1046.4 1344.5h0M1050.3 1344.5h0M694.3 1340.2h0M736.3 1340.2h0M739.7 1340.2h0M743.1 1340.2h0M746.6 1340.2h0M750 1340.2h0M752.2 1340.2h0M760.6 1340.2h0M763.9 1340.2h0M767.4 1340.2h0M776.5 1340.2h0M780.1 1340.2h0M787.5 1340.2h0M792.5 1340.2h0M808.9 1340.2h0M824.7 1340.2h0M949.9 1340.2h0M953.4 1340.2h0M984.4 1340.2h0M988 1340.2h0M996.7 1340.2h0M1021.7 1340.2h0M1050.2 1340.2h0M684.9 1335.9h0M687.7 1335.9h0M796.8 1335.9h0M850.5 1335.9h0M933.9 1335.9h0M937.1 1335.9h0M946.4 1335.9h0M951.3 1335.9h0M996.5 1335.9h0M1023.5 1335.9h0M667.5 1331.6h0M670.8 1331.6h0M698 1331.6h0M730.3 1331.6h0M753.4 1331.6h0M758.3 1331.6h0M784.5 1331.6h0M788 1331.6h0M850.3 1331.6h0M905 1331.6h0M909.6 1331.6h0M944.4 1331.6h0M949.1 1331.6h0M952.2 1331.6h0M696.5 1327.3h0M756.5 1327.3h0M770.9 1327.3h0M843.3 1327.3h0M928.2 1327.3h0M933.7 1327.3h0M939.8 1327.3h0M962.7 1327.3h0M998.8 1327.3h0M1019.9 1327.3h0M667.8 1322.9h0M696.6 1322.9h0M763.5 1322.9h0M776.7 1322.9h0M788 1322.9h0M846.9 1322.9h0M852.6 1322.9h0M855 1322.9h0M944.3 1322.9h0M1005.2 1322.9h0M1043.3 1322.9h0M716.4 1318.6h0M768.2 1318.6h0M868.2 1314.3h0M871.2 1314.3h0M1026.5 1314.3h0M695.8 1310h0M698.3 1310h0M926.5 1310h0M765.8 1305.7h0M828.1 1305.7h0" stroke="#e07d20" stroke-width="4.3" stroke-linecap="round" fill="none" clip-path="url(#clip_orange_e)"/>
<path d="M657.6 1449.9L658.9 1449.4L660.7 1448.8L662.7 1448.1L664.8 1447.2L666.5 1446.3L667.9 1445.4L669.1 1444.3L670.2 1443.2L671.3 1441.9L672.4 1440.4L673.6 1438.7L674.9 1436.8L676.1 1434.8L677.2 1432.9L678.3 1431L679.3 1429.2L680.3 1427.4L681.1 1425.6L682.1 1424L683.1 1422.7L684.2 1421.7L685.3 1420.9L686.6 1420.3L687.8 1419.7L689 1419.2L690.2 1418.7L691.4 1418.4L692.6 1418L693.8 1417.6L694.9 1416.8L695.9 1415.8L696.8 1414.5L697.8 1413.1L698.7 1411.5L699.6 1409.7L700.5 1407.7L701.5 1405.5L702.4 1403L703.4 1400.5L704.3 1397.9L705.3 1395.2L706.2 1392.4L707.2 1389.5L708.1 1386.6L709 1383.7L710 1381L710.9 1378.2L711.9 1375.4L712.8 1372.6L713.8 1369.6L714.7 1366.4L715.7 1363.1L716.6 1359.7L717.5 1356.3L718.5 1353L719.4 1349.9L720.4 1346.7L721.3 1343.6L722.3 1340.6L723.2 1337.7L724.2 1334.9L725.1 1332.1L726 1329.4L727 1327L727.9 1324.7L728.9 1322.7L729.8 1320.9L730.7 1319.3L731.6 1317.9L732.7 1316.4L733.8 1315.1L735 1313.8L736.2 1312.6L737.4 1311.5L738.6 1310.5L739.6 1309.7L740.5 1308.9L741.4 1308.2L742.3 1307.6L743.3 1307L744.4 1306.4L745.5 1305.8L746.7 1305.3L747.9 1304.9L749.2 1304.6L750.6 1304.5L752.1 1304.6L753.6 1304.7L755 1305.1L756.3 1305.8L757.4 1306.8L758.4 1308L759.3 1309.4L760.2 1311.1L761 1312.9L761.8 1314.9L762.5 1317.2L763.2 1319.6L763.9 1322.1L764.5 1324.7L765.3 1327.3L766 1330.1L766.7 1332.9L767.4 1335.9L768.1 1338.9L768.8 1342L769.5 1345.2L770.2 1348.5L770.9 1351.9L771.6 1355.4L772.3 1359L773 1362.8L773.8 1366.6L774.5 1370.5L775.2 1374.3L775.9 1378.1L776.6 1381.9L777.3 1385.6L778 1389.4L778.7 1393.2L779.4 1397L780.1 1401L780.8 1404.9L781.5 1408.6L782.3 1412.1L782.9 1415.3L783.6 1418.3L784.2 1421.2L784.9 1423.8L785.8 1426.3L786.8 1428.5L788 1430.5L789.2 1432.3L790.5 1434L791.7 1435.7L792.9 1437.3L794.1 1438.7L795.2 1440.1L796.4 1441.4L797.6 1442.8L798.8 1444.2L799.9 1445.6L801.1 1447L802.3 1448.5L803.5 1449.9L804.9 1451.3L806.3 1452.8L807.7 1454.3L809.2 1455.7L810.6 1457L812 1458.1L813.4 1459.2L814.8 1460.2L816.2 1461L817.7 1461.7L819.3 1462.1L821 1462.5L822.8 1462.6L824.4 1462.5L826 1462.2L827.3 1461.5L828.4 1460.7L829.5 1459.6L830.6 1458.4L831.9 1457L833.2 1455.2L834.6 1453.2L836 1451.1L837.5 1449.1L838.9 1447.5L840.4 1446.4L841.8 1445.4L843.2 1444.8L844.6 1444.3L846 1444L847.5 1443.9L848.9 1444.2L850.4 1444.5L851.8 1444.9L853.1 1445.2L854.4 1445.2L855.6 1445.1L856.7 1445L857.9 1444.9L859 1445.2L860.2 1445.7L861.3 1446.4L862.4 1447.3L863.6 1448.1L864.9 1448.7L866.4 1449.1L868 1449.5L869.7 1449.8L871.4 1449.9L873.2 1449.9L875.1 1449.5L877 1448.8L879.1 1448L881 1447.3L882.6 1447L884 1447.2L885.2 1447.7L886.3 1448.4L887.3 1449.2L888.5 1449.9L889.9 1450.5L891.3 1451.2L892.7 1452L894.2 1452.7L895.6 1453.4L897 1454.1L898.5 1454.8L899.9 1455.5L901.3 1456.2L902.7 1457L904.1 1457.9L905.5 1459L907 1460L908.4 1461L909.8 1461.7L911.2 1462.1L912.6 1462.3L914 1462.4L915.5 1462.3L916.9 1462.2L918.3 1461.9L919.7 1461.4L921.1 1460.8L922.5 1460.1L924 1459.3L925.4 1458.4L926.8 1457.3L928.2 1456.1L929.6 1454.8L931 1453.4L932.5 1451.9L933.9 1450.2L935.3 1448.5L936.7 1446.7L938.1 1445.2L939.6 1443.6L941 1442.1L942.5 1440.7L943.9 1439.5L945.2 1438.5L946.4 1437.8L947.6 1437.3L948.6 1437L949.8 1436.8L951.1 1436.9L952.6 1437.2L954.3 1437.7L956.1 1438.3L957.8 1439.1L959.4 1440L960.9 1440.9L962.3 1441.9L963.7 1443L965.1 1444.1L966.5 1445.2L967.9 1446.1L969.3 1447.1L970.7 1448.1L972.1 1449L973.6 1449.9L974.9 1450.7L976.3 1451.5L977.6 1452.2L979.1 1452.8L980.6 1453.4L982.4 1453.9L984.4 1454.3L986.4 1454.6L988.3 1454.9L990.1 1455.1L991.7 1455.2L993.1 1455.3L994.5 1455.3L995.8 1455.3L997.2 1455.3L998.6 1455.2L999.9 1455L1001.3 1454.8L1002.7 1454.6L1004.3 1454.6L1006 1454.7L1008 1454.9L1010 1455.2L1011.9 1455.5L1013.7 1455.8L1015.3 1456.1L1016.7 1456.4L1018.1 1456.7L1019.4 1456.9L1020.8 1457L1022.2 1457L1023.7 1456.9L1025.2 1456.7L1026.6 1456.4L1027.9 1455.8L1028.9 1454.9L1029.8 1453.6L1030.7 1452.2L1031.5 1450.9L1032.6 1449.9L1033.8 1449L1035.1 1448.2L1036.4 1447.6L1038 1447.2L1039.7 1447L1041.9 1447.3L1044.5 1447.9L1047.2 1448.7L1049.5 1449.4L1051.1 1449.9" stroke="#f7831d" stroke-width="7.3" stroke-linecap="round" stroke-linejoin="round" fill="none" clip-path="url(#clip_orange_e)"/>
<path d="M657.6 1300.7V1478.2H1051.6V1300.7" stroke="#d4842f" stroke-width="1.7" fill="none"/>
<path d="M745.2 1478.2V1473.2M854.6 1478.2V1473.2M964 1478.2V1473.2M657.6 1396.3H662.6M657.6 1310H662.6M1051.6 1349.7H1046.6" stroke="#d4842f" stroke-width="1.5" fill="none"/>
<g fill="#d4842f" font-size="31"><text x="745.2" y="1516.2" text-anchor="middle">-100</text><text x="854.6" y="1516.2" text-anchor="middle">0</text><text x="964" y="1516.2" text-anchor="middle">100</text><text x="651.1" y="1408.8" text-anchor="end">20</text><text x="651.1" y="1322.5" text-anchor="end">40</text><text x="1058.6" y="1360.4">10</text><text x="1058.6" y="1488.9">0</text></g>
<clipPath id="hclip_e"><rect x="1212.6" y="1281.2" width="394.5" height="217.1"/></clipPath>
<path d="M1227 1478.3H1255V1472.2H1283.1V1405.7H1311.2V1365.8H1339.3V1308.5H1367.5V1301.7H1395.5V1304.1H1423.6V1339.2H1451.8V1367.7H1479.8V1376.7H1508V1398.5H1536V1432.3H1564.2V1440.8H1592.2V1450.5" stroke="#0a0af0" stroke-width="6.3" stroke-linejoin="miter" stroke-linecap="butt" fill="none" clip-path="url(#hclip_e)"/>
<path d="M1227 1477.1H1255V1463.8H1283.1V1430.4H1311.2V1357.3H1339.3V1312.6H1367.5V1316.9H1395.5V1318.6H1423.6V1322.2H1451.8V1348.9H1479.8V1381.5H1508V1404.5H1536V1438.4H1564.2V1434.3H1592.2V1434.3" stroke="#f7821c" stroke-width="6.3" stroke-linejoin="miter" stroke-linecap="butt" fill="none" clip-path="url(#hclip_e)"/>
<path d="M1212.6 1301.2V1478.3H1607.1" stroke="#1a1a1a" stroke-width="1.5" fill="none"/>
<path d="M1325.3 1478.3V1473.3M1437.7 1478.3V1473.3M1550.1 1478.3V1473.3M1212.6 1415.9H1217.6M1212.6 1353.2H1217.6" stroke="#1a1a1a" stroke-width="1.4" fill="none"/>
<g fill="#111" font-size="31"><text x="1212.9" y="1516.3" text-anchor="middle">-2</text><text x="1325.3" y="1516.3" text-anchor="middle">0</text><text x="1437.7" y="1516.3" text-anchor="middle">2</text><text x="1550.1" y="1516.3" text-anchor="middle">4</text><text x="1206.6" y="1489" text-anchor="end">0</text><text x="1206.6" y="1426.6" text-anchor="end">5</text><text x="1206.6" y="1363.9" text-anchor="end">10</text></g>
<path d="M1533.8 1326.4H1556" stroke="#0a0af0" stroke-width="7" fill="none"/>
<path d="M1533.8 1373.8H1556" stroke="#f7821c" stroke-width="7" fill="none"/>
<g fill="#111" font-size="36"><text x="1564.9" y="1340.2">Void pre-reward</text><text x="1564.9" y="1387.6">Eq. Subsample</text></g>
<clipPath id="clip_blue_f"><rect x="103.2" y="1614.7" width="393.6" height="177.5"/></clipPath>
<path d="M105.2 1792.3H171.6M175.7 1792.3H219.7M340.4 1792.3H494.8M105.2 1788H253.2M275.1 1788H407.2M423 1788H488.6M105.2 1779.3H132.4M151.5 1779.3H224.7M234.2 1779.3H302.1M323.1 1779.3H345M366.4 1779.3H429.5M439.7 1779.3H494.8M159.3 1775H228.2M231.3 1775H386.5M392.7 1775H494.8M105.2 1770.7H146.4M165 1770.7H217.7M236.2 1770.7H378.9M384.5 1770.7H490.5M105.2 1766.4H202.4M217.5 1766.4H355.4M374.5 1766.4H456.2M470 1766.4H494.8M105.2 1762.1H158.8M166 1762.1H274.6M286.4 1762.1H367.3M376.1 1762.1H487.3M105.2 1757.8H212.8M231.7 1757.8H288.5M303.7 1757.8H359M368.5 1757.8H418.3M436.3 1757.8H469.6M488.9 1757.8H494.8M156.4 1753.5H259.1M275.8 1753.5H432.8M105.2 1749.1H149.7M156.8 1749.1H270.2M272.7 1749.1H417M423.7 1749.1H489.6M105.2 1744.8H154.3M158.7 1744.8H280.7M305.4 1744.8H365.3M386.6 1744.8H494.8M233.6 1740.5H358.6M373 1740.5H477.9M105.2 1736.2H129M143.2 1736.2H302M105.2 1731.9H142M144.5 1731.9H302.8M311.6 1731.9H407.4M426.8 1731.9H468.6M272.5 1727.6H305.7M364.3 1727.6H491.8M105.2 1723.2H207.4M230.2 1723.2H270.9M274.9 1723.2H424.9M446.5 1723.2H494.8M105.2 1718.9H225.9M229.4 1718.9H301.7M323.6 1718.9H419.7M434.9 1718.9H493.4M105.2 1714.6H166.8M190.8 1714.6H286.4M426.9 1714.6H494.8M105.2 1710.3H236.5M278.7 1710.3H436.5M442.5 1710.3H494.8M254.9 1706H312.8M323.9 1706H394M192.8 1697.4H278M301.8 1697.4H323.5M346.3 1697.4H368.9M379.9 1697.4H479.5M486 1697.4H494.8M105.2 1693H257.4M105.2 1688.7H252.4M271.4 1688.7H382.4M403.4 1688.7H494.8M105.2 1684.4H178.9M193.9 1684.4H249.5M346.2 1684.4H475.2M481.7 1684.4H494.8M105.2 1680.1H227.2M245.1 1680.1H382.2M386 1680.1H494.8M105.2 1675.8H189.6M197.3 1675.8H234.8M238.2 1675.8H376.3M464.4 1675.8H494.8M105.2 1671.5H148.6M370.3 1671.5H485.2M105.2 1667.2H219.5M293.7 1667.2H416.4M433.2 1667.2H476.4M488.9 1667.2H494.8M410.1 1662.8H494.8M105.2 1658.5H173.4M185.4 1658.5H236.4M250.9 1658.5H409.1M432.6 1658.5H494.8M105.2 1654.2H235.3M447.3 1654.2H470.8M479.2 1654.2H494.8M105.2 1649.9H175.5M182.5 1649.9H335.1M350.8 1649.9H384.8M405.6 1649.9H465.1M481.9 1649.9H494.8M105.2 1645.6H136.1M144.9 1645.6H207.6M223 1645.6H351.2M368.6 1645.6H414.1M435.5 1645.6H472M477.5 1645.6H494.8M105.2 1641.3H220.5M241.4 1641.3H293.8M315 1641.3H437.7M441.2 1641.3H494.8M105.2 1636.9H176.1M197.6 1636.9H260.8M284.6 1636.9H391.5M105.2 1632.6H139M159.8 1632.6H275.7M292.3 1632.6H334.2M358.6 1632.6H401M105.2 1628.3H195.7M209.5 1628.3H356.6M430.7 1628.3H457.4M105.2 1624H225.1M236.7 1624H272.4M281.1 1624H440.4M447.9 1624H494.8M105.2 1619.7H148.2M161.6 1619.7H250.9M267 1619.7H407.9M413.7 1619.7H494.8" stroke="#f0f0f0" stroke-width="1" fill="none"/>
<path d="M287 1792.3h0M128.2 1788h0M146.1 1788h0M149.4 1788h0M152.4 1788h0M155.4 1788h0M158.5 1788h0M161.3 1788h0M164.7 1788h0M167.6 1788h0M170.7 1788h0M173.5 1788h0M176.7 1788h0M180 1788h0M197.7 1788h0M200.6 1788h0M203.6 1788h0M206.5 1788h0M226.7 1783.7h0M159.3 1779.3h0M208.1 1779.3h0M438 1779.3h0M159.8 1766.4h0M162.9 1766.4h0M166 1766.4h0M169.1 1766.4h0M172.2 1766.4h0M175.1 1766.4h0M178.1 1766.4h0M181.3 1766.4h0M184.5 1766.4h0M187.4 1766.4h0M190.1 1766.4h0M193.3 1766.4h0M196.7 1766.4h0M199.7 1766.4h0M202.4 1766.4h0M244.1 1766.4h0M247.5 1766.4h0M408.1 1766.4h0M196.6 1762.1h0M189 1757.8h0M348.6 1757.8h0M229 1753.5h0M125 1744.8h0M176.8 1744.8h0M163.4 1736.2h0M166.4 1736.2h0M169 1736.2h0M172.2 1736.2h0M195.8 1731.9h0M161.1 1727.6h0M293.1 1727.6h0M329.5 1727.6h0M340.9 1727.6h0M371.1 1727.6h0M440.9 1727.6h0M444.5 1727.6h0M449.1 1727.6h0M452.1 1727.6h0M200.4 1723.2h0M202.8 1723.2h0M205.7 1723.2h0M208.5 1723.2h0M211.2 1723.2h0M214.1 1723.2h0M226.8 1718.9h0M459 1718.9h0M166.8 1714.6h0M201.3 1714.6h0M204.3 1714.6h0M206.9 1714.6h0M209.5 1714.6h0M264 1714.6h0M292.9 1714.6h0M390 1701.7h0M393.2 1701.7h0M292.4 1693h0M294.9 1693h0M297.3 1693h0M300.2 1693h0M451.1 1693h0M156.6 1688.7h0M159.7 1688.7h0M271.5 1688.7h0M281 1688.7h0M283.9 1688.7h0M287.4 1688.7h0M290.6 1688.7h0M159.7 1684.4h0M112.2 1680.1h0M115.1 1680.1h0M117.9 1680.1h0M120.8 1680.1h0M123.5 1680.1h0M126.3 1680.1h0M129.6 1680.1h0M132.1 1680.1h0M190.1 1680.1h0M393.5 1680.1h0M395.6 1680.1h0M397.9 1680.1h0M449.1 1680.1h0M490 1680.1h0M493.1 1680.1h0M495.6 1680.1h0M169 1675.8h0M344 1675.8h0M346.6 1675.8h0M349.6 1675.8h0M462.5 1675.8h0M291.4 1671.5h0M294.4 1671.5h0M297.3 1671.5h0M299.9 1671.5h0M123 1667.2h0M132.5 1667.2h0M138.2 1667.2h0M141.4 1667.2h0M191.8 1667.2h0M195 1667.2h0M198.3 1667.2h0M201.1 1667.2h0M236.9 1667.2h0M383.9 1667.2h0M471.5 1667.2h0M474.9 1667.2h0M477.6 1667.2h0M480.7 1667.2h0M278.1 1662.8h0M333 1662.8h0M374 1662.8h0M179.7 1658.5h0M273 1658.5h0M291.4 1658.5h0M334.8 1658.5h0M395.6 1654.2h0M399.3 1654.2h0M430 1654.2h0M433.5 1654.2h0M442.5 1649.9h0M469.3 1649.9h0M199.1 1645.6h0M203.8 1645.6h0M219.8 1645.6h0M264.5 1645.6h0M302.5 1645.6h0M313.1 1645.6h0M333.6 1645.6h0M336.9 1645.6h0M350.7 1645.6h0M355.5 1645.6h0M216.3 1641.3h0M222.3 1636.9h0M233.5 1636.9h0M298.3 1636.9h0M300.5 1636.9h0M346.3 1636.9h0M488.9 1636.9h0M314 1628.3h0M316.9 1628.3h0M130.4 1619.7h0M184.6 1619.7h0M188.4 1619.7h0M263.6 1619.7h0" stroke="#1411b4" stroke-width="4.3" stroke-linecap="round" fill="none" clip-path="url(#clip_blue_f)"/>
<path d="M103.6 1767.6L104.4 1767.1L105.5 1766.4L106.7 1765.5L108 1764.3L109.2 1762.9L110.2 1760.9L111.1 1758.5L112 1756L113 1753.4L113.9 1751.1L114.8 1749L115.8 1747L116.7 1745.1L117.7 1743.3L118.6 1741.6L119.6 1740.1L120.5 1738.8L121.5 1737.6L122.4 1736.2L123.3 1734.5L124.3 1732.5L125.2 1730.2L126.2 1727.8L127.1 1725.2L128.1 1722.7L129 1720L130 1716.9L131 1714L131.9 1711.4L132.8 1709.7L133.6 1708.9L134.2 1708.8L134.9 1709.2L135.6 1709.9L136.3 1710.9L137.2 1712.3L138.1 1714.1L139 1716.2L140 1718.3L141.1 1720.4L142.2 1722.5L143.4 1724.9L144.6 1727.2L145.8 1729L147 1729.8L148 1729.4L149 1728.1L149.9 1726.2L150.8 1724.3L151.7 1722.7L152.5 1721.7L153.2 1721L153.9 1720.3L154.6 1719.4L155.2 1718L155.8 1716.2L156.2 1714.2L156.6 1711.9L157.1 1709.3L157.6 1706.2L158.2 1702.6L158.9 1698.5L159.6 1694.1L160.3 1689.5L161.1 1684.9L162 1680.3L163 1675.4L164 1670.5L165 1665.8L165.9 1661.3L166.6 1657.2L167.4 1653.3L168 1649.6L168.7 1646L169.4 1642.4L170.1 1638.8L170.8 1635.1L171.5 1631.6L172.2 1628.5L172.9 1625.9L173.6 1623.9L174.3 1622.3L175 1621.2L175.7 1620.4L176.5 1620L177.3 1619.8L178.3 1620L179.3 1620.6L180.2 1621.7L181.2 1623.5L182.2 1626.5L183.2 1630.4L184.1 1634.8L185.1 1639L185.9 1642.4L186.7 1645.2L187.4 1647.8L188.1 1649.9L188.8 1651.3L189.5 1651.9L190.2 1651.2L190.8 1649.3L191.5 1646.9L192.2 1644.5L193 1642.4L193.9 1640.7L194.8 1639L195.8 1637.4L196.8 1636.1L197.7 1635.3L198.7 1635.1L199.6 1635.4L200.6 1636L201.5 1636.8L202.5 1637.7L203.4 1638.7L204.3 1639.9L205.3 1641.2L206.2 1642.8L207.2 1644.8L208.1 1647.1L209.1 1649.7L210.1 1652.6L211 1655.7L211.9 1659L212.7 1662.4L213.4 1665.9L214.1 1669.7L214.8 1673.7L215.4 1677.9L216.2 1682.2L216.9 1686.7L217.6 1691.5L218.3 1696.4L219 1701.5L219.7 1706.9L220.5 1712.7L221.2 1718.6L221.9 1724.4L222.5 1729.8L223 1735.1L223.5 1740.4L223.8 1745.4L224.3 1749.8L224.9 1753.4L225.7 1755.9L226.6 1757.5L227.5 1758.6L228.6 1759.4L229.6 1760.5L230.7 1762L231.9 1763.6L233.1 1765L234.3 1766.1L235.5 1766.4L236.7 1765.7L237.8 1764.2L239 1762.3L240.2 1760.5L241.4 1759.3L242.8 1758.8L244.2 1758.7L245.7 1758.8L247.2 1759.1L248.5 1759.3L249.8 1759.6L251 1760.1L252.2 1760.6L253.3 1761.1L254.4 1761.7L255.4 1762.4L256.3 1763.4L257.2 1764.3L258.1 1765L259.1 1765.2L260.2 1765L261.4 1764.4L262.5 1763.5L263.8 1762.6L265 1761.7L266.4 1760.9L267.9 1760.2L269.3 1759.3L270.8 1758.3L272.1 1757L273.4 1755.2L274.6 1753.1L275.7 1750.9L276.9 1748.6L278 1746.3L279.2 1744L280.4 1741.3L281.6 1738.8L282.8 1736.8L283.9 1735.7L285.1 1735.7L286.3 1736.6L287.5 1738L288.7 1739.8L289.8 1741.6L291 1743.6L292.2 1746L293.4 1748.6L294.6 1751.1L295.7 1753.4L296.9 1755.5L298.1 1757.6L299.2 1759.6L300.4 1761.3L301.7 1762.9L303 1764.2L304.5 1765.2L305.9 1766.1L307.4 1766.9L308.7 1767.6L310 1768.4L311.2 1769.2L312.3 1769.8L313.5 1770.1L314.6 1770L315.8 1769.3L317.1 1768.3L318.3 1766.8L319.4 1765L320.5 1762.9L321.5 1760L322.5 1756.5L323.4 1752.8L324.3 1749.3L325.3 1746.3L326.4 1744L327.6 1742L328.8 1740.4L330.1 1739.1L331.2 1738.1L332.2 1737.5L333.1 1737.2L334 1737.3L334.9 1737.6L335.9 1738.1L337 1738.9L338.2 1740.1L339.4 1741.4L340.6 1742.8L341.8 1744L343 1744.9L344.2 1745.6L345.4 1746.4L346.6 1747.3L347.7 1748.7L348.7 1750.6L349.7 1752.9L350.6 1755.4L351.5 1758L352.4 1760.5L353.4 1763.3L354.3 1766.3L355.3 1769.3L356.2 1771.8L357.2 1773.5L358.1 1774.2L358.9 1774.1L359.8 1773.6L360.8 1772.9L361.9 1772.3L363.2 1771.9L364.7 1771.3L366.2 1770.8L367.7 1770.3L369 1770L370.1 1770L371 1770.4L371.9 1770.7L372.8 1770.7L373.7 1770L374.6 1768.4L375.5 1766.1L376.4 1763.4L377.3 1760.7L378.4 1758.2L379.7 1755.8L381.1 1753.4L382.5 1751L384 1748.6L385.5 1746.3L386.9 1744L388.4 1741.7L389.8 1739.5L391.2 1737.4L392.6 1735.7L393.8 1734.2L395 1732.9L396.2 1731.9L397.3 1731.2L398.5 1731L399.7 1731.2L400.8 1731.7L402 1732.6L403.2 1733.9L404.4 1735.7L405.6 1738.2L406.8 1741.3L407.9 1744.8L409.1 1748.1L410.3 1751.1L411.4 1753.6L412.5 1755.9L413.6 1758.1L414.8 1760L416.2 1761.7L417.9 1763.2L419.8 1764.5L421.9 1765.6L423.9 1766.2L425.6 1766.4L427.2 1765.9L428.6 1764.9L430 1763.5L431.4 1761.9L432.7 1760.5L434.1 1759.1L435.6 1757.4L437 1755.8L438.4 1754.4L439.8 1753.4L441.2 1753L442.6 1752.9L444.1 1753L445.5 1753.2L446.9 1753.4L448.3 1753.6L449.8 1753.7L451.2 1753.9L452.6 1754.2L454 1754.6L455.3 1755.1L456.5 1755.8L457.7 1756.5L458.8 1757.3L459.9 1758.2L460.9 1759L461.9 1760L462.8 1760.9L463.7 1761.9L464.6 1762.9L465.5 1764L466.4 1765.2L467.4 1766.3L468.3 1767.2L469.3 1767.6L470.4 1767.4L471.4 1766.7L472.6 1765.7L473.8 1764.8L475.2 1764.1L476.9 1763.6L478.6 1763.1L480.5 1762.7L482.6 1762.5L484.7 1762.4L487.1 1762.5L489.9 1762.9L492.7 1763.4L495.1 1763.8L496.8 1764.1" stroke="#0808f2" stroke-width="7.3" stroke-linecap="round" stroke-linejoin="round" fill="none" clip-path="url(#clip_blue_f)"/>
<path d="M103.2 1614.7V1792.2H496.8V1614.7" stroke="#1410b4" stroke-width="1.7" fill="none"/>
<path d="M190.7 1792.2V1787.2M300 1792.2V1787.2M409.3 1792.2V1787.2M103.2 1710.3H108.2M103.2 1624H108.2M496.8 1684H491.8" stroke="#1410b4" stroke-width="1.5" fill="none"/>
<g fill="#1410b4" font-size="31"><text x="190.7" y="1830.2" text-anchor="middle">-100</text><text x="300" y="1830.2" text-anchor="middle">0</text><text x="409.3" y="1830.2" text-anchor="middle">100</text><text x="96.7" y="1722.8" text-anchor="end">20</text><text x="96.7" y="1636.5" text-anchor="end">40</text><text x="503.8" y="1694.7">10</text><text x="503.8" y="1802.9">0</text></g>
<clipPath id="clip_orange_f"><rect x="657.6" y="1614.7" width="394" height="177.5"/></clipPath>
<path d="M659.6 1792.3H696M711.6 1792.3H821.1M827.6 1792.3H917.2M659.6 1788H695.1M701.2 1788H749.8M766.8 1788H853.5M875.8 1788H905.3M913.8 1788H1049.6M659.6 1783.7H758.7M777.2 1783.7H843.4M846.1 1783.7H897.2M910.6 1783.7H975.9M999.4 1783.7H1025.4M1038.8 1783.7H1049.6M659.6 1779.3H738.5M744.8 1779.3H793.9M814.8 1779.3H965.3M969.3 1779.3H1016.1M1030.5 1779.3H1049.6M659.6 1775H768.4M784.6 1775H900.8M902.9 1775H988.8M1005.6 1775H1049.6M659.6 1770.7H709.8M734.7 1770.7H851.7M870.5 1770.7H943M965.3 1770.7H1049.6M659.6 1766.4H813.3M874.9 1766.4H1030.7M659.6 1762.1H714.5M730.6 1762.1H816.4M834.5 1762.1H933.1M957.9 1762.1H990.2M1003.5 1762.1H1049.6M659.6 1757.8H773.3M659.6 1753.5H769.1M779.5 1753.5H871.7M877.3 1753.5H950.6M964.1 1753.5H1049.6M659.6 1749.1H756.2M763.8 1749.1H812.6M830.3 1749.1H853.9M659.6 1744.8H788.4M813.1 1744.8H891.3M998.6 1744.8H1030.3M1041.6 1744.8H1049.6M759 1740.5H896.9M659.6 1736.2H818.2M832.9 1736.2H982.3M992.2 1736.2H1049.6M659.6 1731.9H702.9M725.2 1731.9H839.3M845.7 1731.9H932.9M946.5 1731.9H1049.6M659.6 1727.6H694.9M705.6 1727.6H827.4M848.9 1727.6H970.9M982.8 1727.6H1037.2M1044.8 1727.6H1049.6M659.6 1723.2H746.6M766 1723.2H903.1M914 1723.2H1049.6M850 1718.9H941.2M946.9 1718.9H1049.6M659.6 1714.6H803.6M811.8 1714.6H968.1M978.7 1714.6H1049.6M817.9 1710.3H912M928.9 1710.3H1049.6M689.5 1706H759.9M918.9 1706H997.9M1006 1706H1049.6M659.6 1701.7H815.8M971.3 1701.7H1049.6M659.6 1697.4H689.5M710.6 1697.4H863.6M878.3 1697.4H993.7M1004.6 1697.4H1049.6M659.6 1693H756.7M849.2 1693H941.1M960.5 1693H1049.6M659.6 1688.7H799.2M821.5 1688.7H973M995.8 1688.7H1049.6M659.6 1684.4H736.2M751.2 1684.4H795.5M803.1 1684.4H828.3M850.1 1684.4H925.1M929.3 1684.4H960.4M973.6 1684.4H1049.6M723.2 1680.1H748.4M765.7 1680.1H855.2M863.3 1680.1H939.4M959.9 1680.1H1010.3M738.9 1675.8H831.5M926.3 1675.8H1037M1045.1 1675.8H1049.6M659.6 1671.5H781M789.1 1671.5H823.9M826.1 1671.5H976.7M659.6 1667.2H698.6M803 1667.2H844.8M954.8 1667.2H1049.6M659.6 1662.8H781.8M796.2 1662.8H840.6M862.9 1662.8H1019.5M659.6 1658.5H766.1M780.1 1658.5H839.4M860 1658.5H885.9M889.2 1658.5H1026.1M659.6 1654.2H743.2M755.5 1654.2H896M909.3 1654.2H1044.7M773.4 1645.6H847M868.9 1645.6H1016.6M659.6 1641.3H781.8M787.9 1641.3H937.4M952 1641.3H1049.6M659.6 1636.9H789.7M807.2 1636.9H923.2M925.4 1636.9H989.2M1002 1636.9H1049.6M828.9 1632.6H894.5M901.5 1632.6H1000.6M1017.6 1632.6H1049.6M659.6 1628.3H703.2M960 1628.3H1012.6M1022.5 1628.3H1049.6M659.6 1624H699.6M702.6 1624H782.4M797.2 1624H875.9M897.9 1624H1017.7M1039.8 1624H1049.6M659.6 1619.7H693M706.8 1619.7H788.6M798.3 1619.7H942.7M961.5 1619.7H989.7M1014.6 1619.7H1049.6" stroke="#f0f0f0" stroke-width="1" fill="none"/>
<path d="M724.9 1788h0M728.1 1788h0M731.2 1788h0M734.5 1788h0M752.5 1788h0M755.4 1788h0M758.2 1788h0M760.8 1788h0M730.6 1775h0M733.3 1775h0M736.3 1775h0M739 1775h0M753.8 1775h0M757 1775h0M759.6 1775h0M762.5 1775h0M988 1775h0M1005.2 1775h0M1019.7 1775h0M735.6 1770.7h0M738.5 1766.4h0M741.5 1766.4h0M744.7 1766.4h0M747.7 1766.4h0M750.9 1766.4h0M753.9 1766.4h0M757 1766.4h0M798.6 1766.4h0M802 1766.4h0M751.2 1762.1h0M969.8 1762.1h0M1043.4 1762.1h0M1046.6 1762.1h0M1050.2 1762.1h0M743.3 1757.8h0M903 1757.8h0M683.1 1753.5h0M686.5 1753.5h0M689.9 1753.5h0M668.9 1749.1h0M738.3 1740.5h0M752.6 1740.5h0M755.4 1740.5h0M758 1740.5h0M760.7 1740.5h0M735.3 1736.2h0M738.6 1736.2h0M742.2 1736.2h0M745.3 1736.2h0M750.2 1731.9h0M684 1727.6h0M686.7 1727.6h0M697.2 1727.6h0M995.6 1727.6h0M999 1727.6h0M1003.8 1727.6h0M1006.3 1727.6h0M725.1 1723.2h0M728 1723.2h0M731 1723.2h0M734.1 1723.2h0M733.7 1718.9h0M755.7 1714.6h0M758.4 1714.6h0M761.1 1714.6h0M763.9 1714.6h0M752.7 1706h0M755.8 1706h0M759.2 1706h0M983.9 1701.7h0M1012.5 1701.7h0M1015.8 1701.7h0M1019.2 1701.7h0M1022.4 1701.7h0M742.3 1697.4h0M745.4 1697.4h0M748.2 1697.4h0M751.3 1697.4h0M769.6 1693h0M710.9 1688.7h0M714.5 1688.7h0M737.9 1688.7h0M740.6 1688.7h0M743.5 1688.7h0M746.5 1688.7h0M761.6 1688.7h0M764.3 1688.7h0M767.5 1688.7h0M770.6 1688.7h0M789 1688.7h0M792.2 1688.7h0M795.1 1688.7h0M797.9 1688.7h0M736.5 1684.4h0M739.5 1684.4h0M658.8 1680.1h0M666.7 1680.1h0M669.2 1680.1h0M672.5 1680.1h0M675.3 1680.1h0M678 1680.1h0M680.9 1680.1h0M683.7 1680.1h0M686.5 1680.1h0M689.7 1680.1h0M692.2 1680.1h0M732.6 1680.1h0M735.9 1680.1h0M738.4 1680.1h0M741.4 1680.1h0M775.5 1680.1h0M778.6 1680.1h0M781.7 1680.1h0M784.7 1680.1h0M854.3 1680.1h0M910.2 1680.1h0M1003.8 1680.1h0M1044.7 1680.1h0M1047.3 1680.1h0M1050.1 1680.1h0M723.5 1675.8h0M860.3 1675.8h0M862.9 1675.8h0M865.7 1675.8h0M868.6 1675.8h0M919.9 1675.8h0M987.1 1675.8h0M1016.7 1675.8h0M809.7 1671.5h0M813.5 1671.5h0M692.6 1667.2h0M696.1 1667.2h0M734.1 1667.2h0M737.2 1667.2h0M740.3 1667.2h0M743.5 1667.2h0M724.7 1662.8h0M727.6 1662.8h0M729.8 1662.8h0M732.6 1662.8h0M776.7 1662.8h0M1019.1 1658.5h0M1024.9 1658.5h0M750.1 1654.2h0M752.3 1654.2h0M760.2 1654.2h0M764 1654.2h0M767.2 1654.2h0M950.2 1654.2h0M953.5 1654.2h0M984.6 1654.2h0M988.3 1654.2h0M996.6 1654.2h0M850.4 1649.9h0M784.4 1645.6h0M788.2 1645.6h0M944.2 1645.6h0M949.1 1645.6h0M952.3 1645.6h0M999.2 1641.3h0M788.3 1636.9h0M1033.4 1636.9h0M716.5 1632.6h0M757.2 1632.6h0M768.4 1632.6h0M868 1628.3h0M871 1628.3h0M684.9 1619.7h0M712 1619.7h0M715.5 1619.7h0M718.4 1619.7h0M738.9 1619.7h0M742.4 1619.7h0" stroke="#e07d20" stroke-width="4.3" stroke-linecap="round" fill="none" clip-path="url(#clip_orange_f)"/>
<path d="M657.6 1755.8L658.7 1756.7L660.2 1758.2L662 1759.7L663.8 1761L665.4 1761.7L666.7 1761.6L667.9 1761.1L669.1 1760.2L670.2 1759.2L671.3 1758.2L672.3 1757.1L673.2 1756L674.1 1754.8L675.1 1753.5L676 1752.2L676.9 1750.8L677.9 1749.3L678.8 1747.7L679.8 1746.3L680.7 1745.2L681.6 1744.3L682.6 1743.5L683.5 1742.9L684.5 1742.7L685.4 1742.8L686.4 1743.5L687.3 1744.6L688.3 1745.9L689.2 1747.4L690.1 1748.7L691.1 1750L692 1751.4L692.9 1752.8L693.9 1753.9L694.9 1754.6L696 1755L697.3 1755L698.5 1754.8L699.7 1754.3L700.8 1753.4L701.6 1752.1L702.4 1750.5L703 1748.5L703.6 1746.3L704.3 1744L705 1741.6L705.7 1739.1L706.4 1736.4L707.2 1733.3L707.9 1729.8L708.6 1725.7L709.3 1721L710 1716.1L710.7 1711.1L711.4 1706.2L712.1 1701.5L712.8 1696.7L713.5 1692L714.2 1687.3L714.9 1682.6L715.7 1677.8L716.4 1673L717.1 1668.2L717.8 1663.5L718.5 1659L719.2 1654.4L719.9 1649.8L720.6 1645.4L721.3 1641.3L722 1637.7L722.7 1634.7L723.4 1632.1L724.1 1629.9L724.8 1627.9L725.6 1625.9L726.4 1623.9L727.3 1622L728.2 1620.3L729.2 1618.8L730.3 1617.6L731.6 1616.8L733 1616.2L734.4 1616L735.9 1616L737.4 1616.4L738.8 1617.5L740.3 1619.3L741.8 1621.2L743.2 1622.7L744.5 1623.5L745.6 1623.1L746.5 1621.8L747.4 1620.2L748.3 1619L749.2 1618.8L750.1 1619.8L751.1 1621.6L752 1623.8L753 1626.1L753.9 1628.3L754.9 1630.1L755.9 1631.9L756.8 1633.8L757.8 1635.7L758.6 1637.7L759.4 1639.8L760.1 1642L760.8 1644.3L761.5 1646.8L762.2 1649.5L762.9 1652.5L763.6 1655.8L764.3 1659.2L765 1662.7L765.7 1666L766.4 1669.4L767.1 1672.8L767.9 1676.1L768.6 1679.4L769.3 1682.6L770 1685.6L770.7 1688.5L771.4 1691.4L772.1 1694.1L772.8 1696.7L773.5 1699.1L774.2 1701.3L774.9 1703.4L775.6 1705.8L776.4 1708.6L777 1711.9L777.7 1715.7L778.4 1719.7L779.1 1723.7L779.9 1727.4L780.8 1730.9L781.7 1734.2L782.7 1737.5L783.7 1740.7L784.6 1744L785.6 1747.4L786.5 1751L787.5 1754.6L788.4 1757.8L789.3 1760.5L790.3 1762.6L791.1 1764.1L792 1765.4L793 1766.5L794.1 1767.6L795.3 1768.8L796.7 1769.9L798.2 1770.9L799.7 1771.7L801.2 1772.3L802.6 1772.6L804 1772.5L805.4 1772.3L806.8 1772.2L808.2 1772.3L809.7 1772.8L811.1 1773.4L812.6 1774.2L814 1775L815.3 1775.9L816.6 1776.8L817.8 1777.8L818.9 1778.8L820.1 1779.8L821.2 1780.6L822.4 1781.4L823.6 1782.2L824.9 1782.8L826 1783.1L827.1 1783L828.1 1782.1L829 1780.7L829.9 1779.1L830.9 1777.4L831.9 1775.9L833 1774.6L834.1 1773.2L835.3 1772L836.6 1770.9L837.8 1770L838.9 1769.2L840.1 1768.5L841.3 1768L842.5 1767.7L843.7 1767.6L844.8 1767.7L846 1768L847.2 1768.4L848.4 1769.1L849.6 1770L850.8 1771.2L852 1772.7L853.3 1774.3L854.4 1775.9L855.5 1777L856.3 1778L857 1778.8L857.6 1779.4L858.3 1779.6L859 1779.4L859.9 1778.5L860.8 1777.1L861.7 1775.4L862.7 1773.7L863.7 1772.3L864.8 1771.4L866 1770.6L867.1 1769.9L868.4 1769.4L869.6 1768.8L871 1768.3L872.4 1767.9L873.9 1767.5L875.4 1767L876.7 1766.4L878 1765.5L879.2 1764.4L880.3 1763.2L881.5 1762.2L882.6 1761.7L883.8 1761.6L884.9 1761.8L886.1 1762.3L887.3 1763.1L888.5 1764.1L889.9 1765.4L891.3 1767.2L892.7 1769.1L894.2 1770.9L895.6 1772.3L897.1 1773.3L898.5 1774L900 1774.6L901.4 1775.2L902.7 1775.9L904 1776.7L905.2 1777.7L906.3 1778.6L907.4 1779.6L908.6 1780.6L909.8 1781.7L911 1783L912.2 1784.3L913.3 1785.1L914.5 1785.3L915.7 1784.6L916.8 1783.2L918 1781.4L919.2 1779.6L920.4 1778.2L921.7 1777.3L923.1 1776.5L924.5 1775.8L926 1775.3L927.5 1774.7L929.1 1774.1L930.8 1773.4L932.5 1772.9L934.2 1772.5L935.8 1772.3L937.3 1772.4L938.7 1772.8L940.2 1773.3L941.5 1773.9L942.9 1774.7L944.1 1775.8L945.2 1777.1L946.3 1778.6L947.4 1779.8L948.8 1780.6L950.3 1780.8L952 1780.7L953.7 1780.3L955.4 1779.8L957 1779.4L958.5 1779.1L959.9 1778.8L961.3 1778.4L962.7 1777.8L964.1 1777L965.5 1776L966.9 1774.7L968.4 1773.2L969.8 1771.6L971.2 1770L972.6 1768.2L974.1 1766.4L975.5 1764.4L976.9 1762.4L978.3 1760.5L979.5 1758.4L980.7 1756.1L981.9 1753.9L983 1752.1L984.2 1751.1L985.4 1750.9L986.5 1751.4L987.7 1752.3L988.9 1753.5L990.1 1754.6L991.3 1755.8L992.5 1757.2L993.6 1758.7L994.8 1760.2L996 1761.7L997.2 1763.2L998.3 1764.7L999.5 1766.2L1000.6 1767.6L1001.9 1768.8L1003.3 1769.7L1004.7 1770.5L1006.2 1771.1L1007.6 1771.7L1009 1772.3L1010.2 1773.1L1011.4 1773.9L1012.6 1774.7L1013.7 1775.4L1014.9 1775.9L1016.1 1776.1L1017.2 1776.1L1018.3 1776L1019.5 1775.8L1020.8 1775.9L1022.2 1776.2L1023.7 1776.6L1025.2 1777.1L1026.7 1777.3L1027.9 1777L1028.8 1776.2L1029.4 1774.9L1030 1773.3L1030.6 1771.6L1031.4 1770L1032.5 1768.3L1033.7 1766.6L1034.9 1764.8L1036.2 1763.1L1037.3 1761.7L1038.3 1760.4L1039.1 1759.3L1039.9 1758.3L1040.8 1757.5L1042.1 1757L1043.7 1756.8L1045.8 1756.9L1047.9 1757.2L1049.8 1757.5L1051.1 1757.7" stroke="#f7831d" stroke-width="7.3" stroke-linecap="round" stroke-linejoin="round" fill="none" clip-path="url(#clip_orange_f)"/>
<path d="M657.6 1614.7V1792.2H1051.6V1614.7" stroke="#d4842f" stroke-width="1.7" fill="none"/>
<path d="M745.2 1792.2V1787.2M854.6 1792.2V1787.2M964 1792.2V1787.2M657.6 1710.3H662.6M657.6 1624H662.6M1051.6 1686.5H1046.6" stroke="#d4842f" stroke-width="1.5" fill="none"/>
<g fill="#d4842f" font-size="31"><text x="745.2" y="1830.2" text-anchor="middle">-100</text><text x="854.6" y="1830.2" text-anchor="middle">0</text><text x="964" y="1830.2" text-anchor="middle">100</text><text x="651.1" y="1722.8" text-anchor="end">20</text><text x="651.1" y="1636.5" text-anchor="end">40</text><text x="1058.6" y="1697.2">10</text><text x="1058.6" y="1802.9">0</text></g>
<clipPath id="hclip_f"><rect x="1212.6" y="1595.2" width="394.5" height="217.1"/></clipPath>
<path d="M1227 1787H1255V1774.9H1283.1V1749.5H1311.2V1703.5H1339.3V1671.8H1367.5V1646.6H1395.5V1670.1H1423.6V1663.3H1451.8V1721.6H1479.8V1746.3H1508V1762.5H1536V1766.9H1564.2V1768.6H1592.2V1775.4" stroke="#0a0af0" stroke-width="6.3" stroke-linejoin="miter" stroke-linecap="butt" fill="none" clip-path="url(#hclip_f)"/>
<path d="M1227 1791.1H1255V1781.4H1283.1V1745.1H1311.2V1723.3H1339.3V1690.7H1367.5V1646.6H1395.5V1651.5H1423.6V1670.8H1451.8V1700.8H1479.8V1742H1508V1757.2H1536V1759.1H1564.2V1772.9H1592.2V1772.9" stroke="#f7821c" stroke-width="6.3" stroke-linejoin="miter" stroke-linecap="butt" fill="none" clip-path="url(#hclip_f)"/>
<path d="M1212.6 1615.2V1792.3H1607.1" stroke="#1a1a1a" stroke-width="1.5" fill="none"/>
<path d="M1325.3 1792.3V1787.3M1437.7 1792.3V1787.3M1550.1 1792.3V1787.3M1212.6 1704H1217.6M1212.6 1615.2H1217.6" stroke="#1a1a1a" stroke-width="1.4" fill="none"/>
<g fill="#111" font-size="31"><text x="1212.9" y="1830.3" text-anchor="middle">-2</text><text x="1325.3" y="1830.3" text-anchor="middle">0</text><text x="1437.7" y="1830.3" text-anchor="middle">2</text><text x="1550.1" y="1830.3" text-anchor="middle">4</text><text x="1206.6" y="1803" text-anchor="end">0</text><text x="1206.6" y="1714.7" text-anchor="end">10</text><text x="1206.6" y="1625.9" text-anchor="end">20</text></g>
<path d="M1497.5 1650.8H1519.3" stroke="#0a0af0" stroke-width="7" fill="none"/>
<path d="M1497.5 1697.5H1519.3" stroke="#f7821c" stroke-width="7" fill="none"/>
<g fill="#111" font-size="36"><text x="1528.2" y="1664.6">Artificial Head Fixation</text><text x="1528.2" y="1711.3">Eq. Subsample</text></g>
<clipPath id="clip_blue_g"><rect x="103.2" y="1928.7" width="393.6" height="177.5"/></clipPath>
<path d="M226.4 2106.3H375.6M386.6 2106.3H494.8M194.3 2102H249M268.7 2102H384.2M406 2102H445.3M461.2 2102H494.8M105.2 2097.7H252.2M255.2 2097.7H320M344.5 2097.7H465.9M375.7 2093.3H490.1M186.4 2089H208.7M226.4 2089H292.8M306.2 2089H413.3M430.1 2089H461.4M466.9 2089H494.8M105.2 2084.7H163.6M177.1 2084.7H298.7M304.9 2084.7H380.7M389.9 2084.7H494.8M198 2080.4H278.8M285.3 2080.4H331.4M350.6 2080.4H428.1M440.7 2080.4H494.8M105.2 2076.1H238.8M254.3 2076.1H381M403.2 2076.1H448M183.9 2071.8H235.5M465.7 2071.8H494.8M105.2 2067.4H205.1M221.9 2067.4H319.8M449.4 2067.4H479.1M105.2 2063.1H131M140.9 2063.1H228.3M233.6 2063.1H376.9M400.5 2063.1H494.8M105.2 2058.8H207.4M227.5 2058.8H364.5M370.8 2058.8H456M474.1 2058.8H494.8M105.2 2054.5H255.4M273.6 2054.5H300.4M316.7 2054.5H410.8M423.8 2054.5H494.8M105.2 2050.2H159M172.1 2050.2H225.3M309.3 2050.2H330M351.5 2050.2H475.6M105.2 2045.9H169.1M193.3 2045.9H291.2M313.1 2045.9H431.2M435.9 2045.9H494.8M257.5 2041.6H329.7M340 2041.6H394.9M442.4 2041.6H481M486.7 2041.6H494.8M105.2 2037.2H201.1M209.7 2037.2H351.6M407 2037.2H494.8M105.2 2032.9H148.6M162.5 2032.9H199.5M204 2032.9H283.9M293.4 2032.9H326.3M330.7 2032.9H397.1M406.4 2032.9H494.8M273.2 2028.6H386.5M405.8 2028.6H454.3M105.2 2024.3H205.8M328.6 2024.3H370.1M381 2024.3H462.2M481.7 2024.3H494.8M403.8 2020H438.4M453.4 2020H494.8M252.6 2015.7H377.9M391.2 2015.7H442.6M445.9 2015.7H494.8M237.7 2011.4H371.9M395.4 2011.4H490.3M224.7 2007H298.6M315.3 2007H431.2M455.7 2007H494.8M223.3 2002.7H297.3M305.4 2002.7H447.4M467.5 2002.7H494.8M105.2 1998.4H224M105.2 1994.1H224M230 1994.1H301.4M452.3 1994.1H494.8M105.2 1989.8H236.2M241 1989.8H318.2M327.9 1989.8H470.4M479.2 1989.8H494.8M105.2 1985.5H139.6M161 1985.5H280.7M284.3 1985.5H325.3M331 1985.5H429.7M454.5 1985.5H494.8M195.1 1981.2H221.7M233.5 1981.2H284.7M298 1981.2H435.3M441.6 1981.2H494.8M105.2 1976.8H174.8M280.7 1976.8H313.1M336.6 1976.8H390.6M396.9 1976.8H494.8M105.2 1972.5H204.3M213.8 1972.5H335.6M345.7 1972.5H474.5M477.9 1972.5H494.8M105.2 1968.2H126.6M138.6 1968.2H258.7M281.8 1968.2H414.4M435.8 1968.2H494.8M169.8 1963.9H275.4M292.8 1963.9H452.7M105.2 1959.6H137.8M331.5 1959.6H354.2M375.7 1959.6H412.6M416.2 1959.6H494.8M222.2 1955.3H326.3M348.3 1955.3H414.2M433.5 1955.3H494.8M105.2 1950.9H227.7M240.4 1950.9H321.2M342.1 1950.9H462.3M485 1950.9H494.8M105.2 1946.6H167.3M304.6 1946.6H330M350.2 1946.6H488M105.2 1942.3H261.7M285.4 1942.3H399.4M412 1942.3H478.5M490 1942.3H494.8M105.2 1938H135.6M153.9 1938H208.1M233 1938H357.1M267.4 1933.7H411.6M424 1933.7H494.8" stroke="#f0f0f0" stroke-width="1" fill="none"/>
<path d="M200.2 2106.3h0M203.6 2106.3h0M206.4 2106.3h0M209.7 2106.3h0M145.9 2102h0M149.2 2102h0M152.1 2102h0M155.2 2102h0M170.8 2102h0M173.5 2102h0M176.6 2102h0M179.8 2102h0M490.8 2102h0M176 2097.7h0M208.4 2093.3h0M219.4 2093.3h0M438.1 2093.3h0M450.9 2089h0M211 2076.1h0M240.8 2076.1h0M114.5 2071.8h0M240.8 2071.8h0M149.5 2067.4h0M152.6 2067.4h0M155.5 2067.4h0M159 2067.4h0M161.7 2067.4h0M164.9 2067.4h0M168.2 2067.4h0M171.1 2067.4h0M174 2067.4h0M177.1 2067.4h0M180.5 2067.4h0M183.4 2067.4h0M229.1 2067.4h0M121.7 2063.1h0M195.3 2063.1h0M125 2058.8h0M176.5 2058.8h0M204.4 2058.8h0M104.7 2054.5h0M209.5 2054.5h0M212.4 2054.5h0M215.2 2054.5h0M218.1 2054.5h0M220.9 2054.5h0M152.1 2050.2h0M154.6 2050.2h0M157.5 2050.2h0M160.4 2050.2h0M169 2045.9h0M172 2045.9h0M174.8 2045.9h0M177.3 2045.9h0M195.5 2045.9h0M323.2 2045.9h0M480.8 2041.6h0M224.5 2037.2h0M233.6 2037.2h0M230.6 2024.3h0M178.6 2020h0M148.7 2015.7h0M151.7 2015.7h0M212.7 2015.7h0M215.6 2015.7h0M218.9 2015.7h0M221.6 2015.7h0M237.1 2015.7h0M338.1 2015.7h0M166.9 2011.4h0M191.2 2007h0M194.1 2007h0M197.3 2007h0M200.4 2007h0M253.8 2007h0M299.8 2007h0M315.4 2007h0M140.4 1998.4h0M295.9 1998.4h0M477.1 1998.4h0M239.2 1994.1h0M478.6 1994.1h0M481.5 1994.1h0M484.3 1994.1h0M487 1994.1h0M291.2 1985.5h0M294.1 1985.5h0M296.9 1985.5h0M300.2 1985.5h0M370.1 1985.5h0M405.2 1985.5h0M493.7 1981.2h0M170.5 1976.8h0M173 1976.8h0M175.7 1976.8h0M178.4 1976.8h0M326.3 1976.8h0M332.7 1976.8h0M491.8 1972.5h0M495.7 1972.5h0M182 1968.2h0M185.3 1968.2h0M188.6 1968.2h0M192.2 1968.2h0M491.4 1963.9h0M495.9 1963.9h0M144 1959.6h0M164.7 1959.6h0M170.7 1959.6h0M188.9 1959.6h0M199.3 1959.6h0M203.6 1959.6h0M295.7 1959.6h0M333.2 1959.6h0M337 1959.6h0M390 1959.6h0M394.5 1959.6h0M398.2 1959.6h0M404.8 1959.6h0M451.9 1959.6h0M178.8 1955.3h0M181.9 1955.3h0M385.2 1955.3h0M408.5 1955.3h0M473.3 1955.3h0M233.8 1950.9h0M292.5 1950.9h0M450.9 1950.9h0M479.4 1950.9h0M123.1 1942.3h0M472.4 1942.3h0M130.8 1933.7h0M211.3 1933.7h0M216.9 1933.7h0M239.3 1933.7h0M274.2 1933.7h0" stroke="#1411b4" stroke-width="4.3" stroke-linecap="round" fill="none" clip-path="url(#clip_blue_g)"/>
<path d="M103.2 2069.8L104 2069.1L105.2 2068.1L106.5 2066.9L107.9 2065.9L109.2 2065.1L110.4 2064.6L111.6 2064.5L112.8 2064.4L114 2064.2L115.1 2063.9L116.1 2063.4L117 2062.9L118 2062.2L118.9 2061.4L119.8 2060.3L120.7 2059L121.7 2057.4L122.6 2055.6L123.6 2053.8L124.5 2052.1L125.5 2050.4L126.4 2048.6L127.4 2046.9L128.3 2045.2L129.2 2043.8L130.2 2042.6L131.1 2041.5L132.1 2040.6L133 2039.7L134 2039.1L134.9 2038.8L135.9 2038.9L136.9 2039.1L137.8 2038.8L138.7 2037.9L139.5 2036.1L140.1 2033.6L140.8 2030.8L141.5 2027.8L142.2 2024.9L143.1 2022.2L144 2019.4L145 2016.6L146 2013.8L147 2010.7L147.9 2007.6L148.9 2004.2L149.9 2000.8L150.8 1997.4L151.7 1994.2L152.5 1991.3L153.2 1988.5L153.9 1985.8L154.5 1983L155.2 1980L155.9 1976.9L156.6 1973.6L157.4 1970.2L158.1 1966.9L158.8 1963.5L159.5 1960.1L160.2 1956.7L160.9 1953.3L161.6 1950L162.3 1947L163 1944.2L163.7 1941.5L164.4 1939L165.1 1936.9L165.9 1935.2L166.7 1934L167.5 1933.4L168.4 1933.1L169.4 1932.9L170.6 1932.8L172.1 1932.6L173.8 1932.5L175.6 1932.5L177.4 1932.7L178.8 1933.3L180 1934.2L180.9 1935.5L181.8 1936.9L182.6 1938.4L183.6 1939.9L184.7 1941.3L185.9 1942.9L187.1 1944.4L188.3 1945.8L189.5 1947L190.5 1947.9L191.4 1948.6L192.4 1949.2L193.3 1949.8L194.2 1950.5L195.1 1951.4L196.1 1952.3L197 1953.2L198 1954.2L198.9 1955.2L199.9 1956.3L200.8 1957.2L201.8 1958.3L202.7 1959.6L203.6 1961.1L204.6 1963.1L205.5 1965.2L206.5 1967.6L207.4 1970.2L208.4 1973L209.3 1976L210.3 1979.2L211.2 1982.7L212.1 1986.1L213.1 1989.5L214 1992.8L215 1996L215.9 1999.2L216.9 2002.6L217.8 2006L218.8 2009.8L219.7 2013.9L220.6 2017.9L221.6 2021.7L222.5 2024.9L223.5 2027.3L224.4 2029.1L225.4 2030.7L226.3 2032.3L227.3 2034.4L228.2 2037L229.1 2040.1L230.1 2043.3L231 2046.2L232 2048.5L232.9 2050L233.9 2050.9L234.8 2051.5L235.8 2052.2L236.7 2053.3L237.6 2054.8L238.6 2056.5L239.5 2058.4L240.5 2060.4L241.4 2062.7L242.4 2065.2L243.3 2068L244.3 2071L245.2 2074L246.2 2076.9L247.1 2079.8L248 2082.9L249 2086L249.9 2088.7L250.9 2091L251.8 2092.8L252.7 2094.3L253.5 2095.4L254.5 2096.2L255.6 2097L256.8 2097.4L258.1 2097.6L259.6 2097.6L261.1 2097.6L262.7 2097.7L264.5 2097.8L266.5 2098L268.6 2098.2L270.5 2098.2L272.1 2098.1L273.4 2097.9L274.4 2097.6L275.2 2097.1L276 2096.5L276.9 2095.8L277.7 2094.8L278.5 2093.5L279.3 2092.1L280.3 2090.9L281.6 2089.9L283.2 2089.1L285 2088.5L287 2088L289.1 2087.7L291 2087.5L293 2087.5L294.9 2087.6L296.9 2087.8L298.7 2088.2L300.5 2088.7L302 2089.4L303.4 2090.5L304.7 2091.6L306 2092.6L307.6 2093.4L309.3 2094L311.2 2094.5L313.1 2094.9L315.1 2095.1L317 2095.3L319 2095.3L321 2095.1L323 2094.8L324.9 2094.6L326.5 2094.6L327.7 2094.9L328.6 2095.5L329.3 2096.1L330.2 2096.7L331.2 2097L332.4 2097L333.8 2096.9L335.3 2096.7L336.8 2096.3L338.3 2095.8L339.7 2095L341.1 2094L342.5 2092.9L343.9 2091.9L345.3 2091L346.8 2090.5L348.2 2090L349.6 2089.7L351 2089.3L352.4 2088.7L353.9 2087.8L355.3 2086.8L356.8 2085.7L358.2 2084.7L359.5 2084L360.8 2083.4L362 2083.1L363.1 2082.8L364.3 2082.7L365.4 2082.8L366.6 2083.2L367.8 2083.9L369 2084.6L370.2 2085.1L371.3 2085.1L372.3 2084.6L373.3 2083.6L374.2 2082.3L375.1 2080.9L376 2079.2L377 2077.3L377.8 2075.1L378.7 2072.7L379.7 2070.5L380.8 2068.6L382 2067L383.4 2065.6L384.9 2064.4L386.4 2063.4L387.9 2062.7L389.3 2062.3L390.7 2062.1L392.1 2062.1L393.5 2062.3L394.9 2062.7L396.4 2063.3L397.9 2064L399.4 2065L400.8 2066.1L402 2067.4L403.1 2069L404.1 2070.9L405 2073L405.8 2075L406.8 2076.9L407.7 2078.7L408.5 2080.7L409.4 2082.5L410.4 2084.1L411.5 2085.1L412.7 2085.6L414.1 2085.6L415.6 2085.3L417.1 2084.9L418.6 2084.7L420 2084.6L421.5 2084.7L423 2084.7L424.4 2084.5L425.6 2084L426.7 2083L427.7 2081.8L428.6 2080.4L429.5 2078.7L430.4 2076.9L431.3 2074.7L432.1 2072.2L433 2069.5L434 2067.1L435.1 2065.1L436.4 2063.6L437.8 2062.6L439.2 2061.7L440.7 2061L442.2 2060.3L443.6 2059.6L445 2058.9L446.4 2058.4L447.8 2058L449.3 2058L450.7 2058.2L452.1 2058.7L453.5 2059.5L454.9 2060.4L456.3 2061.5L457.7 2063L459.1 2064.9L460.4 2066.9L461.9 2068.6L463.4 2069.8L465.2 2070.4L467.2 2070.5L469.2 2070.4L471.1 2070.1L472.9 2069.8L474.5 2069.5L476 2069L477.4 2068.5L478.7 2067.9L480 2067.4L481.1 2066.9L482 2066.2L482.9 2065.6L483.8 2065.2L484.7 2065.1L485.6 2065.4L486.5 2066.1L487.3 2067L488.3 2067.9L489.4 2068.6L490.8 2069.2L492.5 2069.8L494.2 2070.3L495.8 2070.7L496.8 2071" stroke="#0808f2" stroke-width="7.3" stroke-linecap="round" stroke-linejoin="round" fill="none" clip-path="url(#clip_blue_g)"/>
<path d="M103.2 1928.7V2106.2H496.8V1928.7" stroke="#1410b4" stroke-width="1.7" fill="none"/>
<path d="M190.7 2106.2V2101.2M300 2106.2V2101.2M409.3 2106.2V2101.2M103.2 2024.3H108.2M103.2 1938H108.2M496.8 1969.7H491.8" stroke="#1410b4" stroke-width="1.5" fill="none"/>
<g fill="#1410b4" font-size="31"><text x="190.7" y="2144.2" text-anchor="middle">-100</text><text x="300" y="2144.2" text-anchor="middle">0</text><text x="409.3" y="2144.2" text-anchor="middle">100</text><text x="96.7" y="2036.8" text-anchor="end">20</text><text x="96.7" y="1950.5" text-anchor="end">40</text><text x="503.8" y="1980.4">10</text><text x="503.8" y="2116.9">0</text></g>
<clipPath id="clip_orange_g"><rect x="657.6" y="1928.7" width="394" height="177.5"/></clipPath>
<path d="M659.6 2106.3H684.1M699.5 2106.3H779.9M950.7 2106.3H1049.6M659.6 2102H814.8M837.6 2102H862.1M880.5 2102H954.1M974.9 2102H1034.2M659.6 2097.7H695.5M702.7 2097.7H775.3M780.4 2097.7H812.5M817.5 2097.7H848.5M720.1 2093.3H853.7M877.3 2093.3H1009.1M659.6 2089H722.3M740.4 2089H813.8M832.4 2089H975.8M977.8 2089H1049.6M659.6 2084.7H780.1M958.4 2084.7H1041.9M706.5 2080.4H838.8M850.7 2080.4H966.6M659.6 2076.1H757.4M779.2 2076.1H871.9M981.8 2076.1H1049.6M659.6 2071.8H720M744.6 2071.8H765.7M866 2071.8H978.2M999.3 2071.8H1049.6M659.6 2067.4H771.8M793 2067.4H872.5M893.6 2067.4H983.6M996.3 2067.4H1049.6M659.6 2063.1H686.8M703.1 2063.1H755.3M780.3 2063.1H842.3M1029.2 2063.1H1049.6M659.6 2058.8H725.6M1002.6 2058.8H1036.5M1041.8 2058.8H1049.6M659.6 2054.5H764.9M773.1 2054.5H911.5M915.5 2054.5H992.8M1014.7 2054.5H1049.6M659.6 2050.2H697.2M721.7 2050.2H777.9M791.7 2050.2H938.3M953.9 2050.2H1008M1022.3 2050.2H1049.6M659.6 2045.9H710M720.6 2045.9H770.1M775.3 2045.9H859.8M873.1 2045.9H907.6M971 2045.9H1049.6M659.6 2041.6H722.3M733.5 2041.6H807M930.1 2041.6H1049.6M659.6 2037.2H755.9M777.6 2037.2H868.2M872.4 2037.2H930M954.4 2037.2H1049.6M659.6 2032.9H765M786.4 2032.9H849.2M862.1 2032.9H980.6M998.7 2032.9H1049.6M659.6 2028.6H786.2M810.4 2028.6H847.2M863.1 2028.6H972.2M974.8 2028.6H1019.8M1039.1 2028.6H1049.6M659.6 2024.3H774.1M783.6 2024.3H854.9M965 2024.3H989.9M1003.9 2024.3H1049.6M734.1 2020H802.3M816 2020H941.9M965.8 2020H1049.6M659.6 2015.7H804.3M811.1 2015.7H911.2M926.4 2015.7H984.9M990.5 2015.7H1044.9M659.6 2011.4H772.4M842.4 2011.4H891.5M659.6 2007H762.5M789.3 2007H931.1M659.6 2002.7H684.3M692 2002.7H797.8M802.7 2002.7H957.2M961.4 2002.7H999.3M1004.1 2002.7H1049.6M659.6 1994.1H771.7M793.3 1994.1H911.8M929.3 1994.1H960.1M971.1 1994.1H1049.6M659.6 1989.8H776.1M799.5 1989.8H947.8M962.3 1989.8H1049.6M659.6 1985.5H688.8M711 1985.5H843.1M852.6 1985.5H932M659.6 1981.2H703.4M722.5 1981.2H812.8M928.2 1981.2H1002.1M1024.3 1981.2H1049.6M659.6 1976.8H815.9M833.7 1976.8H940M964.9 1976.8H1049.6M756.9 1972.5H903.1M919.8 1972.5H1048.1M659.6 1968.2H794.6M868.1 1968.2H910.7M928.2 1968.2H970.5M979.7 1968.2H1049.6M659.6 1963.9H776.7M1028.9 1963.9H1049.6M774.2 1959.6H843.1M858.6 1959.6H960.1M973.8 1959.6H1049.6M659.6 1955.3H763.4M782.3 1955.3H870M889.2 1955.3H927.5M1044.8 1955.3H1049.6M659.6 1950.9H728.1M738.8 1950.9H884.5M901.5 1950.9H1009.3M1018 1950.9H1049.6M795.5 1946.6H833.3M903.8 1946.6H928.2M942.6 1946.6H1048.1M659.6 1942.3H739M761.5 1942.3H909.4M926.4 1942.3H1049.6M659.6 1938H744.4M749.3 1938H819M842 1938H867.4M973.4 1938H1049.6M693.8 1933.7H818.6M829.5 1933.7H861.4M865.5 1933.7H1015.7M1040.2 1933.7H1049.6" stroke="#f0f0f0" stroke-width="1" fill="none"/>
<path d="M682.6 2102h0M737.5 2102h0M740.2 2102h0M743.4 2102h0M746.3 2102h0M1045.1 2102h0M701.5 2089h0M710.8 2089h0M1005.5 2089h0M793.6 2084.7h0M979.2 2084.7h0M714.2 2080.4h0M717.5 2080.4h0M720.4 2080.4h0M723.5 2080.4h0M738.9 2080.4h0M741.6 2080.4h0M744.7 2080.4h0M747.6 2080.4h0M658.7 2076.1h0M738.3 2076.1h0M741.8 2076.1h0M744.8 2076.1h0M748 2076.1h0M668.9 2071.8h0M661.5 2067.4h0M1034 2067.4h0M1037.6 2067.4h0M791.8 2063.1h0M731.1 2058.8h0M708.5 2054.5h0M711.5 2054.5h0M714.9 2054.5h0M717.9 2054.5h0M720.9 2054.5h0M723.9 2054.5h0M727.2 2054.5h0M672.6 2041.6h0M675.5 2041.6h0M678.5 2041.6h0M681.2 2041.6h0M784.7 2041.6h0M701.9 2037.2h0M704.7 2037.2h0M707.7 2037.2h0M710.5 2037.2h0M746.8 2037.2h0M781 2032.9h0M732.6 2020h0M764.9 2020h0M689.9 2015.7h0M693.4 2015.7h0M696.6 2015.7h0M699.6 2015.7h0M742.5 2015.7h0M745.9 2015.7h0M748.6 2015.7h0M751.9 2015.7h0M767 2015.7h0M770 2015.7h0M773.4 2015.7h0M776.3 2015.7h0M791.4 2015.7h0M984 2015.7h0M778 2011.4h0M781.3 2011.4h0M757.5 2007h0M760.6 2007h0M763.7 2007h0M766.7 2007h0M846.6 2007h0M849.1 2007h0M851.8 2007h0M854.4 2007h0M826 2002.7h0M671.5 1998.4h0M675 1998.4h0M678.7 1998.4h0M682.1 1998.4h0M707.6 1998.4h0M1031 1998.4h0M732.8 1994.1h0M735.7 1994.1h0M738.5 1994.1h0M741.2 1994.1h0M763.3 1994.1h0M766.3 1994.1h0M769.2 1994.1h0M772.6 1994.1h0M854.2 1989.8h0M919.8 1989.8h0M926 1989.8h0M930.7 1989.8h0M987 1989.8h0M867.7 1985.5h0M872.4 1985.5h0M677.2 1981.2h0M686.5 1981.2h0M723.5 1981.2h0M727.9 1981.2h0M770.8 1981.2h0M791.5 1981.2h0M876.2 1981.2h0M879.2 1981.2h0M938.7 1981.2h0M984.1 1981.2h0M724.9 1976.8h0M727.5 1976.8h0M730.1 1976.8h0M732.9 1976.8h0M908.7 1976.8h0M966.6 1976.8h0M970.6 1976.8h0M827 1972.5h0M1037.1 1972.5h0M1046.4 1972.5h0M1050.3 1972.5h0M1021.7 1968.2h0M1050.2 1968.2h0M674.4 1963.9h0M698.1 1963.9h0M850.3 1963.9h0M946.5 1963.9h0M951.4 1963.9h0M667.6 1959.6h0M670.7 1959.6h0M867.8 1959.6h0M989.8 1955.3h0M677.7 1942.3h0M1050.3 1938h0M712.2 1933.7h0M715.7 1933.7h0M718.4 1933.7h0M726.4 1933.7h0M729.2 1933.7h0M739.3 1933.7h0M742.5 1933.7h0M933 1933.7h0" stroke="#e07d20" stroke-width="4.3" stroke-linecap="round" fill="none" clip-path="url(#clip_orange_g)"/>
<path d="M658.6 2054.4L659.6 2054.9L660.9 2055.7L662.5 2056.5L664 2057.3L665.4 2058L666.4 2058.5L667.4 2059L668.3 2059.5L669.2 2059.9L670.1 2060.3L671 2060.8L671.9 2061.3L672.8 2061.8L673.8 2062.3L674.8 2062.7L675.9 2063L677.1 2063.1L678.4 2063.3L679.6 2063.5L680.7 2063.9L681.7 2064.4L682.6 2065.1L683.5 2065.9L684.4 2066.7L685.4 2067.4L686.6 2068.3L687.8 2069.3L689 2070.2L690.2 2070.9L691.3 2071L692.4 2070.6L693.4 2069.8L694.3 2068.6L695.2 2067.1L696.1 2065.1L696.8 2062.6L697.6 2059.6L698.2 2056.2L698.9 2052.5L699.6 2048.5L700.3 2044.3L701 2039.6L701.7 2034.7L702.4 2029.8L703.1 2024.9L703.8 2020.2L704.6 2015.6L705.3 2010.9L706 2006.2L706.7 2001.3L707.4 1996.2L708.1 1991L708.8 1985.7L709.5 1980.4L710.2 1975.3L710.9 1970.3L711.6 1965.2L712.3 1960.4L713 1955.8L713.8 1951.7L714.7 1948.1L715.6 1945L716.6 1942.2L717.6 1939.7L718.5 1937.5L719.3 1935.7L719.9 1934.2L720.6 1933.1L721.3 1932.2L722 1931.6L722.9 1931.2L723.8 1931.1L724.8 1931.2L725.8 1931.8L726.8 1932.8L727.7 1934.4L728.6 1936.5L729.6 1939L730.5 1941.8L731.5 1944.6L732.4 1947.6L733.4 1950.9L734.4 1954.3L735.3 1957.8L736.2 1961.1L737 1964.5L737.8 1968L738.5 1971.4L739.1 1974.7L739.7 1977.7L740.3 1980.4L740.7 1983L741.1 1985.3L741.5 1987.5L742.1 1989.5L742.9 1991.2L743.8 1992.7L744.8 1994.1L745.8 1995.3L746.8 1996.6L747.8 1997.8L748.7 1998.9L749.7 2000L750.6 2001.2L751.6 2002.5L752.5 2003.9L753.5 2005.4L754.5 2007.1L755.4 2008.8L756.3 2010.7L757.1 2012.9L757.8 2015.3L758.5 2017.8L759.1 2020.3L759.8 2022.6L760.5 2024.6L761.2 2026.5L761.9 2028.3L762.6 2030.2L763.4 2032L764.2 2033.9L765.2 2035.9L766.1 2037.8L767.1 2039.7L768.1 2041.4L769 2043L769.9 2044.5L770.8 2045.9L771.8 2047.2L772.8 2048.5L773.9 2049.8L775.1 2050.9L776.4 2052L777.6 2053.1L778.7 2054.4L779.7 2056L780.6 2057.6L781.5 2059.4L782.4 2061.1L783.4 2062.7L784.5 2064.2L785.7 2065.6L786.9 2067L788.1 2068.4L789.3 2069.8L790.5 2071.2L791.7 2072.6L792.9 2074L794.1 2075.4L795.2 2076.9L796.4 2078.5L797.6 2080.2L798.7 2081.9L799.9 2083.6L801.2 2085.1L802.5 2086.5L803.9 2087.8L805.3 2089L806.8 2090.1L808.2 2091L809.7 2091.9L811.1 2092.5L812.5 2093.1L813.9 2093.8L815.3 2094.6L816.8 2095.7L818.2 2097L819.7 2098.3L821.1 2099.5L822.4 2100.5L823.7 2101.3L824.9 2102L826.1 2102.6L827.2 2102.9L828.3 2102.9L829.3 2102.4L830.2 2101.5L831.1 2100.4L832 2099.3L833 2098.1L834.1 2097L835.3 2095.7L836.4 2094.5L837.7 2093.3L838.9 2092.2L840.3 2091.4L841.7 2090.7L843.1 2090.1L844.6 2089.4L846 2088.7L847.4 2087.8L848.7 2086.9L850.1 2085.9L851.5 2084.9L853.1 2084L854.9 2082.9L856.8 2081.8L858.8 2080.7L860.7 2079.8L862.6 2079.2L864.3 2079.1L866.1 2079.3L867.7 2079.7L869.3 2080.1L870.8 2080.4L872.2 2080.6L873.4 2080.6L874.6 2080.7L875.7 2081L876.7 2081.6L877.7 2082.6L878.6 2084L879.4 2085.5L880.4 2087.1L881.5 2088.7L882.7 2090.3L884.1 2092.1L885.6 2093.8L887.1 2095.5L888.5 2097L889.9 2098.2L891.3 2099.4L892.6 2100.4L894.1 2101.2L895.6 2101.7L897.4 2101.8L899.3 2101.7L901.3 2101.3L903.3 2100.9L905.1 2100.5L906.7 2100.2L908.1 2100.1L909.5 2099.8L910.9 2099.2L912.2 2098.1L913.4 2096.3L914.5 2094L915.7 2091.3L916.8 2088.7L918.1 2086.3L919.4 2084.2L920.8 2082.2L922.2 2080.3L923.6 2078.5L925.1 2076.9L926.7 2075.3L928.4 2073.7L930.1 2072.3L931.8 2071.3L933.4 2071L934.9 2071.3L936.4 2072.1L937.8 2073.4L939.2 2075L940.5 2076.9L941.8 2079.3L942.9 2082.3L944.1 2085.5L945.2 2088.5L946.4 2091L947.5 2093L948.6 2094.6L949.7 2096L950.9 2097.1L952.3 2098.1L954 2099.1L956 2100L958.1 2100.6L960 2100.9L961.8 2100.5L963.2 2099.4L964.4 2097.7L965.5 2095.6L966.5 2093.3L967.7 2091L968.8 2088.8L970 2086.5L971.1 2084.1L972.3 2081.6L973.6 2079.2L974.9 2076.7L976.3 2074L977.8 2071.4L979.2 2069.1L980.6 2067.4L982.1 2066.4L983.5 2065.9L985 2065.7L986.4 2065.9L987.7 2066.2L989 2066.9L990.2 2067.9L991.4 2069.1L992.5 2070.6L993.6 2072.2L994.6 2074L995.6 2076.2L996.4 2078.6L997.4 2080.8L998.4 2082.8L999.4 2084.4L1000.6 2085.9L1001.8 2087.2L1003 2088.5L1004.3 2089.9L1005.6 2091.4L1007.1 2093.1L1008.5 2094.7L1010 2096.1L1011.3 2097L1012.6 2097.4L1013.8 2097.5L1014.9 2097.2L1016.1 2096.7L1017.3 2095.8L1018.5 2094.4L1019.7 2092.6L1020.9 2090.5L1022.1 2088.3L1023.2 2086.3L1024.2 2084.5L1025.1 2082.8L1026 2081L1027 2079.1L1027.9 2076.9L1028.8 2074.3L1029.7 2071.3L1030.6 2068.3L1031.6 2065.3L1032.6 2062.7L1033.7 2060.4L1034.9 2058.2L1036.2 2056.2L1037.4 2054.5L1038.5 2053.3L1039.5 2052.4L1040.3 2052L1041.2 2051.8L1042.1 2051.9L1043.2 2052.1L1044.7 2052.5L1046.5 2053.1L1048.4 2053.9L1050 2054.7L1051.1 2055.1" stroke="#f7831d" stroke-width="7.3" stroke-linecap="round" stroke-linejoin="round" fill="none" clip-path="url(#clip_orange_g)"/>
<path d="M657.6 1928.7V2106.2H1051.6V1928.7" stroke="#d4842f" stroke-width="1.7" fill="none"/>
<path d="M745.2 2106.2V2101.2M854.6 2106.2V2101.2M964 2106.2V2101.2M657.6 2024.3H662.6M657.6 1938H662.6M1051.6 2001H1046.6" stroke="#d4842f" stroke-width="1.5" fill="none"/>
<g fill="#d4842f" font-size="31"><text x="745.2" y="2144.2" text-anchor="middle">-100</text><text x="854.6" y="2144.2" text-anchor="middle">0</text><text x="964" y="2144.2" text-anchor="middle">100</text><text x="651.1" y="2036.8" text-anchor="end">20</text><text x="651.1" y="1950.5" text-anchor="end">40</text><text x="1058.6" y="2011.7">10</text><text x="1058.6" y="2116.9">0</text></g>
<clipPath id="hclip_g"><rect x="1212.6" y="1909.2" width="394.5" height="217.1"/></clipPath>
<path d="M1229.8 2105.8H1262.5V2089.4H1295.3V2049.4H1328V2030.8H1360.8V1936.2H1393.5V1946.1H1426.3V1926.8H1459V1959.9H1491.8V2005.2H1524.5V2025.2H1557.3V2065.9H1590V2072.9H1622.8V2072.9H1655.5V2072.9" stroke="#0a0af0" stroke-width="6.3" stroke-linejoin="miter" stroke-linecap="butt" fill="none" clip-path="url(#hclip_g)"/>
<path d="M1229.8 2101.5H1262.5V2085.2H1295.3V2062.3H1328V2018.7H1360.8V1951H1393.5V1932.1H1426.3V1929.7H1459V1959.9H1491.8V2013.1H1524.5V2020.4H1557.3V2061.5H1590V2064.7H1622.8V2064.7H1655.5V2064.7" stroke="#f7821c" stroke-width="6.3" stroke-linejoin="miter" stroke-linecap="butt" fill="none" clip-path="url(#hclip_g)"/>
<path d="M1212.6 1929.2V2106.3H1607.1" stroke="#1a1a1a" stroke-width="1.5" fill="none"/>
<path d="M1344.4 2106.3V2101.3M1475.4 2106.3V2101.3M1606.4 2106.3V2101.3M1212.6 1992.6H1217.6" stroke="#1a1a1a" stroke-width="1.4" fill="none"/>
<g fill="#111" font-size="31"><text x="1213.4" y="2144.3" text-anchor="middle">-2</text><text x="1344.4" y="2144.3" text-anchor="middle">0</text><text x="1475.4" y="2144.3" text-anchor="middle">2</text><text x="1606.4" y="2144.3" text-anchor="middle">4</text><text x="1206.6" y="2117" text-anchor="end">0</text><text x="1206.6" y="2003.3" text-anchor="end">10</text></g>
<path d="M1530.2 1938.1H1552" stroke="#0a0af0" stroke-width="7" fill="none"/>
<path d="M1530.2 1985.3H1552" stroke="#f7821c" stroke-width="7" fill="none"/>
<g fill="#111" font-size="36"><text x="1560.9" y="1951.9">Head-left</text><text x="1560.9" y="1999.1">Head-right</text></g>
<clipPath id="clip_blue_h"><rect x="103.2" y="2242.7" width="393.6" height="177.5"/></clipPath>
<path d="M183.1 2420.3h0M186.6 2420.3h0M189.6 2420.3h0M200 2420.3h0M203.6 2420.3h0M206.5 2420.3h0M209.6 2420.3h0M212.9 2420.3h0M216.1 2420.3h0M219.4 2420.3h0M222.5 2420.3h0M225.6 2420.3h0M257.4 2420.3h0M287.1 2420.3h0M440.5 2420.3h0M128.4 2416h0M146.2 2416h0M149.2 2416h0M152 2416h0M155.5 2416h0M158.1 2416h0M161.6 2416h0M164.3 2416h0M167.6 2416h0M170.8 2416h0M173.8 2416h0M176.6 2416h0M179.7 2416h0M182.9 2416h0M185.9 2416h0M188.9 2416h0M192 2416h0M198 2416h0M200.8 2416h0M203.7 2416h0M206.3 2416h0M209.6 2416h0M212.6 2416h0M215.3 2416h0M471.1 2416h0M490.8 2416h0M139.8 2411.7h0M161.5 2411.7h0M176.1 2411.7h0M185.3 2411.7h0M209.3 2411.7h0M212.2 2411.7h0M215.1 2411.7h0M226.7 2411.7h0M159.2 2407.3h0M169.9 2407.3h0M190.1 2407.3h0M208.3 2407.3h0M219.1 2407.3h0M352.1 2407.3h0M438.4 2407.3h0M147 2403h0M156.6 2403h0M165.4 2403h0M176.2 2403h0M179 2403h0M182.1 2403h0M184.9 2403h0M187.6 2403h0M190.7 2403h0M193.8 2403h0M196.5 2403h0M199.6 2403h0M202.4 2403h0M205.4 2403h0M208.2 2403h0M420.3 2403h0M423.5 2403h0M427.2 2403h0M430.4 2403h0M433.8 2403h0M451 2403h0M458.9 2403h0M465.1 2403h0M181.5 2398.7h0M198.1 2398.7h0M239.6 2398.7h0M247.6 2398.7h0M317.3 2398.7h0M328.9 2398.7h0M424.9 2398.7h0M485.4 2398.7h0M488.8 2398.7h0M159.9 2394.4h0M162.9 2394.4h0M166.2 2394.4h0M169.2 2394.4h0M171.9 2394.4h0M175 2394.4h0M178.2 2394.4h0M181.4 2394.4h0M184.4 2394.4h0M187.3 2394.4h0M190.5 2394.4h0M193.2 2394.4h0M196.2 2394.4h0M199.7 2394.4h0M202.4 2394.4h0M244.4 2394.4h0M247.9 2394.4h0M408.3 2394.4h0M104.1 2390.1h0M171.2 2390.1h0M174.4 2390.1h0M178 2390.1h0M181.1 2390.1h0M183.9 2390.1h0M187.2 2390.1h0M190.5 2390.1h0M193.5 2390.1h0M196.5 2390.1h0M211.4 2390.1h0M223.9 2390.1h0M240.6 2390.1h0M358.4 2390.1h0M415.1 2390.1h0M489.2 2390.1h0M492.5 2390.1h0M496.1 2390.1h0M114.6 2385.8h0M140.4 2385.8h0M143.1 2385.8h0M145.7 2385.8h0M148.4 2385.8h0M158.8 2385.8h0M162.1 2385.8h0M165.1 2385.8h0M167.9 2385.8h0M188.6 2385.8h0M214.2 2385.8h0M240.7 2385.8h0M336.8 2385.8h0M348.3 2385.8h0M448.5 2385.8h0M106.8 2381.4h0M123 2381.4h0M128.7 2381.4h0M132.1 2381.4h0M135.9 2381.4h0M149.4 2381.4h0M152.8 2381.4h0M155.8 2381.4h0M159 2381.4h0M161.9 2381.4h0M165.1 2381.4h0M168 2381.4h0M171.2 2381.4h0M174.2 2381.4h0M177 2381.4h0M180.5 2381.4h0M183.5 2381.4h0M186.2 2381.4h0M189.4 2381.4h0M199.2 2381.4h0M202.3 2381.4h0M205 2381.4h0M207.8 2381.4h0M210.9 2381.4h0M213.9 2381.4h0M216.9 2381.4h0M219.8 2381.4h0M228.8 2381.4h0M359.3 2381.4h0M361.5 2381.4h0M364.2 2381.4h0M413.4 2381.4h0M463.3 2381.4h0M467 2381.4h0M479.7 2381.4h0M482.9 2381.4h0M114.9 2377.1h0M121.5 2377.1h0M173.8 2377.1h0M195.1 2377.1h0M202.6 2377.1h0M214.5 2377.1h0M237.4 2377.1h0M290.8 2377.1h0M125.1 2372.8h0M176.8 2372.8h0M204 2372.8h0M104.7 2368.5h0M118.2 2368.5h0M154.2 2368.5h0M157.3 2368.5h0M160.5 2368.5h0M163.2 2368.5h0M166.6 2368.5h0M169.6 2368.5h0M172.6 2368.5h0M183.9 2368.5h0M192.4 2368.5h0M197.7 2368.5h0M200.9 2368.5h0M203.5 2368.5h0M206.8 2368.5h0M209.3 2368.5h0M212.4 2368.5h0M215.1 2368.5h0M218.1 2368.5h0M221 2368.5h0M233.6 2368.5h0M330.4 2368.5h0M139.1 2364.2h0M151.8 2364.2h0M154.7 2364.2h0M157.4 2364.2h0M160.4 2364.2h0M163.4 2364.2h0M166.2 2364.2h0M169 2364.2h0M172.2 2364.2h0M174.8 2364.2h0M180.8 2364.2h0M183.9 2364.2h0M187.6 2364.2h0M191.2 2364.2h0M225.7 2364.2h0M385.3 2364.2h0M139.2 2359.9h0M169.3 2359.9h0M172.2 2359.9h0M174.8 2359.9h0M177.6 2359.9h0M180.5 2359.9h0M183.1 2359.9h0M186.1 2359.9h0M188.8 2359.9h0M195.6 2359.9h0M202.4 2359.9h0M205.4 2359.9h0M208.3 2359.9h0M323 2359.9h0M118.4 2355.6h0M121.1 2355.6h0M124 2355.6h0M126.7 2355.6h0M129.7 2355.6h0M132.4 2355.6h0M142.8 2355.6h0M161.2 2355.6h0M168.9 2355.6h0M208.4 2355.6h0M214.3 2355.6h0M230.2 2355.6h0M292.8 2355.6h0M329.2 2355.6h0M340.7 2355.6h0M371 2355.6h0M396.1 2355.6h0M400.2 2355.6h0M415 2355.6h0M441.2 2355.6h0M444.6 2355.6h0M449 2355.6h0M451.9 2355.6h0M480.7 2355.6h0M486.4 2355.6h0M491.9 2355.6h0M135.7 2351.2h0M138.8 2351.2h0M141.6 2351.2h0M144.7 2351.2h0M147.3 2351.2h0M150.3 2351.2h0M153.3 2351.2h0M156.2 2351.2h0M159 2351.2h0M161.8 2351.2h0M165 2351.2h0M167.8 2351.2h0M170.5 2351.2h0M173.8 2351.2h0M176.4 2351.2h0M179.4 2351.2h0M185.7 2351.2h0M192.1 2351.2h0M200.1 2351.2h0M202.8 2351.2h0M205.6 2351.2h0M208.6 2351.2h0M211.1 2351.2h0M214 2351.2h0M224.6 2351.2h0M233.7 2351.2h0M240.7 2351.2h0M146.1 2346.9h0M179.5 2346.9h0M226.8 2346.9h0M458.9 2346.9h0M166.7 2342.6h0M187.4 2342.6h0M190.8 2342.6h0M201.6 2342.6h0M204.2 2342.6h0M207 2342.6h0M209.6 2342.6h0M264.4 2342.6h0M292.9 2342.6h0M416 2342.6h0M231 2338.3h0M178.3 2334h0M185.4 2334h0M188.5 2334h0M191.7 2334h0M194.8 2334h0M198.4 2334h0M201.3 2334h0M205.1 2334h0M210.5 2334h0M135.8 2329.7h0M139.1 2329.7h0M142.1 2329.7h0M145.5 2329.7h0M148.7 2329.7h0M152.1 2329.7h0M158.5 2329.7h0M162.4 2329.7h0M165.4 2329.7h0M176.2 2329.7h0M179 2329.7h0M182.3 2329.7h0M185.1 2329.7h0M188.2 2329.7h0M191.2 2329.7h0M194.5 2329.7h0M197.3 2329.7h0M200.7 2329.7h0M203.5 2329.7h0M206.5 2329.7h0M209.9 2329.7h0M212.8 2329.7h0M215.7 2329.7h0M218.9 2329.7h0M222.1 2329.7h0M225.1 2329.7h0M227.8 2329.7h0M230.8 2329.7h0M233.9 2329.7h0M236.9 2329.7h0M338 2329.7h0M389.8 2329.7h0M393.2 2329.7h0M408.2 2329.7h0M411 2329.7h0M413.9 2329.7h0M416.6 2329.7h0M419.3 2329.7h0M421.9 2329.7h0M429.8 2329.7h0M458 2329.7h0M461.2 2329.7h0M464.9 2329.7h0M468.1 2329.7h0M109.4 2325.4h0M129.9 2325.4h0M150.5 2325.4h0M166.7 2325.4h0M176.2 2325.4h0M178.9 2325.4h0M181.9 2325.4h0M185.1 2325.4h0M187.9 2325.4h0M190.7 2325.4h0M193.9 2325.4h0M197.1 2325.4h0M199.9 2325.4h0M203 2325.4h0M205.6 2325.4h0M208.7 2325.4h0M211.7 2325.4h0M214.7 2325.4h0M217.6 2325.4h0M220.6 2325.4h0M223.6 2325.4h0M226.6 2325.4h0M254.6 2325.4h0M391.1 2325.4h0M394 2325.4h0M396.3 2325.4h0M399.3 2325.4h0M402 2325.4h0M404.8 2325.4h0M413.5 2325.4h0M416.8 2325.4h0M441.6 2325.4h0M444.4 2325.4h0M447.2 2325.4h0M449.7 2325.4h0M467.6 2325.4h0M486.1 2325.4h0M165.5 2321h0M179.3 2321h0M182.7 2321h0M185.5 2321h0M188.2 2321h0M191.4 2321h0M194.2 2321h0M197.5 2321h0M200.3 2321h0M203.1 2321h0M206 2321h0M209.1 2321h0M212.2 2321h0M215.2 2321h0M254 2321h0M292.4 2321h0M295 2321h0M297.6 2321h0M300.2 2321h0M299.8 2321h0M315.7 2321h0M387.7 2321h0M390.7 2321h0M393.6 2321h0M450.7 2321h0M483.3 2321h0M132.2 2316.7h0M149 2316.7h0M156.8 2316.7h0M159.9 2316.7h0M171.5 2316.7h0M174.4 2316.7h0M177.5 2316.7h0M180.3 2316.7h0M183.4 2316.7h0M186.3 2316.7h0M189.4 2316.7h0M192.3 2316.7h0M195.4 2316.7h0M198.2 2316.7h0M201.3 2316.7h0M204 2316.7h0M207 2316.7h0M210.2 2316.7h0M213.2 2316.7h0M215.8 2316.7h0M219.2 2316.7h0M221.7 2316.7h0M224.8 2316.7h0M228 2316.7h0M234.6 2316.7h0M237.7 2316.7h0M240.5 2316.7h0M243.3 2316.7h0M246.5 2316.7h0M271.5 2316.7h0M280.7 2316.7h0M284 2316.7h0M287.4 2316.7h0M290.7 2316.7h0M293.8 2316.7h0M296.9 2316.7h0M300.1 2316.7h0M117.2 2312.4h0M120.5 2312.4h0M124.3 2312.4h0M127.8 2312.4h0M133.5 2312.4h0M140.6 2312.4h0M153.2 2312.4h0M160.1 2312.4h0M169.4 2312.4h0M172.4 2312.4h0M175.8 2312.4h0M178.9 2312.4h0M182.2 2312.4h0M185.4 2312.4h0M197 2312.4h0M199.8 2312.4h0M202.8 2312.4h0M205.9 2312.4h0M209 2312.4h0M212 2312.4h0M215.3 2312.4h0M295.8 2312.4h0M476.6 2312.4h0M495.6 2312.4h0M104.4 2308.1h0M112.2 2308.1h0M115 2308.1h0M118 2308.1h0M120.5 2308.1h0M123.5 2308.1h0M126.3 2308.1h0M129.1 2308.1h0M132.2 2308.1h0M135.3 2308.1h0M138.2 2308.1h0M144 2308.1h0M155.4 2308.1h0M158.3 2308.1h0M160.9 2308.1h0M164.1 2308.1h0M166.7 2308.1h0M169.6 2308.1h0M172.8 2308.1h0M175.5 2308.1h0M178.3 2308.1h0M181.4 2308.1h0M183.9 2308.1h0M187.1 2308.1h0M189.9 2308.1h0M196.9 2308.1h0M200 2308.1h0M202.6 2308.1h0M205.8 2308.1h0M209 2308.1h0M212.2 2308.1h0M215.2 2308.1h0M218.1 2308.1h0M221.1 2308.1h0M224.2 2308.1h0M227.3 2308.1h0M230 2308.1h0M239.5 2308.1h0M266.8 2308.1h0M271.5 2308.1h0M286.5 2308.1h0M290.2 2308.1h0M293.2 2308.1h0M296.8 2308.1h0M300.2 2308.1h0M355.7 2308.1h0M373.8 2308.1h0M393.4 2308.1h0M395.5 2308.1h0M397.9 2308.1h0M449 2308.1h0M478.5 2308.1h0M481.7 2308.1h0M484.1 2308.1h0M487.3 2308.1h0M490 2308.1h0M492.8 2308.1h0M495.6 2308.1h0M148.2 2303.8h0M152.3 2303.8h0M169.4 2303.8h0M191 2303.8h0M300.2 2303.8h0M305.8 2303.8h0M308.8 2303.8h0M311.7 2303.8h0M314.3 2303.8h0M317.5 2303.8h0M320.3 2303.8h0M322.8 2303.8h0M332.4 2303.8h0M335.4 2303.8h0M338.2 2303.8h0M340.9 2303.8h0M343.9 2303.8h0M346.8 2303.8h0M349.6 2303.8h0M359 2303.8h0M365.5 2303.8h0M371.7 2303.8h0M375.8 2303.8h0M383.2 2303.8h0M386 2303.8h0M389.3 2303.8h0M392.6 2303.8h0M396.1 2303.8h0M399.3 2303.8h0M401.3 2303.8h0M420.9 2303.8h0M423.6 2303.8h0M426.7 2303.8h0M429.6 2303.8h0M432.4 2303.8h0M462.3 2303.8h0M178.2 2299.5h0M190.9 2299.5h0M193.9 2299.5h0M196.8 2299.5h0M199.5 2299.5h0M202.2 2299.5h0M205 2299.5h0M207.8 2299.5h0M210.8 2299.5h0M226.7 2299.5h0M235.7 2299.5h0M241.6 2299.5h0M245.1 2299.5h0M248.4 2299.5h0M252 2299.5h0M255.6 2299.5h0M258.8 2299.5h0M266 2299.5h0M279.9 2299.5h0M282.7 2299.5h0M285.3 2299.5h0M288.6 2299.5h0M291.4 2299.5h0M294 2299.5h0M297.2 2299.5h0M299.9 2299.5h0M313.3 2299.5h0M318 2299.5h0M370.3 2299.5h0M405.3 2299.5h0M106.8 2295.2h0M123 2295.2h0M132.5 2295.2h0M138.3 2295.2h0M141.7 2295.2h0M156.2 2295.2h0M160 2295.2h0M163.5 2295.2h0M169.1 2295.2h0M173.5 2295.2h0M179.5 2295.2h0M182.7 2295.2h0M185.7 2295.2h0M188.7 2295.2h0M192 2295.2h0M195 2295.2h0M198.1 2295.2h0M201.2 2295.2h0M204.3 2295.2h0M207.7 2295.2h0M210.8 2295.2h0M216.2 2295.2h0M224.4 2295.2h0M237.1 2295.2h0M309.1 2295.2h0M322 2295.2h0M324.7 2295.2h0M342.1 2295.2h0M351.9 2295.2h0M378.5 2295.2h0M384 2295.2h0M390.9 2295.2h0M423.7 2295.2h0M429.4 2295.2h0M471.9 2295.2h0M474.9 2295.2h0M477.9 2295.2h0M480.9 2295.2h0M493.8 2295.2h0M104.5 2290.8h0M111.9 2290.8h0M124 2290.8h0M128.6 2290.8h0M133.3 2290.8h0M135.8 2290.8h0M146.8 2290.8h0M152.3 2290.8h0M163.9 2290.8h0M170.4 2290.8h0M172.9 2290.8h0M175.7 2290.8h0M178.5 2290.8h0M191.1 2290.8h0M194 2290.8h0M197 2290.8h0M200 2290.8h0M203.5 2290.8h0M206.3 2290.8h0M209.6 2290.8h0M222.1 2290.8h0M277.8 2290.8h0M326.4 2290.8h0M333 2290.8h0M354.1 2290.8h0M362.8 2290.8h0M373.7 2290.8h0M393.2 2290.8h0M401 2290.8h0M412.5 2290.8h0M416.6 2290.8h0M426.7 2290.8h0M431.5 2290.8h0M473 2290.8h0M476.4 2290.8h0M479.9 2290.8h0M492.3 2290.8h0M140.5 2286.5h0M148.6 2286.5h0M152.8 2286.5h0M179.6 2286.5h0M191.2 2286.5h0M219.8 2286.5h0M241.5 2286.5h0M263.6 2286.5h0M272.9 2286.5h0M291.5 2286.5h0M317.2 2286.5h0M334.7 2286.5h0M432.4 2286.5h0M465 2286.5h0M470.7 2286.5h0M482.4 2286.5h0M491.8 2286.5h0M496 2286.5h0M139.8 2282.2h0M181.9 2282.2h0M185 2282.2h0M188.9 2282.2h0M192.1 2282.2h0M195.8 2282.2h0M197.9 2282.2h0M205.9 2282.2h0M209.4 2282.2h0M212.7 2282.2h0M222.2 2282.2h0M225.7 2282.2h0M232.9 2282.2h0M238.4 2282.2h0M254.3 2282.2h0M270.3 2282.2h0M395.7 2282.2h0M399 2282.2h0M430.3 2282.2h0M433.5 2282.2h0M442.3 2282.2h0M467 2282.2h0M495.6 2282.2h0M120.1 2277.9h0M130.3 2277.9h0M133.3 2277.9h0M143.7 2277.9h0M160.9 2277.9h0M163.8 2277.9h0M185.4 2277.9h0M188 2277.9h0M190.9 2277.9h0M201.5 2277.9h0M205 2277.9h0M210.5 2277.9h0M215.1 2277.9h0M242.5 2277.9h0M254.5 2277.9h0M281.9 2277.9h0M284.1 2277.9h0M296 2277.9h0M379.3 2277.9h0M382.9 2277.9h0M392.4 2277.9h0M396.6 2277.9h0M406.1 2277.9h0M409.5 2277.9h0M414.3 2277.9h0M423.9 2277.9h0M442.5 2277.9h0M448.7 2277.9h0M469.5 2277.9h0M491.3 2277.9h0M495.7 2277.9h0M113 2273.6h0M115.9 2273.6h0M143.8 2273.6h0M164.3 2273.6h0M170.6 2273.6h0M176 2273.6h0M188.5 2273.6h0M199.3 2273.6h0M203.8 2273.6h0M209.1 2273.6h0M219.6 2273.6h0M230.1 2273.6h0M233.5 2273.6h0M264.8 2273.6h0M295.9 2273.6h0M302.3 2273.6h0M313.3 2273.6h0M333.5 2273.6h0M337 2273.6h0M350.8 2273.6h0M355.5 2273.6h0M389.8 2273.6h0M394.3 2273.6h0M398 2273.6h0M404.7 2273.6h0M452.3 2273.6h0M488.3 2273.6h0M142 2269.3h0M160 2269.3h0M163 2269.3h0M165.8 2269.3h0M170.8 2269.3h0M178.7 2269.3h0M181.9 2269.3h0M201.9 2269.3h0M216.4 2269.3h0M224.4 2269.3h0M229.5 2269.3h0M288.8 2269.3h0M373.9 2269.3h0M379.6 2269.3h0M385.3 2269.3h0M408.2 2269.3h0M435.4 2269.3h0M444.4 2269.3h0M465.3 2269.3h0M473.4 2269.3h0M485.4 2269.3h0M113.2 2264.9h0M127.7 2264.9h0M130.7 2264.9h0M134.4 2264.9h0M142.2 2264.9h0M192.9 2264.9h0M209 2264.9h0M222 2264.9h0M233.6 2264.9h0M278.2 2264.9h0M292.2 2264.9h0M298.2 2264.9h0M300.8 2264.9h0M326.6 2264.9h0M346.3 2264.9h0M389.9 2264.9h0M450.8 2264.9h0M479.2 2264.9h0M489.1 2264.9h0M162 2260.6h0M202.5 2260.6h0M214 2260.6h0M122.8 2256.3h0M205.6 2256.3h0M313.7 2256.3h0M316.9 2256.3h0M472.1 2256.3h0M141.2 2252h0M143.7 2252h0M161 2252h0M167.8 2252h0M171.4 2252h0M174 2252h0M181 2252h0M190.8 2252h0M372.2 2252h0M495.9 2252h0M113.4 2247.7h0M130.5 2247.7h0M146.6 2247.7h0M157.5 2247.7h0M160.9 2247.7h0M164 2247.7h0M172.1 2247.7h0M175.1 2247.7h0M184.5 2247.7h0M188.1 2247.7h0M211.1 2247.7h0M216.9 2247.7h0M239.2 2247.7h0M263.6 2247.7h0M273.7 2247.7h0M282.7 2247.7h0M293.8 2247.7h0M297.1 2247.7h0M301.6 2247.7h0M378.4 2247.7h0" stroke="#1411b4" stroke-width="4.3" stroke-linecap="round" fill="none" clip-path="url(#clip_blue_h)"/>
<path d="M103.2 2388.5L104.7 2387.9L106.8 2387.2L109.2 2386.2L111.7 2385.1L113.9 2383.8L115.9 2382.2L117.8 2380.3L119.6 2378.3L121.5 2376.2L123.3 2374.3L125.2 2372.7L127.1 2371.2L129 2369.7L130.9 2368L132.8 2366.1L134.7 2363.8L136.7 2361.4L138.6 2358.8L140.5 2356L142.2 2353.1L143.8 2350.1L145.2 2347L146.6 2343.7L147.9 2340.2L149.3 2336.6L150.7 2332.7L152.2 2328.6L153.6 2324.4L155 2319.9L156.4 2315.3L157.8 2310.4L159.2 2305.1L160.7 2299.8L162.1 2294.4L163.5 2289.3L164.9 2284.3L166.3 2279.2L167.7 2274.4L169.2 2269.8L170.6 2265.7L172 2262.1L173.4 2259L174.8 2256.2L176.2 2253.7L177.7 2251.5L179 2249.7L180.4 2248.3L181.7 2247.3L183.2 2246.4L184.7 2245.6L186.5 2245.1L188.5 2244.7L190.5 2244.5L192.4 2244.5L194.2 2244.4L195.8 2244.4L197.3 2244.4L198.7 2244.5L200.1 2244.9L201.3 2245.6L202.4 2246.7L203.3 2248L204.2 2249.7L205.1 2251.6L206 2253.9L206.9 2256.6L207.9 2259.8L208.8 2263.2L209.8 2266.8L210.7 2270.4L211.7 2274L212.6 2277.7L213.6 2281.5L214.5 2285.4L215.4 2289.3L216.4 2293.4L217.3 2297.7L218.3 2302L219.2 2306.3L220.2 2310.6L221.1 2314.8L222.1 2319.1L223 2323.3L224 2327.6L224.9 2331.8L225.8 2336.2L226.8 2340.6L227.7 2344.9L228.7 2349.1L229.6 2353.1L230.6 2356.8L231.5 2360.3L232.5 2363.6L233.4 2366.7L234.3 2369.6L235.3 2372.3L236.1 2374.7L237 2376.9L238 2379.1L239.1 2381.4L240.3 2383.9L241.6 2386.4L243 2388.9L244.5 2391.2L246.2 2393.2L247.9 2395L249.6 2396.6L251.5 2398L253.5 2399.3L255.6 2400.3L257.8 2401.3L260.3 2402L262.7 2402.6L265.2 2403L267.4 2403.2L269.5 2403L271.5 2402.5L273.4 2401.9L275.2 2401.1L276.9 2400.3L278.4 2399.5L279.9 2398.5L281.2 2397.4L282.6 2396.4L283.9 2395.6L285.3 2394.9L286.7 2394.4L288 2393.9L289.5 2393.6L291 2393.2L292.7 2393L294.4 2392.8L296.2 2392.8L298.2 2392.7L300.5 2392.8L303 2392.9L305.9 2393.1L308.9 2393.4L311.9 2393.6L314.6 2393.7L317.2 2393.6L319.5 2393.4L321.8 2393.2L324.1 2393.1L326.5 2393.2L328.8 2393.7L331.2 2394.4L333.5 2395.2L335.9 2396L338.3 2396.8L340.7 2397.5L343.1 2398.3L345.5 2399L347.9 2399.7L350.1 2400.3L352.1 2401L354 2401.6L355.9 2402.2L357.7 2402.6L359.5 2402.7L361.4 2402.5L363.3 2402L365.2 2401.4L367.1 2400.4L369 2399.1L370.9 2397.4L372.7 2395.3L374.6 2392.9L376.5 2390.6L378.4 2388.5L380.3 2386.6L382.3 2384.8L384.2 2383L386.1 2381.5L387.9 2380.2L389.4 2379.3L390.9 2378.7L392.2 2378.2L393.6 2378L394.9 2377.9L396.3 2378L397.7 2378.3L399 2378.8L400.5 2379.5L402 2380.2L403.8 2381.3L405.6 2382.6L407.6 2384L409.5 2385.2L411.5 2386.2L413.4 2386.7L415.3 2387L417.1 2387.2L419 2387.2L420.9 2387.3L422.8 2387.4L424.7 2387.3L426.6 2387.2L428.5 2387.2L430.4 2387.3L432.3 2387.6L434.1 2388.1L436 2388.6L437.9 2389.1L439.8 2389.7L441.7 2390.3L443.5 2390.9L445.3 2391.5L447.2 2392.2L449.3 2392.8L451.5 2393.4L454 2394.1L456.6 2394.8L459 2395.3L461.1 2395.6L462.8 2395.7L464.1 2395.6L465.4 2395.3L466.7 2394.9L468.2 2394.4L469.9 2393.7L471.8 2392.7L473.7 2391.6L475.7 2390.5L477.6 2389.7L479.5 2389L481.4 2388.4L483.3 2387.9L485.1 2387.6L487.1 2387.3L489.1 2387.3L491.4 2387.4L493.6 2387.7L495.5 2387.9L496.8 2388" stroke="#0808f2" stroke-width="7.3" stroke-linecap="round" stroke-linejoin="round" fill="none" clip-path="url(#clip_blue_h)"/>
<path d="M103.2 2242.7V2420.2H496.8V2242.7" stroke="#1410b4" stroke-width="1.7" fill="none"/>
<path d="M190.7 2420.2V2415.2M300 2420.2V2415.2M409.3 2420.2V2415.2M103.2 2338.3H108.2M103.2 2252H108.2M496.8 2288.1H491.8" stroke="#1410b4" stroke-width="1.5" fill="none"/>
<g fill="#1410b4" font-size="31"><text x="190.7" y="2458.2" text-anchor="middle">-100</text><text x="300" y="2458.2" text-anchor="middle">0</text><text x="409.3" y="2458.2" text-anchor="middle">100</text><text x="96.7" y="2350.8" text-anchor="end">20</text><text x="96.7" y="2264.5" text-anchor="end">40</text><text x="503.8" y="2298.8">10</text><text x="503.8" y="2430.9">0</text></g>
<clipPath id="clip_orange_h"><rect x="657.6" y="2242.7" width="394" height="177.5"/></clipPath>
<path d="M786.6 2420.3h0M789.5 2420.3h0M791.8 2420.3h0M794.5 2420.3h0M797.8 2420.3h0M800.2 2420.3h0M874.6 2420.3h0M983 2420.3h0M679.4 2416h0M715.2 2416h0M732.4 2416h0M742.7 2416h0M745.7 2416h0M748.4 2416h0M751.3 2416h0M754.4 2416h0M757.2 2416h0M760 2416h0M762.7 2416h0M766 2416h0M768.4 2416h0M771.7 2416h0M774.2 2416h0M777.3 2416h0M1048.2 2416h0M749.6 2411.7h0M752.5 2411.7h0M755.6 2411.7h0M758.8 2411.7h0M769.1 2411.7h0M772.5 2411.7h0M775.9 2411.7h0M786 2411.7h0M792.3 2411.7h0M690.3 2407.3h0M697.5 2407.3h0M740 2407.3h0M768.9 2407.3h0M779.1 2407.3h0M784.8 2407.3h0M896.7 2407.3h0M1036.1 2407.3h0M725.2 2403h0M732.4 2403h0M735.5 2403h0M738.3 2403h0M741.4 2403h0M744.5 2403h0M747.6 2403h0M750.7 2403h0M754.1 2403h0M757.1 2403h0M760 2403h0M762.9 2403h0M766.3 2403h0M769.4 2403h0M997.8 2403h0M1000.9 2403h0M1003.1 2403h0M1006.2 2403h0M1013 2403h0M1015.5 2403h0M1017.7 2403h0M1027.2 2403h0M1036.6 2403h0M1042.6 2403h0M678.7 2398.7h0M764.1 2398.7h0M774.3 2398.7h0M815.9 2398.7h0M834.8 2398.7h0M897.1 2398.7h0M911.9 2398.7h0M926.8 2398.7h0M968.1 2398.7h0M764.8 2394.4h0M767.9 2394.4h0M770.8 2394.4h0M773.9 2394.4h0M777.5 2394.4h0M780.6 2394.4h0M783.8 2394.4h0M786.7 2394.4h0M790 2394.4h0M872.2 2394.4h0M875.5 2394.4h0M989.8 2394.4h0M667.7 2390.1h0M680.5 2390.1h0M750.7 2390.1h0M754 2390.1h0M757.1 2390.1h0M759.8 2390.1h0M765.6 2390.1h0M769.2 2390.1h0M772.9 2390.1h0M776.3 2390.1h0M786.5 2390.1h0M794.7 2390.1h0M843.9 2390.1h0M847.4 2390.1h0M854.8 2390.1h0M871.9 2390.1h0M875.8 2390.1h0M886.3 2390.1h0M893.1 2390.1h0M896.5 2390.1h0M964.9 2390.1h0M1026 2390.1h0M658.8 2385.8h0M685.3 2385.8h0M687.2 2385.8h0M689.6 2385.8h0M705.9 2385.8h0M708.7 2385.8h0M711.4 2385.8h0M719.9 2385.8h0M747.3 2385.8h0M765.6 2385.8h0M769 2385.8h0M771.8 2385.8h0M775.2 2385.8h0M778.1 2385.8h0M781.3 2385.8h0M784.1 2385.8h0M826.7 2385.8h0M830.2 2385.8h0M840.6 2385.8h0M844.1 2385.8h0M851.2 2385.8h0M854.8 2385.8h0M858.3 2385.8h0M865.1 2385.8h0M872 2385.8h0M875.7 2385.8h0M879.1 2385.8h0M900 2385.8h0M903.5 2385.8h0M939.1 2385.8h0M988.7 2385.8h0M662.1 2381.4h0M693.7 2381.4h0M698.7 2381.4h0M707.2 2381.4h0M757.6 2381.4h0M760.9 2381.4h0M763.7 2381.4h0M766.8 2381.4h0M769.6 2381.4h0M772.7 2381.4h0M775.4 2381.4h0M778.5 2381.4h0M781.4 2381.4h0M784.1 2381.4h0M787.5 2381.4h0M790.4 2381.4h0M793 2381.4h0M796.3 2381.4h0M799.2 2381.4h0M826.8 2381.4h0M896.6 2381.4h0M973.6 2381.4h0M976.7 2381.4h0M979.6 2381.4h0M658.6 2377.1h0M669.1 2377.1h0M672.4 2377.1h0M676.1 2377.1h0M679.5 2377.1h0M781 2377.1h0M791 2377.1h0M803.4 2377.1h0M823 2377.1h0M910.4 2377.1h0M910.2 2377.1h0M912.9 2377.1h0M731.6 2372.8h0M670.2 2368.5h0M682.9 2368.5h0M685.7 2368.5h0M688.5 2368.5h0M693.8 2368.5h0M701.4 2368.5h0M704 2368.5h0M707 2368.5h0M709.4 2368.5h0M712.6 2368.5h0M715 2368.5h0M718.1 2368.5h0M720.9 2368.5h0M777.5 2368.5h0M780 2368.5h0M783.1 2368.5h0M788.9 2368.5h0M792 2368.5h0M794.9 2368.5h0M798.4 2368.5h0M801.1 2368.5h0M804.5 2368.5h0M807.4 2368.5h0M810.9 2368.5h0M819.4 2368.5h0M957.7 2368.5h0M1022.7 2368.5h0M716.2 2364.2h0M719 2364.2h0M721.6 2364.2h0M724.4 2364.2h0M727.2 2364.2h0M730 2364.2h0M736.9 2364.2h0M739.8 2364.2h0M743 2364.2h0M746.2 2364.2h0M749.2 2364.2h0M752.2 2364.2h0M755.6 2364.2h0M767.4 2364.2h0M1002.8 2364.2h0M746 2359.9h0M749.1 2359.9h0M752.1 2359.9h0M757.8 2359.9h0M761 2359.9h0M764.1 2359.9h0M767.6 2359.9h0M770.8 2359.9h0M773.9 2359.9h0M786.5 2359.9h0M789.5 2359.9h0M792.3 2359.9h0M930.3 2359.9h0M933.6 2359.9h0M659.8 2355.6h0M668.8 2355.6h0M672 2355.6h0M675 2355.6h0M677.9 2355.6h0M680.9 2355.6h0M683.9 2355.6h0M704.1 2355.6h0M707 2355.6h0M717.6 2355.6h0M726.7 2355.6h0M730.2 2355.6h0M745.2 2355.6h0M748.3 2355.6h0M752.1 2355.6h0M765.9 2355.6h0M770.4 2355.6h0M815.9 2355.6h0M911.5 2355.6h0M914.3 2355.6h0M917.6 2355.6h0M920.2 2355.6h0M923.1 2355.6h0M934.4 2355.6h0M961.2 2355.6h0M964 2355.6h0M966.7 2355.6h0M969.6 2355.6h0M972.5 2355.6h0M975.3 2355.6h0M978.5 2355.6h0M1015.9 2355.6h0M1028.1 2355.6h0M1041.8 2355.6h0M1045 2355.6h0M1047.8 2355.6h0M1050.8 2355.6h0M1050.8 2355.6h0M696.6 2351.2h0M707.6 2351.2h0M711.5 2351.2h0M714.8 2351.2h0M717.8 2351.2h0M720.7 2351.2h0M724.2 2351.2h0M726.9 2351.2h0M730.2 2351.2h0M733.2 2351.2h0M736.4 2351.2h0M739.5 2351.2h0M742.5 2351.2h0M764.4 2351.2h0M767.8 2351.2h0M770.7 2351.2h0M774.1 2351.2h0M777.5 2351.2h0M783.1 2351.2h0M786.3 2351.2h0M789.1 2351.2h0M792.3 2351.2h0M803.3 2351.2h0M832.5 2351.2h0M835.9 2351.2h0M847.4 2351.2h0M849.7 2351.2h0M707.8 2346.9h0M714.7 2346.9h0M721.8 2346.9h0M757.8 2346.9h0M812.8 2346.9h0M1026.8 2346.9h0M714.8 2342.6h0M725.3 2342.6h0M754.7 2342.6h0M774 2342.6h0M779.6 2342.6h0M783 2342.6h0M846.3 2342.6h0M884.2 2342.6h0M909.2 2342.6h0M721.8 2338.3h0M803.6 2338.3h0M809.2 2338.3h0M735.7 2334h0M751.9 2334h0M768.1 2334h0M771 2334h0M774.1 2334h0M776.5 2334h0M779.8 2334h0M789.7 2334h0M809.3 2334h0M665.4 2329.7h0M668.7 2329.7h0M671.6 2329.7h0M674.7 2329.7h0M677.7 2329.7h0M681 2329.7h0M683.8 2329.7h0M699.2 2329.7h0M701.2 2329.7h0M703.5 2329.7h0M721.1 2329.7h0M730.2 2329.7h0M735.6 2329.7h0M739.3 2329.7h0M763.7 2329.7h0M775.2 2329.7h0M777.9 2329.7h0M780.9 2329.7h0M784 2329.7h0M787 2329.7h0M790.3 2329.7h0M793.4 2329.7h0M796.4 2329.7h0M799.5 2329.7h0M802.6 2329.7h0M805.8 2329.7h0M808.8 2329.7h0M811.8 2329.7h0M906.8 2329.7h0M966.6 2329.7h0M969 2329.7h0M971.4 2329.7h0M986 2329.7h0M988.8 2329.7h0M992 2329.7h0M994.8 2329.7h0M997.6 2329.7h0M1000.7 2329.7h0M1003.9 2329.7h0M1011.1 2329.7h0M1019.2 2329.7h0M1032.7 2329.7h0M1035.4 2329.7h0M1038.1 2329.7h0M663.2 2325.4h0M682.4 2325.4h0M703.5 2325.4h0M725 2325.4h0M738.9 2325.4h0M751.8 2325.4h0M755.3 2325.4h0M758.8 2325.4h0M773.7 2325.4h0M776.9 2325.4h0M780 2325.4h0M783.2 2325.4h0M786.7 2325.4h0M789.7 2325.4h0M793.1 2325.4h0M795.8 2325.4h0M799.1 2325.4h0M826.8 2325.4h0M983 2325.4h0M985.8 2325.4h0M988.4 2325.4h0M991.3 2325.4h0M994.1 2325.4h0M997 2325.4h0M1007.2 2325.4h0M1010.6 2325.4h0M1014.2 2325.4h0M1027.8 2325.4h0M1035.8 2325.4h0M739.3 2321h0M742.7 2321h0M766.7 2321h0M769.8 2321h0M772.6 2321h0M775.9 2321h0M778.6 2321h0M781.4 2321h0M784.3 2321h0M787.3 2321h0M790.3 2321h0M793.3 2321h0M796.5 2321h0M799.2 2321h0M805.7 2321h0M813.1 2321h0M836.2 2321h0M852 2321h0M854.2 2321h0M882.9 2321h0M1013.2 2321h0M1020.1 2321h0M1023.1 2321h0M1036.7 2321h0M708.6 2316.7h0M722 2316.7h0M733.6 2316.7h0M736.4 2316.7h0M739.3 2316.7h0M742.6 2316.7h0M750.9 2316.7h0M753.6 2316.7h0M756.6 2316.7h0M759.4 2316.7h0M762.5 2316.7h0M772.7 2316.7h0M775.9 2316.7h0M778.7 2316.7h0M781.9 2316.7h0M784.6 2316.7h0M787.7 2316.7h0M791 2316.7h0M794.1 2316.7h0M796.7 2316.7h0M848.9 2316.7h0M851.2 2316.7h0M853.9 2316.7h0M856.5 2316.7h0M862.4 2316.7h0M871.4 2316.7h0M658.5 2312.4h0M670 2312.4h0M691.1 2312.4h0M693.8 2312.4h0M696.9 2312.4h0M700 2312.4h0M703.3 2312.4h0M706.5 2312.4h0M709.5 2312.4h0M719.7 2312.4h0M726.7 2312.4h0M739.1 2312.4h0M751.7 2312.4h0M757.8 2312.4h0M760.6 2312.4h0M763.3 2312.4h0M766.2 2312.4h0M768.9 2312.4h0M771.7 2312.4h0M784.4 2312.4h0M787 2312.4h0M789.9 2312.4h0M792.6 2312.4h0M795.4 2312.4h0M798.1 2312.4h0M665.7 2308.1h0M682.7 2308.1h0M693 2308.1h0M696 2308.1h0M699.1 2308.1h0M701.9 2308.1h0M705.1 2308.1h0M708 2308.1h0M710.7 2308.1h0M713.7 2308.1h0M721.8 2308.1h0M724.9 2308.1h0M727.8 2308.1h0M730.7 2308.1h0M733.3 2308.1h0M736.3 2308.1h0M739.1 2308.1h0M752.8 2308.1h0M769.1 2308.1h0M779.8 2308.1h0M782.7 2308.1h0M785.5 2308.1h0M788.3 2308.1h0M791.2 2308.1h0M793.9 2308.1h0M797 2308.1h0M799.6 2308.1h0M802.5 2308.1h0M805.7 2308.1h0M808.4 2308.1h0M811.3 2308.1h0M814.4 2308.1h0M822 2308.1h0M875.5 2308.1h0M878.2 2308.1h0M881.1 2308.1h0M883.9 2308.1h0M886.2 2308.1h0M889.2 2308.1h0M892.1 2308.1h0M944.7 2308.1h0M961.9 2308.1h0M980.2 2308.1h0M983.4 2308.1h0M986.6 2308.1h0M995.3 2308.1h0M1003.6 2308.1h0M1020 2308.1h0M1029.5 2308.1h0M1032.8 2308.1h0M1036.2 2308.1h0M1039.9 2308.1h0M1042.9 2308.1h0M714 2303.8h0M726.8 2303.8h0M729.9 2303.8h0M733.5 2303.8h0M755.4 2303.8h0M876.3 2303.8h0M882.8 2303.8h0M885.3 2303.8h0M888.1 2303.8h0M891.1 2303.8h0M896.4 2303.8h0M899.6 2303.8h0M902.3 2303.8h0M905.1 2303.8h0M907.9 2303.8h0M917.2 2303.8h0M920.3 2303.8h0M923.8 2303.8h0M926.5 2303.8h0M929.8 2303.8h0M932.7 2303.8h0M935.9 2303.8h0M945.2 2303.8h0M954.2 2303.8h0M972.3 2303.8h0M1005.1 2303.8h0M1007.6 2303.8h0M1010.8 2303.8h0M1021.3 2303.8h0M1024.3 2303.8h0M1027.2 2303.8h0M1030.4 2303.8h0M1038.5 2303.8h0M758.9 2299.5h0M772.9 2299.5h0M775.5 2299.5h0M778.9 2299.5h0M781.5 2299.5h0M784.9 2299.5h0M787.6 2299.5h0M790.6 2299.5h0M793.8 2299.5h0M797 2299.5h0M800 2299.5h0M802.7 2299.5h0M805.8 2299.5h0M808.6 2299.5h0M811.8 2299.5h0M819.9 2299.5h0M822.1 2299.5h0M824.3 2299.5h0M832.4 2299.5h0M835.2 2299.5h0M838.2 2299.5h0M841.1 2299.5h0M843.8 2299.5h0M846.4 2299.5h0M852.1 2299.5h0M854 2299.5h0M859.9 2299.5h0M862.9 2299.5h0M865.9 2299.5h0M869.1 2299.5h0M872.4 2299.5h0M881.4 2299.5h0M903.5 2299.5h0M907.1 2299.5h0M955.2 2299.5h0M999.8 2299.5h0M659.3 2295.2h0M662 2295.2h0M664.4 2295.2h0M667.6 2295.2h0M670.2 2295.2h0M680.8 2295.2h0M688.7 2295.2h0M691.6 2295.2h0M694.7 2295.2h0M697.9 2295.2h0M707.6 2295.2h0M713.8 2295.2h0M725.4 2295.2h0M738.1 2295.2h0M743 2295.2h0M755.6 2295.2h0M758.7 2295.2h0M761.2 2295.2h0M764.5 2295.2h0M767.3 2295.2h0M770.5 2295.2h0M773.4 2295.2h0M776.6 2295.2h0M779.8 2295.2h0M782.7 2295.2h0M785.6 2295.2h0M788.8 2295.2h0M803.8 2295.2h0M807.1 2295.2h0M810.6 2295.2h0M837.1 2295.2h0M877.2 2295.2h0M924.5 2295.2h0M927.4 2295.2h0M930.4 2295.2h0M933.5 2295.2h0M962.8 2295.2h0M1029.8 2295.2h0M659.1 2290.8h0M681.7 2290.8h0M684.5 2290.8h0M687.6 2290.8h0M690.2 2290.8h0M693.1 2290.8h0M695.9 2290.8h0M698.7 2290.8h0M702 2290.8h0M704.9 2290.8h0M707.7 2290.8h0M710.5 2290.8h0M730.3 2290.8h0M733 2290.8h0M736 2290.8h0M739 2290.8h0M780.5 2290.8h0M792.2 2290.8h0M795.2 2290.8h0M798.2 2290.8h0M800.7 2290.8h0M803.9 2290.8h0M806.8 2290.8h0M809.5 2290.8h0M864.5 2290.8h0M910.6 2290.8h0M914 2290.8h0M917.3 2290.8h0M947.1 2290.8h0M950.3 2290.8h0M953.8 2290.8h0M956.7 2290.8h0M960.2 2290.8h0M983 2290.8h0M1000.7 2290.8h0M1039.4 2290.8h0M1042.6 2290.8h0M1045.2 2290.8h0M1048.2 2290.8h0M1050.8 2290.8h0M1050.7 2290.8h0M670.9 2286.5h0M683.5 2286.5h0M686.5 2286.5h0M761.1 2286.5h0M772.8 2286.5h0M785.5 2286.5h0M789 2286.5h0M824.7 2286.5h0M841.7 2286.5h0M851.2 2286.5h0M854.2 2286.5h0M872.2 2286.5h0M875.4 2286.5h0M883 2286.5h0M954.2 2286.5h0M1025.5 2286.5h0M1045.2 2286.5h0M741.6 2282.2h0M745.3 2282.2h0M765.7 2282.2h0M768.8 2282.2h0M771.4 2282.2h0M774.6 2282.2h0M777.5 2282.2h0M779.9 2282.2h0M783.1 2282.2h0M786 2282.2h0M788.8 2282.2h0M798.1 2282.2h0M800.8 2282.2h0M804.1 2282.2h0M806.9 2282.2h0M810.2 2282.2h0M812.9 2282.2h0M825.6 2282.2h0M836 2282.2h0M974.8 2282.2h0M995.2 2282.2h0M1022.3 2282.2h0M1024.3 2282.2h0M1027 2282.2h0M674.1 2277.9h0M677.4 2277.9h0M681.2 2277.9h0M706.9 2277.9h0M710.3 2277.9h0M713.3 2277.9h0M716.7 2277.9h0M719.8 2277.9h0M722.8 2277.9h0M726.1 2277.9h0M729.2 2277.9h0M738.5 2277.9h0M748.4 2277.9h0M750.6 2277.9h0M762.2 2277.9h0M765.9 2277.9h0M769 2277.9h0M778.3 2277.9h0M795.2 2277.9h0M817.7 2277.9h0M832.4 2277.9h0M857.9 2277.9h0M868.6 2277.9h0M963.6 2277.9h0M966.2 2277.9h0M969.1 2277.9h0M972.5 2277.9h0M975 2277.9h0M978.1 2277.9h0M981.3 2277.9h0M983.9 2277.9h0M987.2 2277.9h0M990 2277.9h0M1006.9 2277.9h0M1009.8 2277.9h0M1013.2 2277.9h0M1044.2 2277.9h0M1046.5 2277.9h0M1048.8 2277.9h0M702.3 2273.6h0M704.5 2273.6h0M756.4 2273.6h0M773.9 2273.6h0M776.7 2273.6h0M779.8 2273.6h0M783 2273.6h0M803.5 2273.6h0M881.3 2273.6h0M891 2273.6h0M893.8 2273.6h0M896.8 2273.6h0M900 2273.6h0M916.7 2273.6h0M919.4 2273.6h0M922.1 2273.6h0M932.3 2273.6h0M936.5 2273.6h0M944 2273.6h0M970.5 2273.6h0M973.4 2273.6h0M976.4 2273.6h0M988.1 2273.6h0M1030.7 2273.6h0M1039.6 2273.6h0M1042.8 2273.6h0M668.6 2269.3h0M748.4 2269.3h0M756.6 2269.3h0M779.1 2269.3h0M791.8 2269.3h0M798.1 2269.3h0M803.9 2269.3h0M825.5 2269.3h0M829.2 2269.3h0M832.5 2269.3h0M836.1 2269.3h0M844.6 2269.3h0M857.3 2269.3h0M859.6 2269.3h0M862.3 2269.3h0M871.4 2269.3h0M1010.8 2269.3h0M1014.1 2269.3h0M1022.3 2269.3h0M1025.4 2269.3h0M1030.2 2269.3h0M1033.7 2269.3h0M692.6 2264.9h0M708.1 2264.9h0M768.1 2264.9h0M780.9 2264.9h0M819.7 2264.9h0M866.8 2264.9h0M869.7 2264.9h0M872.3 2264.9h0M878 2264.9h0M886.2 2264.9h0M918.7 2264.9h0M921.8 2264.9h0M933.6 2264.9h0M1035.7 2264.9h0M760.2 2260.6h0M772.3 2260.6h0M788.2 2260.6h0M799.6 2260.6h0M663.3 2256.3h0M699.1 2256.3h0M763.4 2256.3h0M901.2 2256.3h0M904.3 2256.3h0M907.2 2256.3h0M910.3 2256.3h0M920.1 2256.3h0M681.3 2252h0M707.5 2252h0M739 2252h0M742.4 2252h0M745.6 2252h0M748.8 2252h0M752.2 2252h0M755.6 2252h0M763.4 2252h0M766.9 2252h0M788.3 2252h0M995.2 2252h0M703.7 2247.7h0M715.1 2247.7h0M718 2247.7h0M720.9 2247.7h0M723.9 2247.7h0M727.1 2247.7h0M730.2 2247.7h0M744.1 2247.7h0M746.6 2247.7h0M749.8 2247.7h0M752.8 2247.7h0M755.8 2247.7h0M758.6 2247.7h0M774.1 2247.7h0M777.4 2247.7h0M824 2247.7h0M850.7 2247.7h0M859.2 2247.7h0M866.5 2247.7h0M869.4 2247.7h0M871.8 2247.7h0M874.5 2247.7h0M924.5 2247.7h0M927.8 2247.7h0M956.4 2247.7h0" stroke="#e07d20" stroke-width="4.3" stroke-linecap="round" fill="none" clip-path="url(#clip_orange_h)"/>
<path d="M657.6 2381.4L659.2 2381L661.4 2380.5L664 2379.8L666.6 2379.1L668.9 2378.6L670.9 2378.2L672.9 2377.8L674.8 2377.4L676.6 2377.1L678.3 2376.7L679.9 2376.3L681.3 2376L682.7 2375.6L684 2375L685.4 2374.3L686.8 2373.4L688.3 2372.3L689.7 2371.1L691.1 2369.8L692.5 2368.4L693.9 2367L695.3 2365.4L696.8 2363.7L698.2 2361.9L699.6 2360.2L701 2358.3L702.4 2356.3L703.8 2354.4L705.3 2352.5L706.7 2350.7L708.1 2349.1L709.5 2347.6L710.9 2346.3L712.4 2345.1L713.8 2344.1L715.2 2343.5L716.6 2343.1L718 2342.9L719.4 2342.8L720.9 2342.5L722.3 2342.1L723.7 2341.7L725.2 2341.3L726.6 2340.8L727.9 2340.1L729.2 2339.2L730.4 2338L731.6 2336.8L732.8 2335.5L733.8 2334.2L734.9 2332.9L735.8 2331.7L736.7 2330.3L737.6 2328.8L738.6 2327.1L739.5 2325.1L740.5 2323L741.4 2320.6L742.3 2318L743.3 2315.3L744.2 2312.3L745.2 2309L746.1 2305.6L747.1 2302.1L748 2298.8L749 2295.4L749.9 2292L750.8 2288.7L751.8 2285.4L752.7 2282.2L753.7 2279.2L754.6 2276.3L755.6 2273.4L756.5 2270.7L757.5 2268.1L758.4 2265.5L759.3 2263L760.2 2260.6L761.2 2258.4L762.2 2256.3L763.3 2254.3L764.4 2252.4L765.6 2250.7L766.8 2249.2L768.1 2248L769.4 2247.1L770.8 2246.5L772.3 2246.1L773.7 2245.8L775.2 2245.6L776.6 2245.5L778.1 2245.4L779.6 2245.4L781 2245.7L782.3 2246.3L783.4 2247.3L784.3 2248.7L785.2 2250.2L786.1 2252L787 2253.9L787.9 2255.9L788.9 2258.1L789.8 2260.4L790.8 2263L791.7 2265.7L792.6 2268.6L793.6 2271.7L794.5 2275.1L795.5 2278.6L796.4 2282.2L797.4 2286.2L798.3 2290.4L799.3 2294.8L800.2 2299.2L801.2 2303.5L802.1 2307.8L803 2312.2L804 2316.6L804.9 2320.8L805.9 2324.7L806.8 2328.4L807.8 2331.7L808.7 2334.9L809.7 2338L810.6 2341.3L811.5 2344.6L812.5 2348L813.4 2351.4L814.4 2354.7L815.3 2357.8L816.2 2360.9L817.2 2363.8L818.1 2366.7L819 2369.4L820 2372L821.1 2374.4L822.2 2376.8L823.4 2379L824.6 2381L826 2382.6L827.4 2383.8L828.9 2384.6L830.5 2385.2L832.3 2385.7L834.2 2386.2L836.4 2386.5L838.7 2386.8L841.1 2387L843.6 2387.1L846 2387.3L848.4 2387.6L850.7 2387.8L853.1 2388L855.5 2388.3L857.8 2388.5L860.2 2388.8L862.6 2389L864.9 2389.3L867.3 2389.5L869.6 2389.7L872 2389.8L874.4 2389.9L876.7 2389.9L879.1 2389.9L881.5 2389.7L883.9 2389.4L886.3 2389L888.7 2388.4L891 2387.9L893.3 2387.3L895.3 2386.7L897.2 2386L899 2385.3L900.9 2384.7L902.7 2384.3L904.6 2384L906.5 2383.8L908.4 2383.7L910.3 2383.9L912.2 2384.3L914.1 2385L916 2386L918 2387.1L919.9 2388.4L921.6 2389.7L923.2 2391L924.6 2392.5L926 2394L927.3 2395.5L928.7 2396.8L930.1 2397.9L931.5 2399L932.9 2399.9L934.4 2400.7L935.8 2401.5L937.2 2402.2L938.6 2403L940 2403.5L941.4 2403.9L942.9 2403.9L944.3 2403.5L945.7 2402.8L947.1 2401.8L948.5 2400.6L949.9 2399.1L951.4 2397.4L952.8 2395.3L954.2 2393L955.6 2390.7L957 2388.5L958.4 2386.5L959.9 2384.4L961.3 2382.4L962.7 2380.6L964.1 2379.1L965.5 2377.8L966.9 2376.7L968.4 2375.8L969.8 2375L971.2 2374.3L972.6 2373.8L974 2373.4L975.4 2373.2L976.9 2373.1L978.3 2373.2L979.7 2373.4L981.1 2373.7L982.5 2374.2L984 2374.8L985.4 2375.5L986.7 2376.3L988.1 2377.2L989.4 2378.2L990.9 2379.2L992.5 2380.2L994.2 2381.4L996.2 2382.7L998.2 2384L1000.1 2385.2L1001.9 2386.2L1003.4 2386.9L1004.8 2387.6L1006.1 2388.1L1007.5 2388.4L1009 2388.5L1010.7 2388.4L1012.6 2388L1014.5 2387.5L1016.5 2386.9L1018.4 2386.2L1020.3 2385.3L1022.2 2384.3L1024.1 2383.3L1026 2382.3L1027.9 2381.4L1029.7 2380.7L1031.4 2380.1L1033.2 2379.6L1035.2 2379.2L1037.3 2379.1L1040 2379.3L1043.2 2379.8L1046.4 2380.4L1049.2 2381L1051.1 2381.4" stroke="#f7831d" stroke-width="7.3" stroke-linecap="round" stroke-linejoin="round" fill="none" clip-path="url(#clip_orange_h)"/>
<path d="M657.6 2242.7V2420.2H1051.6V2242.7" stroke="#d4842f" stroke-width="1.7" fill="none"/>
<path d="M745.2 2420.2V2415.2M854.6 2420.2V2415.2M964 2420.2V2415.2M657.6 2338.3H662.6M657.6 2252H662.6M1051.6 2267.7H1046.6" stroke="#d4842f" stroke-width="1.5" fill="none"/>
<g fill="#d4842f" font-size="31"><text x="745.2" y="2458.2" text-anchor="middle">-100</text><text x="854.6" y="2458.2" text-anchor="middle">0</text><text x="964" y="2458.2" text-anchor="middle">100</text><text x="651.1" y="2350.8" text-anchor="end">20</text><text x="651.1" y="2264.5" text-anchor="end">40</text><text x="1058.6" y="2278.4">10</text><text x="1058.6" y="2430.9">0</text></g>
<clipPath id="hclip_h"><rect x="1212.6" y="2223.2" width="394.5" height="217.1"/></clipPath>
<path d="M1213.1 2421.5H1243.4V2407H1273.6V2362.2H1303.9V2313.8H1334.1V2261.3H1364.4V2243.2H1394.6V2243.2H1424.9V2326.7H1455.1V2340.5H1485.4V2359.8H1515.6V2391.3H1545.9V2390H1576.1V2411.8H1606.4V2398.5" stroke="#0a0af0" stroke-width="6.3" stroke-linejoin="miter" stroke-linecap="butt" fill="none" clip-path="url(#hclip_h)"/>
<path d="M1213.1 2417.4H1243.4V2392.5H1273.6V2368.3H1303.9V2306.6H1334.1V2267.9H1364.4V2258.2H1394.6V2267.9H1424.9V2310.9H1455.1V2334.4H1485.4V2359.8H1515.6V2387.6H1545.9V2393.7H1576.1V2401.4H1606.4V2401.4" stroke="#f7821c" stroke-width="6.3" stroke-linejoin="miter" stroke-linecap="butt" fill="none" clip-path="url(#hclip_h)"/>
<path d="M1212.6 2243.2V2420.3H1607.1" stroke="#1a1a1a" stroke-width="1.5" fill="none"/>
<path d="M1319 2420.3V2415.3M1440 2420.3V2415.3M1561 2420.3V2415.3M1212.6 2318.7H1217.6" stroke="#1a1a1a" stroke-width="1.4" fill="none"/>
<g fill="#111" font-size="31"><text x="1319" y="2458.3" text-anchor="middle">0</text><text x="1440" y="2458.3" text-anchor="middle">2</text><text x="1561" y="2458.3" text-anchor="middle">4</text><text x="1206.6" y="2431" text-anchor="end">0</text><text x="1206.6" y="2329.4" text-anchor="end">10</text></g>
<path d="M1487.9 2257H1509.6" stroke="#0a0af0" stroke-width="7" fill="none"/>
<path d="M1487.9 2303.7H1509.6" stroke="#f7821c" stroke-width="7" fill="none"/>
<g fill="#111" font-size="36"><text x="1518.5" y="2270.8">Allocentric</text><text x="1518.5" y="2317.5">Egocentric</text></g>
<path d="M1875.8 2106.6L2048.3 1934" stroke="#3cd43c" stroke-width="3.2" stroke-dasharray="18 8" fill="none"/>
<path d="M1908.1 1935.7h0M1911.8 1948.4h0M1921.8 1945.6h0M1958.8 1949.8h0M1993.5 1951.1h0M2016 1947.9h0M2015.1 1951.1h0M2047 1949.8h0M2045.2 1951.1h0M1886.5 1973.6h0M1900 1967.6h0M1984.5 1958.2h0M1985.1 1962h0M1993.9 1962.9h0M2006.7 1969.9h0M2004.8 1974.2h0M2031.1 1965.7h0M2025.1 1973.2h0M2022.6 1980.7h0M2039.5 1979.2h0M2017.6 1987.3h0M2021.7 1989.2h0M1970.6 1985.4h0M1982.6 1984.5h0M1989.8 1984.9h0M1987.9 1991.6h0M2002.5 1990.1h0M2005.2 1992h0M1939.4 2000.8h0M1973.8 1996.7h0M1978.1 1999.5h0M1986 1993.9h0M1967.8 2002.9h0M1974.7 2004.2h0M2000.1 2003.7h0M2007.6 1999.2h0M2007 2006.1h0M1971.5 2008.9h0M1972.9 2012.7h0M1971 2014.6h0M1982.6 2007h0M1986.9 2007h0M1985.1 2014.6h0M1987.9 2014.6h0M1982.2 2013.6h0M1928.4 2014.9h0M1934.7 2015.5h0M1930.2 2020.2h0M1911.3 2019.6h0M1911.3 2024.5h0M1943.8 2019.6h0M1956 2016.4h0M1956 2022.1h0M1954.1 2027.7h0M1958.8 2029.6h0M1953.1 2024.9h0M2000.1 2021.5h0M1981.3 2023.9h0M1980 2026.8h0M1947.1 2030.1h0M1942.8 2034.3h0M1956 2039.3h0M1950.3 2040.5h0M1927.8 2038h0M1925 2040.5h0M1918.4 2039h0M1931.5 2042.3h0M1935.3 2039.9h0M1918.4 2047.8h0M1939.1 2046.5h0M1948.4 2046.9h0M1950.3 2049.3h0M1927.8 2053.4h0M1939.1 2051.7h0M1942.8 2054.9h0M1949.4 2054.9h0M1937.2 2058.7h0M1927.8 2061.5h0M1922.2 2058.3h0M1965.3 2048.4h0M1974.7 2037.1h0M1991.6 2034.3h0M1895.9 2063.4h0M1904.3 2066.8h0M1909 2068.1h0M1911.3 2074.1h0M1916.5 2068.1h0M1947.9 2071.3h0M2039.5 2072.2h0M2007.6 2087.2h0M1879.9 2093h0M1886.9 2090h0M1920.3 2090.2h0M1895.9 2083.1h0M2046.5 2094.4h0M1959.7 2016.4h0" stroke="#111" stroke-width="4.2" stroke-linecap="round" fill="none"/>
<path d="M1875.8 1929.1V2106.6H2053.2" stroke="#1a1a1a" stroke-width="1.5" fill="none"/>
<path d="M1915.2 2106.6V2101.6M1875.8 2067.2H1880.8M1964.5 2106.6V2101.6M1875.8 2017.8H1880.8M2013.8 2106.6V2101.6M1875.8 1968.5H1880.8" stroke="#1a1a1a" stroke-width="1.4" fill="none"/>
<g fill="#111" font-size="31"><text x="1964.5" y="2143.6" text-anchor="middle">0</text><text x="1868.8" y="2077.9" text-anchor="end">-100</text><text x="1868.8" y="2028.5" text-anchor="end">0</text><text x="1868.8" y="1979.2" text-anchor="end">100</text></g>
<text x="1796.3" y="2017.8" font-size="34.3" fill="#111" text-anchor="middle" transform="rotate(-90 1796.3 2017.8)">Right</text>
<text x="1964.5" y="2184.7" font-size="33.8" fill="#111" text-anchor="middle">Left</text>
<path d="M1875.8 2420.5L2048.3 2248" stroke="#3cd43c" stroke-width="3.2" stroke-dasharray="18 8" fill="none"/>
<path d="M1883.7 2248.7h0M1879.9 2257.2h0M1883.1 2277.8h0M1882.3 2294.7h0M1883.1 2377h0M1880.8 2386.4h0M1888.7 2393.3h0M1888.7 2398h0M1886.9 2414.6h0M1905.3 2390.5h0M1904.9 2395.8h0M1903 2405.2h0M1904.3 2413.1h0M1904.9 2416.4h0M1930.6 2399h0M1976.2 2388.3h0M2016.6 2385.3h0M2048.9 2411.2h0M2042.3 2313.9h0M1939.1 2313.2h0M1956.9 2314.1h0M1936.6 2345.5h0M1939.4 2372.7h0M1917.5 2372.7h0M1921.2 2370.8h0M1925.9 2364.2h0M1926.8 2369.9h0M1929.3 2376.4h0M1916.5 2383h0M1917.5 2385.8h0M1921.2 2386.2h0M1934.7 2365.7h0M1941.9 2360.5h0M1942.8 2363.3h0M1950.3 2358.6h0M1954.1 2362h0M1946.6 2349.2h0M1952.2 2350.1h0M1955 2348.8h0M1958.8 2345.5h0M1959.7 2347.7h0M1965.3 2339.8h0M1970 2345.5h0M1971 2347.3h0M1954.1 2327.6h0M1955 2331.4h0M1967.2 2317.3h0M1970.6 2321h0M1970.6 2325.7h0M1968.2 2330.4h0M1972.5 2332.3h0M1973.8 2335.1h0M1975.7 2339.8h0M1977 2360.5h0M1978.1 2362.4h0M1978.1 2328.6h0M1979.4 2330.4h0M1984.1 2327.6h0M1984.1 2331.4h0M1986.6 2326.7h0M1980.4 2320.1h0M1983.7 2318.2h0M1988.4 2318.2h0M1993.9 2315.8h0M1991.3 2307h0M1996.9 2304.1h0M1997.3 2308.8h0M1989.8 2292.9h0M1999.1 2285.7h0M2004.4 2323.9h0M2013.2 2304.9h0M2011 2286.3h0M2011 2292.9h0M2015.1 2292.9h0M2020.7 2287.2h0M2025.1 2276h0M2031.1 2277.8h0M2032.4 2274.1h0M2026.4 2298.9h0M2030.7 2291.9h0M2006.7 2263.4h0M2012.3 2250.6h0M2022.2 2265.1h0M2033.9 2252.5h0M2036.7 2248.7h0M2043.3 2267.5h0M2047 2256.8h0M2048 2255.3h0M1964.4 2336.1h0M1974.7 2330.4h0M1977.6 2332.7h0M1971.9 2334.2h0M1989.8 2321h0" stroke="#111" stroke-width="4.2" stroke-linecap="round" fill="none"/>
<path d="M1875.8 2243.1V2420.5H2053.2" stroke="#1a1a1a" stroke-width="1.5" fill="none"/>
<path d="M1915.2 2420.5V2415.5M1875.8 2381.1H1880.8M1964.5 2420.5V2415.5M1875.8 2331.8H1880.8M2013.8 2420.5V2415.5M1875.8 2282.5H1880.8" stroke="#1a1a1a" stroke-width="1.4" fill="none"/>
<g fill="#111" font-size="31"><text x="1964.5" y="2457.5" text-anchor="middle">0</text><text x="1868.8" y="2391.8" text-anchor="end">-100</text><text x="1868.8" y="2342.5" text-anchor="end">0</text><text x="1868.8" y="2293.2" text-anchor="end">100</text></g>
<text x="1796.3" y="2331.8" font-size="34.3" fill="#111" text-anchor="middle" transform="rotate(-90 1796.3 2331.8)">Egocentric</text>
<text x="1863" y="2508.4" font-size="33.8" fill="#111">Allocentric (<tspan font-size="24" dy="-12">o</tspan><tspan dy="12">)</tspan></text>
<text x="50.5" y="134.1" font-size="34.6" fill="#1410b4" text-anchor="middle" transform="rotate(-90 50.5 134.1)">Trial #</text>
<text x="612.4" y="141.7" font-size="34.6" fill="#1410b4" text-anchor="middle" transform="rotate(-90 612.4 141.7)">FR (Hz)</text>
<text x="1160.5" y="447.7" font-size="32.5" fill="#111" text-anchor="middle" transform="rotate(-90 1160.5 447.7)">% Data</text>
<g font-size="65" font-weight="bold" fill="#000"><text x="0" y="0" transform="translate(0.3 35.2) scale(0.9 1)">a</text><text x="-0.5" y="349.2">b</text><text x="-0.5" y="663.2">c</text><text x="-0.5" y="977.2">d</text><text x="-0.5" y="1291.2">e</text><text x="-0.5" y="1605.2">f</text><text x="-0.5" y="1919.2">g</text><text x="-0.5" y="2233.2">h</text></g>
</svg>
</body></html>
